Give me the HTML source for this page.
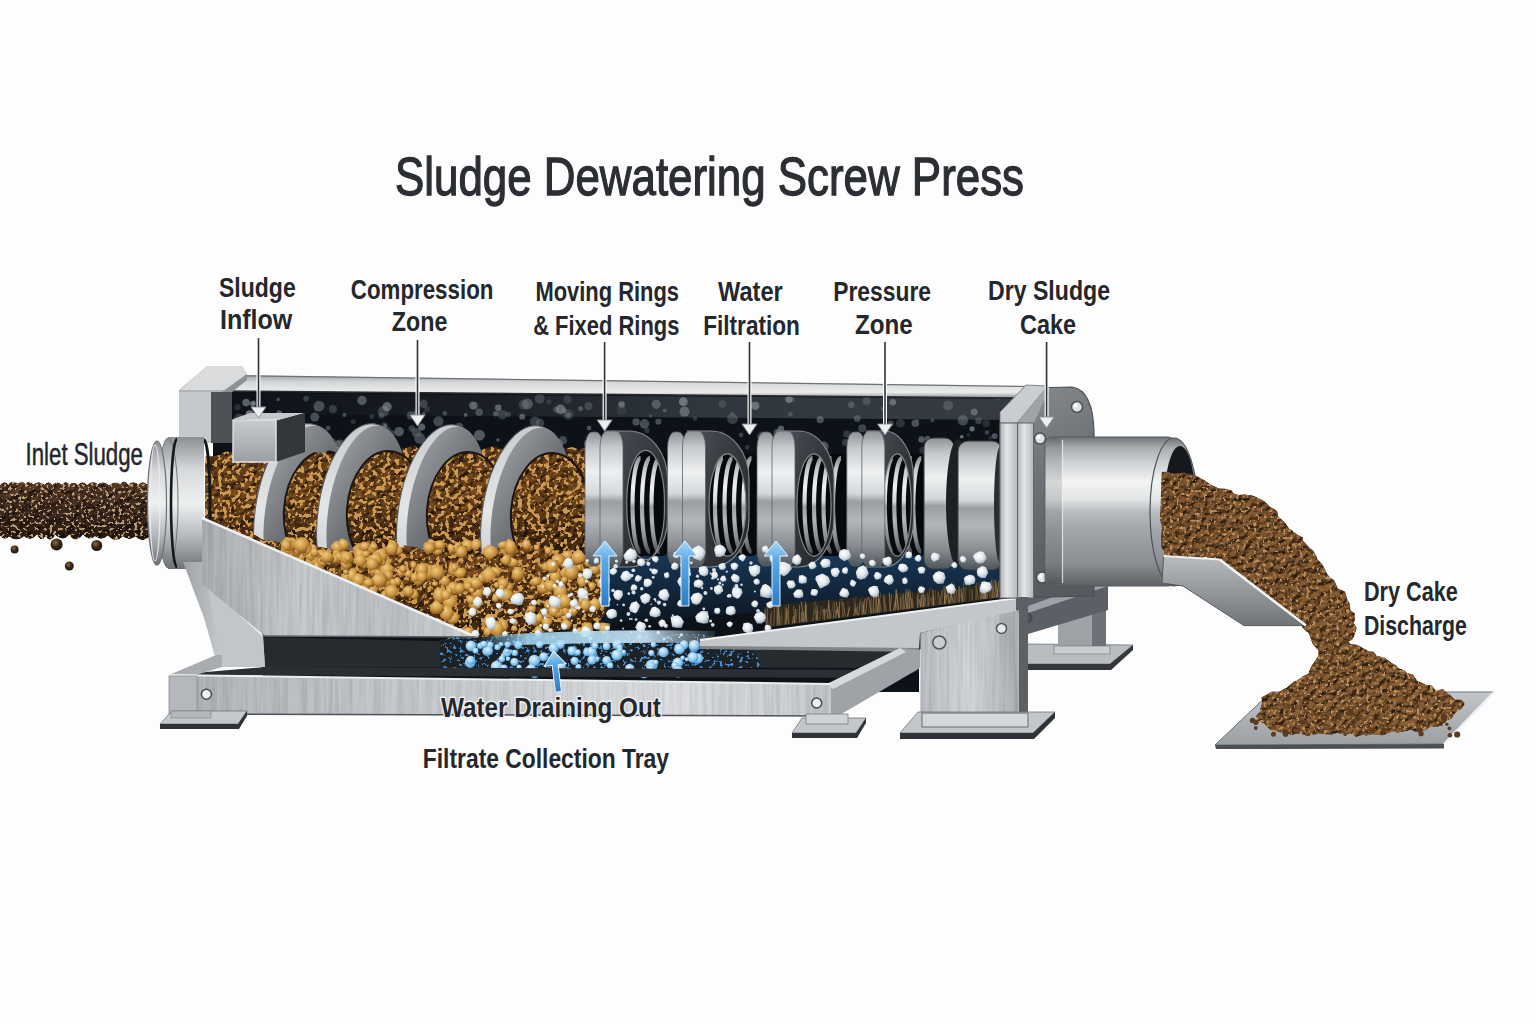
<!DOCTYPE html>
<html><head><meta charset="utf-8"><title>Sludge Dewatering Screw Press</title>
<style>
html,body{margin:0;padding:0;background:#fdfdfd;}
body{width:1536px;height:1024px;overflow:hidden;}
svg{display:block;}
text{font-family:"Liberation Sans",sans-serif;}
.lb{font-weight:bold;fill:#24272c;font-size:28px;}
</style></head>
<body>
<svg width="1536" height="1024" viewBox="0 0 1536 1024">
<defs>
<linearGradient id="gBar" x1="0" y1="0" x2="0" y2="1">
 <stop offset="0" stop-color="#9a9ea3"/><stop offset="0.3" stop-color="#d3d5d7"/><stop offset="0.75" stop-color="#eceded"/><stop offset="1" stop-color="#8d9196"/>
</linearGradient>
<linearGradient id="gSteelH" x1="0" y1="0" x2="1" y2="0">
 <stop offset="0" stop-color="#8d9196"/><stop offset="0.4" stop-color="#d9dbdd"/><stop offset="1" stop-color="#a3a7ab"/>
</linearGradient>
<linearGradient id="gCyl" x1="0" y1="0" x2="0" y2="1">
 <stop offset="0" stop-color="#6f7378"/><stop offset="0.07" stop-color="#a9adb1"/><stop offset="0.18" stop-color="#d0d3d5"/><stop offset="0.3" stop-color="#f3f4f4"/><stop offset="0.42" stop-color="#e2e4e5"/><stop offset="0.5" stop-color="#b9bcbf"/><stop offset="0.62" stop-color="#a3a7ab"/><stop offset="0.85" stop-color="#8a8e93"/><stop offset="1" stop-color="#5d6166"/>
</linearGradient>
<linearGradient id="gFlange" x1="0" y1="0" x2="0" y2="1">
 <stop offset="0" stop-color="#8c9095"/><stop offset="0.25" stop-color="#d7d9db"/><stop offset="0.5" stop-color="#eef0f0"/><stop offset="0.75" stop-color="#b7babd"/><stop offset="1" stop-color="#6e7277"/>
</linearGradient>
<linearGradient id="gRing" x1="0" y1="0" x2="1" y2="0">
 <stop offset="0" stop-color="#6c7176"/><stop offset="0.12" stop-color="#c9ccd0"/><stop offset="0.3" stop-color="#f1f2f3"/><stop offset="0.45" stop-color="#a9adb2"/><stop offset="0.6" stop-color="#d7dadc"/><stop offset="0.8" stop-color="#8d9297"/><stop offset="1" stop-color="#4f5459"/>
</linearGradient>
<linearGradient id="gRingV" x1="0" y1="0" x2="0" y2="1">
 <stop offset="0" stop-color="#000" stop-opacity="0.35"/><stop offset="0.3" stop-color="#fff" stop-opacity="0.15"/><stop offset="0.55" stop-color="#000" stop-opacity="0"/><stop offset="1" stop-color="#000" stop-opacity="0.35"/>
</linearGradient>
<linearGradient id="gFace" x1="0" y1="0" x2="1" y2="0">
 <stop offset="0" stop-color="#2b2f34"/><stop offset="0.6" stop-color="#4a4f55"/><stop offset="1" stop-color="#2a2e33"/>
</linearGradient>
<linearGradient id="gFlight" x1="0" y1="0" x2="1" y2="0">
 <stop offset="0" stop-color="#9ea2a6"/><stop offset="0.35" stop-color="#5b6065"/><stop offset="1" stop-color="#2e3237"/>
</linearGradient>
<linearGradient id="gBrown" x1="0" y1="0" x2="0" y2="1">
 <stop offset="0" stop-color="#4e3014"/><stop offset="0.45" stop-color="#5e3b18"/><stop offset="1" stop-color="#2e1c0a"/>
</linearGradient>
<linearGradient id="gGold" x1="0" y1="0" x2="0" y2="1">
 <stop offset="0" stop-color="#8a5a26"/><stop offset="1" stop-color="#6a4520"/>
</linearGradient>
<linearGradient id="gRope" x1="0" y1="0" x2="0" y2="1">
 <stop offset="0" stop-color="#4a3320"/><stop offset="0.4" stop-color="#5a3e26"/><stop offset="1" stop-color="#2b1d10"/>
</linearGradient>
<linearGradient id="gCake" x1="0" y1="0" x2="1" y2="1">
 <stop offset="0" stop-color="#674526"/><stop offset="1" stop-color="#6e4b2a"/>
</linearGradient>
<linearGradient id="gGusset" x1="0" y1="0" x2="1" y2="0">
 <stop offset="0" stop-color="#bfc2c5"/><stop offset="0.5" stop-color="#e3e4e5"/><stop offset="1" stop-color="#c7cacd"/>
</linearGradient>
<linearGradient id="gRail" x1="0" y1="0" x2="0" y2="1">
 <stop offset="0" stop-color="#b9bcbf"/><stop offset="0.3" stop-color="#e4e5e6"/><stop offset="0.7" stop-color="#d4d6d8"/><stop offset="1" stop-color="#8e9296"/>
</linearGradient>
<linearGradient id="gPlate" x1="0" y1="0" x2="1" y2="0">
 <stop offset="0" stop-color="#868b90"/><stop offset="0.5" stop-color="#a3a7ab"/><stop offset="1" stop-color="#7d8287"/>
</linearGradient>
<linearGradient id="gChute" x1="0" y1="0" x2="0" y2="1">
 <stop offset="0" stop-color="#b9bcc0"/><stop offset="1" stop-color="#6f7479"/>
</linearGradient>
<linearGradient id="gWater" x1="0" y1="0" x2="1" y2="0">
 <stop offset="0" stop-color="#7ec6f0" stop-opacity="0"/><stop offset="0.2" stop-color="#a9dbf6" stop-opacity="0.85"/><stop offset="0.7" stop-color="#c9e7f8" stop-opacity="0.9"/><stop offset="1" stop-color="#d8eefa" stop-opacity="0.1"/>
</linearGradient>
<filter id="grainGold" x="0" y="0" width="100%" height="100%" color-interpolation-filters="sRGB">
 <feTurbulence type="fractalNoise" baseFrequency="0.22" numOctaves="2" seed="4" result="n"/>
 <feColorMatrix in="n" type="matrix" values="0 0 0 0 0.78  0 0 0 0 0.58  0 0 0 0 0.3  16 0 0 0 -8.4" result="s"/>
 <feComposite in="s" in2="SourceGraphic" operator="in" result="s2"/>
 <feMerge><feMergeNode in="SourceGraphic"/><feMergeNode in="s2"/></feMerge>
</filter>
<filter id="grainRope" x="0" y="0" width="100%" height="100%" color-interpolation-filters="sRGB">
 <feTurbulence type="fractalNoise" baseFrequency="0.28" numOctaves="2" seed="11" result="n"/>
 <feColorMatrix in="n" type="matrix" values="0 0 0 0 0.72  0 0 0 0 0.6  0 0 0 0 0.47  14 0 0 0 -8.0" result="s"/>
 <feComposite in="s" in2="SourceGraphic" operator="in" result="s2"/>
 <feMerge><feMergeNode in="SourceGraphic"/><feMergeNode in="s2"/></feMerge>
</filter>
<filter id="grainCake" x="0" y="0" width="100%" height="100%" color-interpolation-filters="sRGB">
 <feTurbulence type="fractalNoise" baseFrequency="0.16" numOctaves="3" seed="7" result="n"/>
 <feColorMatrix in="n" type="matrix" values="0 0 0 0 0.6  0 0 0 0 0.45  0 0 0 0 0.26  10 0 0 0 -5.3" result="s"/>
 <feComposite in="s" in2="SourceGraphic" operator="in" result="s2"/>
 <feTurbulence type="fractalNoise" baseFrequency="0.13" numOctaves="2" seed="21" result="m"/>
 <feColorMatrix in="m" type="matrix" values="0 0 0 0 0.18  0 0 0 0 0.11  0 0 0 0 0.05  10 0 0 0 -5.6" result="d"/>
 <feComposite in="d" in2="SourceGraphic" operator="in" result="d2"/>
 <feMerge><feMergeNode in="SourceGraphic"/><feMergeNode in="s2"/><feMergeNode in="d2"/></feMerge>
</filter>
<filter id="spk" x="0" y="0" width="100%" height="100%" color-interpolation-filters="sRGB">
 <feTurbulence type="fractalNoise" baseFrequency="0.14" numOctaves="2" seed="3" result="n"/>
 <feColorMatrix in="n" type="matrix" values="0 0 0 0 0.42  0 0 0 0 0.47  0 0 0 0 0.52  10 0 0 0 -6.6" result="s"/>
 <feComposite in="s" in2="SourceGraphic" operator="in" result="s2"/>
 <feMerge><feMergeNode in="SourceGraphic"/><feMergeNode in="s2"/></feMerge>
</filter>
<filter id="spkBlue" x="0" y="0" width="100%" height="100%" color-interpolation-filters="sRGB">
 <feTurbulence type="fractalNoise" baseFrequency="0.3" numOctaves="2" seed="5" result="n"/>
 <feColorMatrix in="n" type="matrix" values="0 0 0 0 0.25  0 0 0 0 0.55  0 0 0 0 0.82  12 0 0 0 -7.0" result="s"/>
 <feComposite in="s" in2="SourceGraphic" operator="in" result="s2"/>
 <feMerge><feMergeNode in="SourceGraphic"/><feMergeNode in="s2"/></feMerge>
</filter>
<filter id="brush" x="0" y="0" width="100%" height="100%" color-interpolation-filters="sRGB">
 <feTurbulence type="fractalNoise" baseFrequency="0.3 0.012" numOctaves="2" seed="2" result="n"/>
 <feColorMatrix in="n" type="matrix" values="1.6 0 0 0 -0.05  1.6 0 0 0 -0.04  1.6 0 0 0 -0.02  0 0 0 0 0.1" result="s"/>
 <feComposite in="s" in2="SourceGraphic" operator="in" result="s2"/>
 <feMerge><feMergeNode in="SourceGraphic"/><feMergeNode in="s2"/></feMerge>
</filter>
<marker id="ah" viewBox="0 0 12 10" refX="6" refY="9" markerWidth="12" markerHeight="10" markerUnits="userSpaceOnUse" orient="auto-start-reverse">
</marker>
<filter id="lumpyCake" x="0" y="0" width="100%" height="100%" color-interpolation-filters="sRGB">
 <feTurbulence type="fractalNoise" baseFrequency="0.17" numOctaves="3" seed="7" result="n"/>
 <feColorMatrix in="n" type="matrix" values="0 0 0 0 0  0 0 0 0 0  0 0 0 0 0  1.6 0 0 0 -0.3" result="h"/>
 <feDiffuseLighting in="h" surfaceScale="3" diffuseConstant="1" lighting-color="#ffffff" result="light"><feDistantLight azimuth="240" elevation="50"/></feDiffuseLighting>
 <feComposite in="light" in2="SourceGraphic" operator="arithmetic" k1="0.95" k2="0" k3="0.38" k4="0" result="lit"/>
 <feTurbulence type="fractalNoise" baseFrequency="0.3" numOctaves="2" seed="13" result="m"/>
 <feColorMatrix in="m" type="matrix" values="0 0 0 0 0.72  0 0 0 0 0.56  0 0 0 0 0.36  14 0 0 0 -8.4" result="sp"/>
 <feMerge result="all"><feMergeNode in="lit"/><feMergeNode in="sp"/></feMerge>
 <feComposite in="all" in2="SourceGraphic" operator="in"/>
</filter>
<filter id="lumpyRope" x="0" y="0" width="100%" height="100%" color-interpolation-filters="sRGB">
 <feTurbulence type="fractalNoise" baseFrequency="0.14" numOctaves="3" seed="19" result="n"/>
 <feColorMatrix in="n" type="matrix" values="0 0 0 0 0  0 0 0 0 0  0 0 0 0 0  1.6 0 0 0 -0.3" result="h"/>
 <feDiffuseLighting in="h" surfaceScale="3" diffuseConstant="1" lighting-color="#ffffff" result="light"><feDistantLight azimuth="240" elevation="50"/></feDiffuseLighting>
 <feComposite in="light" in2="SourceGraphic" operator="arithmetic" k1="0.95" k2="0" k3="0.4" k4="0" result="lit"/>
 <feTurbulence type="fractalNoise" baseFrequency="0.32" numOctaves="2" seed="11" result="m"/>
 <feColorMatrix in="m" type="matrix" values="0 0 0 0 0.74  0 0 0 0 0.62  0 0 0 0 0.48  14 0 0 0 -8.2" result="sp"/>
 <feMerge result="all"><feMergeNode in="lit"/><feMergeNode in="sp"/></feMerge>
 <feComposite in="all" in2="SourceGraphic" operator="in"/>
</filter>
<filter id="lumpyGold" x="0" y="0" width="100%" height="100%" color-interpolation-filters="sRGB">
 <feTurbulence type="fractalNoise" baseFrequency="0.15" numOctaves="3" seed="4" result="n"/>
 <feColorMatrix in="n" type="matrix" values="0 0 0 0 0  0 0 0 0 0  0 0 0 0 0  1.6 0 0 0 -0.3" result="h"/>
 <feDiffuseLighting in="h" surfaceScale="3" diffuseConstant="1" lighting-color="#ffffff" result="light"><feDistantLight azimuth="240" elevation="50"/></feDiffuseLighting>
 <feComposite in="light" in2="SourceGraphic" operator="arithmetic" k1="0.95" k2="0" k3="0.4" k4="0" result="lit"/>
 <feTurbulence type="fractalNoise" baseFrequency="0.22" numOctaves="2" seed="4" result="m"/>
 <feColorMatrix in="m" type="matrix" values="0 0 0 0 0.8  0 0 0 0 0.6  0 0 0 0 0.32  16 0 0 0 -8.6" result="sp"/>
 <feMerge result="all"><feMergeNode in="lit"/><feMergeNode in="sp"/></feMerge>
 <feComposite in="all" in2="SourceGraphic" operator="in"/>
</filter>
</defs>
<rect x="0" y="0" width="1536" height="1024" fill="#fdfdfd"/>
<!-- TITLE -->
<text x="395.0" y="195" font-size="54" fill="#2b2e33" stroke="#2b2e33" stroke-width="1.3" textLength="629.0" lengthAdjust="spacingAndGlyphs">Sludge Dewatering Screw Press</text>
<g class="lb">
<text class="lb" x="219.0" y="297.3" textLength="76.7" lengthAdjust="spacingAndGlyphs">Sludge</text>
<text class="lb" x="220.0" y="328.6" textLength="72.3" lengthAdjust="spacingAndGlyphs">Inflow</text>
<text class="lb" x="350.8" y="298.9" textLength="142.6" lengthAdjust="spacingAndGlyphs">Compression</text>
<text class="lb" x="391.8" y="330.5" textLength="55.6" lengthAdjust="spacingAndGlyphs">Zone</text>
<text class="lb" x="535.4" y="300.9" textLength="143.6" lengthAdjust="spacingAndGlyphs">Moving Rings</text>
<text class="lb" x="533.2" y="334.5" textLength="146.2" lengthAdjust="spacingAndGlyphs">&amp; Fixed Rings</text>
<text class="lb" x="718.0" y="300.9" textLength="64.7" lengthAdjust="spacingAndGlyphs">Water</text>
<text class="lb" x="703.2" y="334.5" textLength="96.7" lengthAdjust="spacingAndGlyphs">Filtration</text>
<text class="lb" x="833.2" y="300.9" textLength="97.8" lengthAdjust="spacingAndGlyphs">Pressure</text>
<text class="lb" x="855.0" y="334" textLength="57.8" lengthAdjust="spacingAndGlyphs">Zone</text>
<text class="lb" x="988.0" y="300.3" textLength="122.0" lengthAdjust="spacingAndGlyphs">Dry Sludge</text>
<text class="lb" x="1020.0" y="333.5" textLength="56.0" lengthAdjust="spacingAndGlyphs">Cake</text>
</g>
<text x="25.6" y="464.5" font-size="30.5" fill="#24272c" stroke="#24272c" stroke-width="0.5" textLength="117.3" lengthAdjust="spacingAndGlyphs">Inlet Sludge</text>
<text class="lb" x="1364.0" y="600.5" textLength="93.8" lengthAdjust="spacingAndGlyphs">Dry Cake</text>
<text class="lb" x="1364.0" y="634.7" textLength="102.9" lengthAdjust="spacingAndGlyphs">Discharge</text>
<!-- inlet rope -->
<defs><linearGradient id="gRope2" x1="0" y1="0" x2="0" y2="1"><stop offset="0" stop-color="#46301e"/><stop offset="0.45" stop-color="#34231a"/><stop offset="1" stop-color="#22150b"/></linearGradient>
<radialGradient id="gDrip" cx="0.4" cy="0.35" r="0.7"><stop offset="0" stop-color="#8a6a50"/><stop offset="0.5" stop-color="#3b2814"/><stop offset="1" stop-color="#1e130a"/></radialGradient></defs>
<path d="M0,485 Q4.1,479.7 8.2,484.3 Q13.2,479.6 18.2,483.8 Q21.7,479.2 25.3,484.1 Q29.4,479.0 33.4,484.5 Q39.0,479.8 44.6,484.7 Q48.5,479.5 52.4,485.1 Q57.2,479.4 62.0,484.8 Q65.7,479.4 69.3,484.6 Q73.6,480.5 77.8,485.1 Q82.5,479.4 87.2,485.1 Q92.5,479.1 97.8,484.3 Q103.3,479.8 108.8,485.2 Q114.5,480.4 120.2,483.9 Q124.2,479.1 128.2,484.4 Q133.3,480.0 138.4,484.5 Q142.8,480.0 147.3,484.6 Q148.7,479.1 150.0,484.8 L150,536 Q142.7,544.0 135.5,536.5 Q129.1,541.6 122.8,536.2 Q115.4,544.2 108.0,535.6 Q101.5,541.7 95.0,536.2 Q89.0,542.0 83.0,534.6 Q76.0,544.5 69.1,534.7 Q62.3,542.4 55.5,534.8 Q50.4,543.7 45.4,536.2 Q41.2,543.2 37.1,534.6 Q30.6,542.2 24.1,536.3 Q16.6,542.8 9.2,536.5 Q4.6,541.3 0.0,535.7 Z" fill="url(#gRope2)" filter="url(#lumpyRope)"/>
<circle cx="14.6" cy="549.4" r="4" fill="url(#gDrip)"/>
<circle cx="56.6" cy="544.5" r="6" fill="url(#gDrip)"/>
<circle cx="96.7" cy="545.5" r="5.5" fill="url(#gDrip)"/>
<circle cx="69.3" cy="566" r="4.5" fill="url(#gDrip)"/>
<!-- far right support behind -->
<polygon points="1026,644 1133,645 1110,664 1026,664" fill="#b9bcc0" stroke="#6f7479" stroke-width="0.8"/>
<polygon points="1026,664 1110,664 1133,645 1133,650 1111,670 1026,670" fill="#34383d"/>
<polygon points="1058,598 1106,586 1106,652 1058,652" fill="#9ea2a7"/>
<polygon points="1092,589 1106,586 1106,652 1092,652" fill="#6d7278"/>
<rect x="1054" y="646" width="56" height="8" fill="#c9ccd0" stroke="#6f7479" stroke-width="0.6"/>
<!-- dark interior of housing -->
<polygon points="213,389 1022,396 1022,420 1010,430 1010,600 919,650 919,692 262,692 262,600 213,560" fill="#0c1218"/>
<!-- tray back wall -->
<polygon points="262,637 920,652 920,668 262,667" fill="#262b30"/>
<!-- blue tint under rings -->
<defs><linearGradient id="gBlueTint" x1="0" y1="0" x2="0" y2="1"><stop offset="0" stop-color="#1b426a"/><stop offset="1" stop-color="#0c1620"/></linearGradient></defs>
<path d="M585,530 L1000,530 L1000,590 L760,612 L585,625 Z" fill="url(#gBlueTint)"/>
<!-- mesh band -->
<defs><linearGradient id="gMesh" x1="0" y1="0" x2="1" y2="0"><stop offset="0" stop-color="#0c1218"/><stop offset="0.35" stop-color="#1a2026"/><stop offset="0.6" stop-color="#30373e"/><stop offset="1" stop-color="#343b42"/></linearGradient></defs>
<polygon points="225,393 1020,399 1020,420 225,414" fill="url(#gMesh)"/>
<!-- blue tint lower -->
<path d="M440,640 Q470,630 520,636 L700,634 Q760,640 760,668 L440,668 Z" fill="#1c2126" filter="url(#spkBlue)"/>
<circle cx="237.5" cy="407.2" r="3.1" fill="#5c646c" opacity="0.35"/>
<circle cx="314.8" cy="417.0" r="4.5" fill="#697179" opacity="0.64"/>
<circle cx="253.6" cy="403.0" r="2.4" fill="#9098a0" opacity="0.48"/>
<circle cx="386.2" cy="446.6" r="2.0" fill="#8a929a" opacity="0.42"/>
<circle cx="387.0" cy="430.1" r="3.9" fill="#767e86" opacity="0.37"/>
<circle cx="395.5" cy="446.0" r="3.7" fill="#5d656d" opacity="0.59"/>
<circle cx="502.4" cy="414.7" r="4.8" fill="#878f97" opacity="0.31"/>
<circle cx="795.5" cy="469.2" r="2.4" fill="#8e969e" opacity="0.56"/>
<circle cx="377.6" cy="450.6" r="2.4" fill="#5c646c" opacity="0.39"/>
<circle cx="454.5" cy="444.9" r="3.4" fill="#7f878f" opacity="0.64"/>
<circle cx="981.8" cy="479.5" r="2.7" fill="#6d757d" opacity="0.50"/>
<circle cx="362.0" cy="400.4" r="4.7" fill="#868e96" opacity="0.54"/>
<circle cx="301.8" cy="430.7" r="5.1" fill="#707880" opacity="0.34"/>
<circle cx="384.4" cy="425.4" r="3.1" fill="#5d656d" opacity="0.50"/>
<circle cx="319.1" cy="406.1" r="5.4" fill="#666e76" opacity="0.64"/>
<circle cx="383.3" cy="411.3" r="5.5" fill="#6a727a" opacity="0.47"/>
<circle cx="515.5" cy="448.2" r="4.0" fill="#5b636b" opacity="0.60"/>
<circle cx="602.7" cy="463.4" r="3.5" fill="#5a626a" opacity="0.39"/>
<circle cx="236.6" cy="428.8" r="2.6" fill="#6d757d" opacity="0.65"/>
<circle cx="330.0" cy="444.5" r="4.0" fill="#717981" opacity="0.58"/>
<circle cx="958.8" cy="469.1" r="3.7" fill="#9ea6ae" opacity="0.54"/>
<circle cx="781.5" cy="436.3" r="2.0" fill="#666e76" opacity="0.48"/>
<circle cx="495.8" cy="413.7" r="2.7" fill="#878f97" opacity="0.50"/>
<circle cx="556.0" cy="409.5" r="3.0" fill="#7e868e" opacity="0.37"/>
<circle cx="915.3" cy="423.2" r="3.8" fill="#798189" opacity="0.56"/>
<circle cx="866.6" cy="400.7" r="4.0" fill="#7a828a" opacity="0.39"/>
<circle cx="381.2" cy="415.6" r="2.9" fill="#868e96" opacity="0.34"/>
<circle cx="394.8" cy="477.5" r="4.3" fill="#969ea6" opacity="0.46"/>
<circle cx="731.4" cy="452.0" r="3.2" fill="#5f676f" opacity="0.47"/>
<circle cx="457.4" cy="436.8" r="1.5" fill="#575f67" opacity="0.40"/>
<circle cx="438.4" cy="421.3" r="5.1" fill="#767e86" opacity="0.50"/>
<circle cx="474.8" cy="405.9" r="3.8" fill="#6f777f" opacity="0.31"/>
<circle cx="927.6" cy="438.4" r="2.7" fill="#939ba3" opacity="0.48"/>
<circle cx="890.6" cy="423.3" r="3.1" fill="#727a82" opacity="0.49"/>
<circle cx="399.1" cy="431.7" r="4.8" fill="#767e86" opacity="0.64"/>
<circle cx="932.4" cy="420.4" r="1.9" fill="#9da5ad" opacity="0.32"/>
<circle cx="419.7" cy="438.3" r="5.5" fill="#697179" opacity="0.57"/>
<circle cx="466.6" cy="463.5" r="2.4" fill="#8f979f" opacity="0.49"/>
<circle cx="287.2" cy="438.5" r="3.4" fill="#798189" opacity="0.47"/>
<circle cx="597.1" cy="454.2" r="5.1" fill="#828a92" opacity="0.38"/>
<circle cx="994.7" cy="436.1" r="2.9" fill="#9fa7af" opacity="0.44"/>
<circle cx="899.4" cy="448.8" r="2.3" fill="#737b83" opacity="0.63"/>
<circle cx="791.9" cy="435.0" r="3.1" fill="#99a1a9" opacity="0.62"/>
<circle cx="558.5" cy="443.6" r="4.6" fill="#9199a1" opacity="0.32"/>
<circle cx="900.5" cy="423.2" r="4.3" fill="#707880" opacity="0.34"/>
<circle cx="522.2" cy="416.7" r="2.9" fill="#8c949c" opacity="0.57"/>
<circle cx="871.9" cy="447.0" r="4.8" fill="#8c949c" opacity="0.42"/>
<circle cx="371.8" cy="416.5" r="2.5" fill="#6c747c" opacity="0.34"/>
<circle cx="741.1" cy="434.9" r="2.3" fill="#98a0a8" opacity="0.33"/>
<circle cx="845.5" cy="442.4" r="3.4" fill="#848c94" opacity="0.35"/>
<circle cx="564.7" cy="410.8" r="2.5" fill="#808890" opacity="0.41"/>
<circle cx="881.6" cy="443.0" r="4.6" fill="#666e76" opacity="0.54"/>
<circle cx="879.5" cy="465.0" r="2.4" fill="#98a0a8" opacity="0.51"/>
<circle cx="820.2" cy="419.6" r="3.7" fill="#889098" opacity="0.51"/>
<circle cx="646.8" cy="468.2" r="2.5" fill="#606870" opacity="0.53"/>
<circle cx="357.9" cy="454.4" r="2.1" fill="#9ba3ab" opacity="0.55"/>
<circle cx="974.2" cy="412.1" r="3.5" fill="#a1a9b1" opacity="0.42"/>
<circle cx="528.5" cy="471.6" r="2.8" fill="#969ea6" opacity="0.43"/>
<circle cx="465.7" cy="415.0" r="1.9" fill="#929aa2" opacity="0.51"/>
<circle cx="495.0" cy="468.3" r="1.8" fill="#7c848c" opacity="0.58"/>
<circle cx="278.2" cy="399.5" r="1.7" fill="#838b93" opacity="0.50"/>
<circle cx="411.7" cy="428.4" r="3.2" fill="#99a1a9" opacity="0.32"/>
<circle cx="539.9" cy="440.2" r="2.1" fill="#5b636b" opacity="0.42"/>
<circle cx="646.9" cy="430.4" r="2.7" fill="#636b73" opacity="0.41"/>
<circle cx="420.6" cy="469.3" r="5.2" fill="#848c94" opacity="0.48"/>
<circle cx="558.0" cy="479.4" r="5.4" fill="#586068" opacity="0.52"/>
<circle cx="414.0" cy="415.6" r="1.6" fill="#646c74" opacity="0.61"/>
<circle cx="444.8" cy="413.4" r="2.4" fill="#9199a1" opacity="0.36"/>
<circle cx="589.1" cy="428.0" r="2.4" fill="#848c94" opacity="0.53"/>
<circle cx="780.9" cy="428.8" r="3.2" fill="#9fa7af" opacity="0.49"/>
<circle cx="789.0" cy="399.3" r="3.6" fill="#9aa2aa" opacity="0.58"/>
<circle cx="961.8" cy="436.7" r="1.8" fill="#a2aab2" opacity="0.63"/>
<circle cx="633.3" cy="443.3" r="1.5" fill="#979fa7" opacity="0.54"/>
<circle cx="978.5" cy="420.9" r="3.3" fill="#6b737b" opacity="0.46"/>
<circle cx="416.6" cy="413.3" r="3.5" fill="#747c84" opacity="0.34"/>
<circle cx="735.5" cy="447.3" r="2.6" fill="#5b636b" opacity="0.39"/>
<circle cx="439.5" cy="478.9" r="1.6" fill="#899199" opacity="0.44"/>
<circle cx="587.1" cy="443.6" r="3.3" fill="#979fa7" opacity="0.46"/>
<circle cx="751.1" cy="461.4" r="2.2" fill="#828a92" opacity="0.43"/>
<circle cx="353.2" cy="421.6" r="2.6" fill="#676f77" opacity="0.34"/>
<circle cx="423.5" cy="403.7" r="4.2" fill="#959da5" opacity="0.32"/>
<circle cx="650.6" cy="415.8" r="1.9" fill="#5d656d" opacity="0.57"/>
<circle cx="664.7" cy="410.6" r="2.0" fill="#9ea6ae" opacity="0.33"/>
<circle cx="862.2" cy="428.3" r="4.0" fill="#5d656d" opacity="0.60"/>
<circle cx="905.3" cy="467.2" r="5.5" fill="#969ea6" opacity="0.38"/>
<circle cx="591.4" cy="454.3" r="2.4" fill="#99a1a9" opacity="0.53"/>
<circle cx="246.1" cy="402.6" r="3.8" fill="#838b93" opacity="0.65"/>
<circle cx="695.1" cy="418.4" r="2.4" fill="#5e666e" opacity="0.46"/>
<circle cx="340.2" cy="444.5" r="5.0" fill="#656d75" opacity="0.54"/>
<circle cx="530.9" cy="446.0" r="1.8" fill="#777f87" opacity="0.47"/>
<circle cx="636.1" cy="421.9" r="3.7" fill="#899199" opacity="0.48"/>
<circle cx="302.9" cy="444.0" r="2.1" fill="#575f67" opacity="0.62"/>
<circle cx="857.3" cy="418.4" r="3.5" fill="#707880" opacity="0.54"/>
<circle cx="877.2" cy="463.8" r="2.9" fill="#788088" opacity="0.53"/>
<circle cx="534.8" cy="421.6" r="5.0" fill="#868e96" opacity="0.37"/>
<circle cx="473.0" cy="405.6" r="4.0" fill="#8d959d" opacity="0.50"/>
<circle cx="893.8" cy="450.7" r="3.7" fill="#757d85" opacity="0.50"/>
<circle cx="459.1" cy="427.2" r="4.4" fill="#828a92" opacity="0.51"/>
<circle cx="421.7" cy="427.0" r="3.5" fill="#a1a9b1" opacity="0.51"/>
<circle cx="391.3" cy="434.1" r="3.8" fill="#606870" opacity="0.48"/>
<circle cx="539.7" cy="398.8" r="4.9" fill="#5b636b" opacity="0.55"/>
<circle cx="228.2" cy="405.0" r="3.8" fill="#7e868e" opacity="0.38"/>
<circle cx="562.8" cy="440.3" r="4.3" fill="#7a828a" opacity="0.49"/>
<circle cx="755.2" cy="405.8" r="4.1" fill="#8d959d" opacity="0.62"/>
<circle cx="423.8" cy="413.3" r="1.6" fill="#808890" opacity="0.50"/>
<circle cx="303.4" cy="425.8" r="3.7" fill="#6a727a" opacity="0.52"/>
<circle cx="508.2" cy="414.3" r="2.6" fill="#596169" opacity="0.53"/>
<circle cx="684.5" cy="411.6" r="5.0" fill="#98a0a8" opacity="0.49"/>
<circle cx="747.4" cy="447.2" r="2.3" fill="#606870" opacity="0.46"/>
<circle cx="257.0" cy="435.9" r="2.9" fill="#7e868e" opacity="0.36"/>
<circle cx="793.6" cy="439.3" r="1.9" fill="#676f77" opacity="0.41"/>
<circle cx="858.8" cy="453.6" r="5.2" fill="#575f67" opacity="0.32"/>
<circle cx="609.2" cy="477.8" r="2.7" fill="#949ca4" opacity="0.35"/>
<circle cx="521.9" cy="466.7" r="2.5" fill="#798189" opacity="0.59"/>
<circle cx="962.9" cy="420.2" r="5.3" fill="#7d858d" opacity="0.47"/>
<circle cx="332.6" cy="441.7" r="3.5" fill="#6f777f" opacity="0.39"/>
<circle cx="782.4" cy="460.2" r="2.6" fill="#777f87" opacity="0.48"/>
<circle cx="732.5" cy="418.7" r="5.4" fill="#7a828a" opacity="0.40"/>
<circle cx="279.3" cy="413.2" r="2.9" fill="#a0a8b0" opacity="0.47"/>
<circle cx="968.4" cy="434.8" r="1.7" fill="#717981" opacity="0.30"/>
<circle cx="503.2" cy="474.0" r="1.7" fill="#889098" opacity="0.61"/>
<circle cx="519.0" cy="436.6" r="4.0" fill="#7c848c" opacity="0.51"/>
<circle cx="504.3" cy="461.5" r="4.3" fill="#7c848c" opacity="0.51"/>
<circle cx="332.9" cy="408.9" r="4.0" fill="#9199a1" opacity="0.30"/>
<circle cx="972.1" cy="428.8" r="2.6" fill="#9fa7af" opacity="0.62"/>
<circle cx="498.0" cy="439.9" r="1.7" fill="#929aa2" opacity="0.53"/>
<circle cx="285.4" cy="478.6" r="5.2" fill="#7d858d" opacity="0.56"/>
<circle cx="580.6" cy="408.6" r="2.5" fill="#838b93" opacity="0.44"/>
<circle cx="267.8" cy="452.6" r="4.7" fill="#5d656d" opacity="0.62"/>
<circle cx="971.8" cy="450.5" r="2.9" fill="#979fa7" opacity="0.37"/>
<circle cx="986.9" cy="432.5" r="2.2" fill="#767e86" opacity="0.46"/>
<circle cx="546.2" cy="441.6" r="2.4" fill="#636b73" opacity="0.52"/>
<circle cx="883.3" cy="409.0" r="2.2" fill="#7e868e" opacity="0.50"/>
<circle cx="792.3" cy="399.7" r="2.6" fill="#717981" opacity="0.32"/>
<circle cx="865.8" cy="442.4" r="5.1" fill="#99a1a9" opacity="0.46"/>
<circle cx="775.5" cy="459.5" r="3.0" fill="#959da5" opacity="0.64"/>
<circle cx="644.5" cy="423.9" r="4.8" fill="#6d757d" opacity="0.60"/>
<circle cx="527.5" cy="404.0" r="5.4" fill="#717981" opacity="0.58"/>
<circle cx="523.9" cy="404.6" r="5.1" fill="#757d85" opacity="0.37"/>
<circle cx="306.1" cy="398.7" r="2.9" fill="#606870" opacity="0.49"/>
<circle cx="498.2" cy="407.8" r="3.3" fill="#969ea6" opacity="0.54"/>
<circle cx="249.6" cy="414.2" r="4.0" fill="#a1a9b1" opacity="0.63"/>
<circle cx="684.1" cy="454.1" r="3.1" fill="#5b636b" opacity="0.64"/>
<circle cx="244.7" cy="443.2" r="5.5" fill="#777f87" opacity="0.60"/>
<circle cx="823.7" cy="446.5" r="4.9" fill="#798189" opacity="0.60"/>
<circle cx="563.1" cy="474.9" r="3.2" fill="#868e96" opacity="0.35"/>
<circle cx="917.7" cy="420.4" r="1.5" fill="#575f67" opacity="0.59"/>
<circle cx="598.2" cy="476.3" r="1.9" fill="#757d85" opacity="0.39"/>
<circle cx="857.4" cy="445.1" r="2.4" fill="#717981" opacity="0.53"/>
<circle cx="948.2" cy="405.4" r="5.0" fill="#9199a1" opacity="0.31"/>
<circle cx="479.4" cy="435.2" r="5.5" fill="#798189" opacity="0.64"/>
<circle cx="344.5" cy="414.9" r="2.1" fill="#777f87" opacity="0.53"/>
<circle cx="567.5" cy="399.4" r="4.1" fill="#596169" opacity="0.41"/>
<circle cx="986.2" cy="423.2" r="3.7" fill="#606870" opacity="0.34"/>
<circle cx="387.1" cy="406.7" r="4.6" fill="#969ea6" opacity="0.57"/>
<circle cx="790.4" cy="414.1" r="2.4" fill="#9098a0" opacity="0.30"/>
<circle cx="990.7" cy="437.7" r="2.0" fill="#5a626a" opacity="0.36"/>
<circle cx="997.7" cy="398.3" r="2.1" fill="#575f67" opacity="0.53"/>
<circle cx="328.1" cy="428.2" r="2.4" fill="#9199a1" opacity="0.42"/>
<circle cx="921.6" cy="439.4" r="3.2" fill="#8e969e" opacity="0.56"/>
<circle cx="621.6" cy="404.5" r="3.3" fill="#899199" opacity="0.62"/>
<circle cx="245.7" cy="428.1" r="4.3" fill="#969ea6" opacity="0.47"/>
<circle cx="427.0" cy="409.0" r="2.9" fill="#596169" opacity="0.38"/>
<circle cx="732.0" cy="413.6" r="2.1" fill="#586068" opacity="0.53"/>
<circle cx="721.3" cy="433.2" r="2.5" fill="#5f676f" opacity="0.30"/>
<circle cx="630.9" cy="453.6" r="4.3" fill="#687078" opacity="0.30"/>
<circle cx="588.5" cy="406.3" r="4.0" fill="#7e868e" opacity="0.34"/>
<circle cx="413.3" cy="463.4" r="3.8" fill="#818991" opacity="0.41"/>
<circle cx="249.5" cy="440.0" r="2.7" fill="#697179" opacity="0.37"/>
<circle cx="621.6" cy="410.3" r="4.9" fill="#586068" opacity="0.31"/>
<circle cx="560.6" cy="409.4" r="4.9" fill="#939ba3" opacity="0.57"/>
<circle cx="315.6" cy="408.7" r="2.3" fill="#5c646c" opacity="0.31"/>
<circle cx="596.5" cy="472.5" r="1.6" fill="#7e868e" opacity="0.50"/>
<circle cx="722.6" cy="403.9" r="3.8" fill="#575f67" opacity="0.56"/>
<circle cx="922.5" cy="450.3" r="3.2" fill="#5e666e" opacity="0.36"/>
<circle cx="803.3" cy="448.6" r="4.3" fill="#9ea6ae" opacity="0.47"/>
<circle cx="373.6" cy="425.4" r="2.8" fill="#969ea6" opacity="0.35"/>
<circle cx="762.3" cy="436.7" r="5.2" fill="#8d959d" opacity="0.36"/>
<circle cx="657.0" cy="452.2" r="3.1" fill="#858d95" opacity="0.59"/>
<circle cx="416.4" cy="432.5" r="4.6" fill="#616971" opacity="0.61"/>
<circle cx="683.3" cy="401.7" r="4.4" fill="#a1a9b1" opacity="0.57"/>
<circle cx="555.1" cy="470.6" r="2.7" fill="#6e767e" opacity="0.38"/>
<circle cx="639.5" cy="443.9" r="2.6" fill="#666e76" opacity="0.47"/>
<circle cx="479.2" cy="412.3" r="3.7" fill="#6f777f" opacity="0.57"/>
<circle cx="846.7" cy="434.1" r="3.5" fill="#586068" opacity="0.52"/>
<circle cx="892.8" cy="402.3" r="3.3" fill="#939ba3" opacity="0.54"/>
<circle cx="540.0" cy="422.9" r="4.4" fill="#616971" opacity="0.51"/>
<circle cx="712.1" cy="449.0" r="3.5" fill="#676f77" opacity="0.33"/>
<circle cx="615.5" cy="474.9" r="4.4" fill="#707880" opacity="0.53"/>
<circle cx="359.7" cy="437.3" r="5.5" fill="#666e76" opacity="0.31"/>
<circle cx="252.6" cy="404.0" r="2.8" fill="#9199a1" opacity="0.56"/>
<circle cx="851.3" cy="404.7" r="3.2" fill="#a2aab2" opacity="0.31"/>
<circle cx="568.3" cy="414.5" r="5.4" fill="#687078" opacity="0.32"/>
<circle cx="315.4" cy="451.6" r="5.4" fill="#8a929a" opacity="0.40"/>
<circle cx="410.9" cy="415.4" r="4.1" fill="#98a0a8" opacity="0.35"/>
<circle cx="339.5" cy="477.8" r="4.8" fill="#8d959d" opacity="0.38"/>
<circle cx="239.3" cy="419.0" r="5.2" fill="#878f97" opacity="0.35"/>
<circle cx="432.6" cy="451.6" r="3.5" fill="#9ba3ab" opacity="0.60"/>
<circle cx="707.6" cy="452.7" r="2.4" fill="#878f97" opacity="0.37"/>
<circle cx="547.7" cy="447.1" r="4.4" fill="#a2aab2" opacity="0.35"/>
<circle cx="777.8" cy="433.3" r="4.5" fill="#848c94" opacity="0.47"/>
<circle cx="284.0" cy="429.1" r="4.0" fill="#5a626a" opacity="0.50"/>
<circle cx="337.9" cy="444.8" r="4.2" fill="#727a82" opacity="0.53"/>
<circle cx="658.3" cy="421.8" r="3.0" fill="#a2aab2" opacity="0.40"/>
<circle cx="385.2" cy="425.8" r="1.8" fill="#878f97" opacity="0.56"/>
<circle cx="568.2" cy="415.1" r="2.9" fill="#868e96" opacity="0.42"/>
<circle cx="524.1" cy="471.2" r="3.3" fill="#9da5ad" opacity="0.48"/>
<circle cx="656.3" cy="404.2" r="4.5" fill="#899199" opacity="0.46"/>
<circle cx="549.0" cy="401.8" r="2.6" fill="#5c646c" opacity="0.35"/>
<!-- top bar -->
<polygon points="222,375 1028,386 1028,398 222,391" fill="url(#gBar)"/>
<line x1="222" y1="375.5" x2="1028" y2="386.5" stroke="#6e7276" stroke-width="1.2"/>
<line x1="222" y1="391" x2="1028" y2="398" stroke="#2a2e32" stroke-width="1.5"/>
<!-- screw core sludge -->
<defs>
<clipPath id="cCore"><path d="M205.2,456.2 L212.4,456.2 L219.4,455.1 L225.3,451.8 L233.7,451.7 L240.6,448.1 L246.0,448.9 L252.1,450.8 L257.3,449.2 L263.7,452.9 L270.4,449.3 L276.4,449.4 L282.2,449.5 L287.3,453.5 L293.6,450.4 L300.7,453.9 L305.9,453.8 L312.6,451.9 L318.3,452.7 L325.3,452.3 L331.8,448.5 L337.3,447.3 L343.2,446.3 L349.7,448.5 L355.6,448.8 L362.5,446.9 L369.6,447.6 L375.2,447.5 L382.1,445.3 L388.9,445.1 L394.9,449.1 L400.2,448.7 L407.1,447.6 L412.9,444.8 L419.5,449.3 L425.5,448.5 L432.6,449.6 L437.8,446.9 L444.0,449.2 L449.4,449.2 L456.4,450.0 L461.3,450.6 L467.4,447.8 L474.2,450.9 L479.8,451.1 L486.1,447.8 L491.7,446.8 L497.4,446.3 L504.3,450.3 L509.5,445.2 L516.7,447.4 L521.9,445.6 L528.1,448.2 L533.9,445.9 L539.3,448.1 L545.8,446.2 L553.5,444.7 L559.8,449.0 L566.2,448.4 L571.9,446.9 L578.5,449.2 L585.2,447.5 L592.0,448.0 L595.0,560.0 L205.0,550.0 Z"/></clipPath>
<linearGradient id="gFace2" x1="0" y1="0" x2="1" y2="1"><stop offset="0" stop-color="#a2a6aa"/><stop offset="0.45" stop-color="#6c7075"/><stop offset="1" stop-color="#3a3e42"/></linearGradient>
<linearGradient id="gRim" x1="0" y1="0" x2="0" y2="1"><stop offset="0" stop-color="#c9cbce"/><stop offset="0.5" stop-color="#e4e5e6"/><stop offset="1" stop-color="#b9bcbf"/></linearGradient>
<clipPath id="ci0"><ellipse cx="323" cy="511" rx="39" ry="60" transform="rotate(4 323 511)"/></clipPath>
<clipPath id="ci1"><ellipse cx="386" cy="511" rx="39" ry="60" transform="rotate(4 386 511)"/></clipPath>
<clipPath id="ci2"><ellipse cx="466" cy="512" rx="39" ry="60" transform="rotate(4 466 512)"/></clipPath>
<clipPath id="ci3"><ellipse cx="550" cy="513" rx="39" ry="60" transform="rotate(4 550 513)"/></clipPath>
</defs>
<path d="M205.2,456.2 L212.4,456.2 L219.4,455.1 L225.3,451.8 L233.7,451.7 L240.6,448.1 L246.0,448.9 L252.1,450.8 L257.3,449.2 L263.7,452.9 L270.4,449.3 L276.4,449.4 L282.2,449.5 L287.3,453.5 L293.6,450.4 L300.7,453.9 L305.9,453.8 L312.6,451.9 L318.3,452.7 L325.3,452.3 L331.8,448.5 L337.3,447.3 L343.2,446.3 L349.7,448.5 L355.6,448.8 L362.5,446.9 L369.6,447.6 L375.2,447.5 L382.1,445.3 L388.9,445.1 L394.9,449.1 L400.2,448.7 L407.1,447.6 L412.9,444.8 L419.5,449.3 L425.5,448.5 L432.6,449.6 L437.8,446.9 L444.0,449.2 L449.4,449.2 L456.4,450.0 L461.3,450.6 L467.4,447.8 L474.2,450.9 L479.8,451.1 L486.1,447.8 L491.7,446.8 L497.4,446.3 L504.3,450.3 L509.5,445.2 L516.7,447.4 L521.9,445.6 L528.1,448.2 L533.9,445.9 L539.3,448.1 L545.8,446.2 L553.5,444.7 L559.8,449.0 L566.2,448.4 L571.9,446.9 L578.5,449.2 L585.2,447.5 L592.0,448.0 L595.0,560.0 L205.0,550.0 Z" fill="url(#gBrown)" filter="url(#lumpyGold)"/>
<ellipse cx="299" cy="514" rx="44" ry="91" transform="rotate(8 299 514)" fill="url(#gRim)" stroke="#5c6065" stroke-width="1"/>
<ellipse cx="304" cy="514" rx="39" ry="89" transform="rotate(8 304 514)" fill="url(#gFace2)"/>
<g clip-path="url(#cCore)"><g clip-path="url(#ci0)"><path d="M205.2,456.2 L212.4,456.2 L219.4,455.1 L225.3,451.8 L233.7,451.7 L240.6,448.1 L246.0,448.9 L252.1,450.8 L257.3,449.2 L263.7,452.9 L270.4,449.3 L276.4,449.4 L282.2,449.5 L287.3,453.5 L293.6,450.4 L300.7,453.9 L305.9,453.8 L312.6,451.9 L318.3,452.7 L325.3,452.3 L331.8,448.5 L337.3,447.3 L343.2,446.3 L349.7,448.5 L355.6,448.8 L362.5,446.9 L369.6,447.6 L375.2,447.5 L382.1,445.3 L388.9,445.1 L394.9,449.1 L400.2,448.7 L407.1,447.6 L412.9,444.8 L419.5,449.3 L425.5,448.5 L432.6,449.6 L437.8,446.9 L444.0,449.2 L449.4,449.2 L456.4,450.0 L461.3,450.6 L467.4,447.8 L474.2,450.9 L479.8,451.1 L486.1,447.8 L491.7,446.8 L497.4,446.3 L504.3,450.3 L509.5,445.2 L516.7,447.4 L521.9,445.6 L528.1,448.2 L533.9,445.9 L539.3,448.1 L545.8,446.2 L553.5,444.7 L559.8,449.0 L566.2,448.4 L571.9,446.9 L578.5,449.2 L585.2,447.5 L592.0,448.0 L595.0,560.0 L205.0,550.0 Z" fill="url(#gBrown)" filter="url(#lumpyGold)"/></g><ellipse cx="323" cy="511" rx="39" ry="60" transform="rotate(4 323 511)" fill="none" stroke="#1b1410" stroke-width="2"/></g>
<ellipse cx="362" cy="514" rx="44" ry="91" transform="rotate(8 362 514)" fill="url(#gRim)" stroke="#5c6065" stroke-width="1"/>
<ellipse cx="367" cy="514" rx="39" ry="89" transform="rotate(8 367 514)" fill="url(#gFace2)"/>
<g clip-path="url(#cCore)"><g clip-path="url(#ci1)"><path d="M205.2,456.2 L212.4,456.2 L219.4,455.1 L225.3,451.8 L233.7,451.7 L240.6,448.1 L246.0,448.9 L252.1,450.8 L257.3,449.2 L263.7,452.9 L270.4,449.3 L276.4,449.4 L282.2,449.5 L287.3,453.5 L293.6,450.4 L300.7,453.9 L305.9,453.8 L312.6,451.9 L318.3,452.7 L325.3,452.3 L331.8,448.5 L337.3,447.3 L343.2,446.3 L349.7,448.5 L355.6,448.8 L362.5,446.9 L369.6,447.6 L375.2,447.5 L382.1,445.3 L388.9,445.1 L394.9,449.1 L400.2,448.7 L407.1,447.6 L412.9,444.8 L419.5,449.3 L425.5,448.5 L432.6,449.6 L437.8,446.9 L444.0,449.2 L449.4,449.2 L456.4,450.0 L461.3,450.6 L467.4,447.8 L474.2,450.9 L479.8,451.1 L486.1,447.8 L491.7,446.8 L497.4,446.3 L504.3,450.3 L509.5,445.2 L516.7,447.4 L521.9,445.6 L528.1,448.2 L533.9,445.9 L539.3,448.1 L545.8,446.2 L553.5,444.7 L559.8,449.0 L566.2,448.4 L571.9,446.9 L578.5,449.2 L585.2,447.5 L592.0,448.0 L595.0,560.0 L205.0,550.0 Z" fill="url(#gBrown)" filter="url(#lumpyGold)"/></g><ellipse cx="386" cy="511" rx="39" ry="60" transform="rotate(4 386 511)" fill="none" stroke="#1b1410" stroke-width="2"/></g>
<ellipse cx="442" cy="515" rx="44" ry="91" transform="rotate(8 442 515)" fill="url(#gRim)" stroke="#5c6065" stroke-width="1"/>
<ellipse cx="447" cy="515" rx="39" ry="89" transform="rotate(8 447 515)" fill="url(#gFace2)"/>
<g clip-path="url(#cCore)"><g clip-path="url(#ci2)"><path d="M205.2,456.2 L212.4,456.2 L219.4,455.1 L225.3,451.8 L233.7,451.7 L240.6,448.1 L246.0,448.9 L252.1,450.8 L257.3,449.2 L263.7,452.9 L270.4,449.3 L276.4,449.4 L282.2,449.5 L287.3,453.5 L293.6,450.4 L300.7,453.9 L305.9,453.8 L312.6,451.9 L318.3,452.7 L325.3,452.3 L331.8,448.5 L337.3,447.3 L343.2,446.3 L349.7,448.5 L355.6,448.8 L362.5,446.9 L369.6,447.6 L375.2,447.5 L382.1,445.3 L388.9,445.1 L394.9,449.1 L400.2,448.7 L407.1,447.6 L412.9,444.8 L419.5,449.3 L425.5,448.5 L432.6,449.6 L437.8,446.9 L444.0,449.2 L449.4,449.2 L456.4,450.0 L461.3,450.6 L467.4,447.8 L474.2,450.9 L479.8,451.1 L486.1,447.8 L491.7,446.8 L497.4,446.3 L504.3,450.3 L509.5,445.2 L516.7,447.4 L521.9,445.6 L528.1,448.2 L533.9,445.9 L539.3,448.1 L545.8,446.2 L553.5,444.7 L559.8,449.0 L566.2,448.4 L571.9,446.9 L578.5,449.2 L585.2,447.5 L592.0,448.0 L595.0,560.0 L205.0,550.0 Z" fill="url(#gBrown)" filter="url(#lumpyGold)"/></g><ellipse cx="466" cy="512" rx="39" ry="60" transform="rotate(4 466 512)" fill="none" stroke="#1b1410" stroke-width="2"/></g>
<ellipse cx="526" cy="516" rx="44" ry="91" transform="rotate(8 526 516)" fill="url(#gRim)" stroke="#5c6065" stroke-width="1"/>
<ellipse cx="531" cy="516" rx="39" ry="89" transform="rotate(8 531 516)" fill="url(#gFace2)"/>
<g clip-path="url(#cCore)"><g clip-path="url(#ci3)"><path d="M205.2,456.2 L212.4,456.2 L219.4,455.1 L225.3,451.8 L233.7,451.7 L240.6,448.1 L246.0,448.9 L252.1,450.8 L257.3,449.2 L263.7,452.9 L270.4,449.3 L276.4,449.4 L282.2,449.5 L287.3,453.5 L293.6,450.4 L300.7,453.9 L305.9,453.8 L312.6,451.9 L318.3,452.7 L325.3,452.3 L331.8,448.5 L337.3,447.3 L343.2,446.3 L349.7,448.5 L355.6,448.8 L362.5,446.9 L369.6,447.6 L375.2,447.5 L382.1,445.3 L388.9,445.1 L394.9,449.1 L400.2,448.7 L407.1,447.6 L412.9,444.8 L419.5,449.3 L425.5,448.5 L432.6,449.6 L437.8,446.9 L444.0,449.2 L449.4,449.2 L456.4,450.0 L461.3,450.6 L467.4,447.8 L474.2,450.9 L479.8,451.1 L486.1,447.8 L491.7,446.8 L497.4,446.3 L504.3,450.3 L509.5,445.2 L516.7,447.4 L521.9,445.6 L528.1,448.2 L533.9,445.9 L539.3,448.1 L545.8,446.2 L553.5,444.7 L559.8,449.0 L566.2,448.4 L571.9,446.9 L578.5,449.2 L585.2,447.5 L592.0,448.0 L595.0,560.0 L205.0,550.0 Z" fill="url(#gBrown)" filter="url(#lumpyGold)"/></g><ellipse cx="550" cy="513" rx="39" ry="60" transform="rotate(4 550 513)" fill="none" stroke="#1b1410" stroke-width="2"/></g>
<path d="M205.9,522.1 L212.3,521.9 L217.8,525.7 L224.2,525.2 L230.5,526.5 L236.9,533.6 L244.4,533.6 L250.0,534.0 L255.5,534.9 L263.0,539.7 L268.5,540.5 L275.5,541.2 L281.5,542.8 L287.3,543.7 L293.4,543.7 L300.5,546.1 L306.3,548.2 L313.6,546.5 L319.1,546.8 L326.2,548.0 L333.3,549.4 L340.3,549.8 L346.4,549.5 L353.8,551.3 L359.7,552.1 L367.3,551.8 L374.2,554.1 L380.0,552.2 L385.4,552.8 L392.8,549.5 L398.3,549.7 L404.4,545.2 L410.5,546.5 L416.3,546.7 L422.2,550.0 L428.2,550.9 L433.1,548.8 L439.9,552.9 L445.5,553.9 L452.2,550.9 L457.9,552.8 L463.2,553.0 L469.7,554.1 L475.4,551.6 L481.9,552.1 L488.2,551.7 L493.5,552.0 L499.1,547.4 L505.6,546.9 L511.3,548.8 L517.8,543.4 L524.2,543.2 L530.1,544.0 L536.1,549.1 L542.6,547.3 L548.6,550.1 L553.8,548.5 L560.2,552.4 L567.1,555.8 L572.7,553.1 L579.5,552.0 L584.3,556.4 L590.2,558.5 L595.2,567.7 L599.8,569.6 L601.5,574.7 L604.9,581.3 L606.8,590.5 L608.2,592.6 L610.9,600.0 L607.3,605.2 L605.9,612.5 L602.1,618.6 L599.3,625.7 L593.2,624.9 L587.2,629.3 L579.1,628.7 L572.9,632.3 L567.2,629.3 L559.6,629.9 L554.2,631.4 L546.9,633.2 L540.3,634.6 L533.8,632.4 L527.1,634.1 L520.0,636.0 L476.0,637.0 L202.0,518.0 Z" fill="url(#gBrown)" filter="url(#lumpyGold)"/>
<defs><radialGradient id="gClump" cx="0.4" cy="0.35" r="0.7"><stop offset="0" stop-color="#f0cc84"/><stop offset="0.55" stop-color="#c99440"/><stop offset="1" stop-color="#7a4c1a"/></radialGradient></defs>
<path d="M435.9,572.0 L435.8,574.7 L433.3,575.1 L430.5,572.5 L429.6,570.0 L432.2,567.6 L434.6,568.6 Z" fill="url(#gClump)"/>
<path d="M329.1,556.9 L326.2,562.6 L320.6,563.4 L312.6,559.2 L314.7,553.9 L318.1,550.1 L325.0,549.0 Z" fill="url(#gClump)"/>
<path d="M355.6,574.7 L352.6,581.2 L347.3,585.2 L342.8,581.5 L341.3,574.9 L348.9,570.1 L351.1,570.9 Z" fill="url(#gClump)"/>
<path d="M461.6,545.5 L459.8,547.8 L456.9,548.1 L455.1,546.6 L454.3,543.5 L456.1,542.5 L459.6,543.4 Z" fill="url(#gClump)"/>
<path d="M379.4,588.1 L373.7,596.7 L369.0,596.3 L363.4,594.5 L363.0,585.8 L367.4,583.4 L377.4,584.9 Z" fill="url(#gClump)"/>
<path d="M435.8,573.1 L432.9,579.4 L428.1,579.8 L422.9,576.3 L421.1,571.2 L425.4,564.8 L432.8,564.6 Z" fill="url(#gClump)"/>
<path d="M550.5,587.2 L547.2,592.6 L540.4,593.8 L536.9,592.0 L536.9,585.7 L540.3,581.4 L546.1,583.7 Z" fill="url(#gClump)"/>
<path d="M604.9,570.0 L602.3,571.3 L596.7,575.1 L588.4,571.1 L590.9,565.3 L595.9,561.2 L600.4,560.4 Z" fill="url(#gClump)"/>
<path d="M513.5,550.5 L511.8,554.3 L507.6,555.5 L501.9,551.5 L503.8,548.0 L505.2,545.2 L510.2,545.0 Z" fill="url(#gClump)"/>
<path d="M315.3,559.2 L314.6,563.3 L311.4,563.6 L307.7,562.3 L307.7,558.0 L309.6,556.0 L315.2,557.7 Z" fill="url(#gClump)"/>
<path d="M460.3,585.9 L456.7,593.5 L449.6,595.7 L446.1,593.2 L445.6,584.8 L451.6,581.8 L457.3,582.6 Z" fill="url(#gClump)"/>
<path d="M573.7,573.3 L568.7,577.4 L564.1,579.5 L559.7,574.6 L560.1,571.1 L565.2,566.1 L568.9,566.1 Z" fill="url(#gClump)"/>
<path d="M438.2,584.3 L436.6,585.9 L434.0,586.6 L431.9,584.4 L433.5,582.3 L434.7,581.3 L437.4,582.1 Z" fill="url(#gClump)"/>
<path d="M359.8,549.5 L358.4,551.2 L355.1,551.8 L352.6,550.2 L352.8,547.5 L355.1,545.4 L358.2,545.1 Z" fill="url(#gClump)"/>
<path d="M298.2,543.6 L295.4,551.8 L291.8,551.0 L286.7,548.8 L285.3,540.3 L291.7,537.0 L298.7,540.4 Z" fill="url(#gClump)"/>
<path d="M582.4,630.1 L581.3,633.2 L578.9,634.2 L576.8,631.9 L576.3,629.4 L578.9,627.0 L581.1,628.1 Z" fill="url(#gClump)"/>
<path d="M416.9,565.2 L415.8,568.5 L413.7,569.0 L410.6,567.0 L410.1,563.1 L413.7,561.0 L415.5,561.8 Z" fill="url(#gClump)"/>
<path d="M398.9,544.9 L396.9,549.7 L391.2,549.7 L387.4,546.7 L388.1,542.9 L389.0,539.2 L394.2,540.6 Z" fill="url(#gClump)"/>
<path d="M344.5,549.3 L342.8,553.2 L335.9,552.9 L330.9,549.3 L331.0,545.0 L335.5,541.1 L342.8,540.9 Z" fill="url(#gClump)"/>
<path d="M473.8,543.0 L470.7,551.0 L464.4,551.2 L463.1,547.9 L461.3,542.0 L465.4,539.3 L472.1,540.7 Z" fill="url(#gClump)"/>
<path d="M483.7,590.7 L481.3,599.8 L477.4,599.1 L470.9,597.1 L472.1,588.2 L474.0,584.9 L482.5,585.4 Z" fill="url(#gClump)"/>
<path d="M610.0,627.9 L607.6,633.5 L603.3,634.8 L598.0,629.1 L598.6,622.9 L601.9,622.5 L610.4,623.4 Z" fill="url(#gClump)"/>
<path d="M600.6,570.2 L598.8,574.4 L595.0,573.3 L589.5,570.1 L588.9,567.0 L593.5,564.3 L597.5,564.9 Z" fill="url(#gClump)"/>
<path d="M418.9,596.2 L418.3,597.9 L413.6,599.4 L409.9,596.8 L409.6,592.2 L414.6,588.9 L417.1,590.6 Z" fill="url(#gClump)"/>
<path d="M596.1,585.3 L594.4,589.5 L592.4,590.5 L588.8,587.0 L587.8,582.8 L591.3,582.1 L594.0,582.2 Z" fill="url(#gClump)"/>
<path d="M459.9,568.7 L458.1,574.4 L453.4,576.1 L448.0,574.3 L448.9,565.2 L453.2,563.0 L460.1,565.2 Z" fill="url(#gClump)"/>
<path d="M297.4,552.9 L296.3,557.6 L293.8,557.7 L291.3,554.8 L290.8,551.4 L294.5,550.5 L297.0,550.7 Z" fill="url(#gClump)"/>
<path d="M561.5,577.8 L560.3,582.2 L556.2,584.0 L550.5,579.7 L549.0,574.2 L554.3,569.6 L558.9,569.8 Z" fill="url(#gClump)"/>
<path d="M551.6,604.0 L551.5,607.4 L546.9,609.3 L544.2,607.1 L544.2,602.0 L546.8,601.5 L549.9,601.5 Z" fill="url(#gClump)"/>
<path d="M593.9,632.8 L593.2,635.0 L587.9,637.5 L581.1,633.6 L580.9,627.2 L584.1,622.1 L591.6,622.8 Z" fill="url(#gClump)"/>
<path d="M457.7,599.2 L456.3,600.9 L452.5,601.9 L449.9,599.7 L449.9,597.3 L453.4,595.0 L456.1,595.7 Z" fill="url(#gClump)"/>
<path d="M443.0,551.6 L441.6,553.6 L436.2,555.5 L433.4,553.9 L433.3,548.0 L437.8,545.6 L439.3,546.5 Z" fill="url(#gClump)"/>
<path d="M518.4,552.1 L514.4,555.1 L506.2,558.2 L502.6,554.8 L503.5,546.8 L509.2,544.3 L516.7,546.2 Z" fill="url(#gClump)"/>
<path d="M395.0,568.6 L390.6,577.5 L386.3,577.8 L379.1,572.6 L379.9,568.1 L384.8,561.3 L390.6,564.6 Z" fill="url(#gClump)"/>
<path d="M358.1,576.0 L356.1,583.2 L351.2,583.1 L346.9,579.0 L346.6,572.1 L348.0,567.9 L355.4,568.2 Z" fill="url(#gClump)"/>
<path d="M551.0,565.5 L547.8,571.2 L544.8,571.1 L541.2,568.8 L541.7,565.0 L545.4,562.0 L550.1,563.3 Z" fill="url(#gClump)"/>
<path d="M349.7,543.4 L347.7,550.3 L342.9,550.8 L339.0,546.0 L337.5,542.4 L341.7,538.0 L345.9,540.2 Z" fill="url(#gClump)"/>
<path d="M405.8,570.8 L403.6,576.7 L400.0,575.7 L397.5,573.2 L396.0,570.6 L399.8,567.8 L404.3,569.0 Z" fill="url(#gClump)"/>
<path d="M367.2,551.1 L367.7,555.6 L360.7,558.6 L353.3,552.9 L354.1,547.3 L357.9,542.9 L364.0,543.7 Z" fill="url(#gClump)"/>
<path d="M376.2,560.9 L371.5,565.6 L364.9,568.6 L361.0,562.9 L361.2,555.2 L366.0,554.6 L371.5,555.6 Z" fill="url(#gClump)"/>
<path d="M362.5,547.3 L362.3,550.0 L359.4,549.7 L357.8,548.2 L357.8,545.6 L359.7,544.7 L362.3,546.0 Z" fill="url(#gClump)"/>
<path d="M575.2,569.7 L573.9,572.8 L571.7,573.1 L569.3,572.1 L569.9,568.8 L572.3,567.3 L573.9,566.8 Z" fill="url(#gClump)"/>
<path d="M565.2,614.1 L561.1,616.6 L556.1,618.2 L552.0,614.0 L552.2,611.0 L554.7,605.6 L562.4,607.4 Z" fill="url(#gClump)"/>
<path d="M391.2,582.8 L388.6,587.5 L385.8,587.2 L382.2,585.2 L381.4,580.5 L385.0,577.6 L389.8,579.7 Z" fill="url(#gClump)"/>
<path d="M551.8,550.9 L551.3,553.0 L546.0,554.7 L544.7,552.8 L545.0,547.7 L547.2,546.9 L549.7,547.1 Z" fill="url(#gClump)"/>
<path d="M307.1,553.6 L302.5,560.7 L299.4,562.2 L294.2,557.6 L294.0,553.7 L299.1,550.7 L302.4,550.5 Z" fill="url(#gClump)"/>
<path d="M366.7,554.8 L364.9,559.0 L358.8,562.4 L354.1,560.1 L354.3,553.1 L358.5,548.8 L363.9,547.7 Z" fill="url(#gClump)"/>
<path d="M428.2,569.3 L424.6,574.3 L421.3,575.3 L418.5,571.9 L416.8,567.3 L420.5,563.3 L425.8,564.6 Z" fill="url(#gClump)"/>
<path d="M446.5,597.5 L445.8,602.4 L435.8,603.7 L434.1,600.0 L433.0,592.8 L437.3,586.7 L443.9,589.2 Z" fill="url(#gClump)"/>
<path d="M393.1,574.9 L391.8,581.4 L387.9,580.7 L383.9,579.6 L382.6,572.6 L387.9,570.0 L393.0,570.8 Z" fill="url(#gClump)"/>
<path d="M582.2,566.6 L581.4,571.0 L578.7,571.0 L576.0,568.5 L575.7,565.7 L578.6,564.5 L581.1,563.7 Z" fill="url(#gClump)"/>
<path d="M541.2,618.8 L540.5,625.5 L535.1,626.3 L527.7,622.5 L528.9,619.0 L532.1,614.2 L538.2,615.5 Z" fill="url(#gClump)"/>
<path d="M557.0,584.8 L555.5,589.9 L549.4,591.7 L543.7,588.1 L543.7,582.3 L546.8,579.9 L553.9,580.3 Z" fill="url(#gClump)"/>
<path d="M321.8,560.2 L320.3,563.5 L318.3,563.4 L316.5,562.0 L316.0,559.2 L318.8,557.6 L321.1,559.1 Z" fill="url(#gClump)"/>
<path d="M306.5,548.6 L306.4,551.4 L301.9,552.2 L298.9,550.2 L296.5,547.0 L300.5,542.6 L305.3,543.0 Z" fill="url(#gClump)"/>
<path d="M574.0,557.0 L572.7,559.5 L565.7,560.2 L561.6,557.6 L561.0,553.6 L567.5,550.5 L571.4,550.5 Z" fill="url(#gClump)"/>
<path d="M295.3,548.5 L291.2,557.5 L284.5,554.9 L280.5,550.3 L281.3,546.9 L287.3,541.2 L292.2,543.1 Z" fill="url(#gClump)"/>
<path d="M452.4,591.2 L452.7,593.3 L449.2,594.9 L445.8,591.8 L446.3,589.2 L447.5,586.9 L452.1,588.1 Z" fill="url(#gClump)"/>
<path d="M437.7,548.3 L434.9,551.4 L427.9,553.1 L425.9,551.4 L425.8,543.0 L430.1,538.5 L436.4,541.7 Z" fill="url(#gClump)"/>
<path d="M602.5,604.7 L598.2,610.5 L593.6,610.3 L587.7,607.1 L589.6,602.3 L594.1,597.1 L598.9,600.2 Z" fill="url(#gClump)"/>
<path d="M574.7,610.2 L571.9,616.0 L565.5,616.8 L562.2,616.4 L561.5,609.5 L567.7,605.4 L571.5,604.5 Z" fill="url(#gClump)"/>
<path d="M568.4,617.5 L568.3,620.1 L563.4,621.6 L561.3,618.6 L561.6,616.7 L565.0,615.2 L566.7,614.1 Z" fill="url(#gClump)"/>
<path d="M318.7,563.0 L316.4,568.4 L314.2,569.2 L309.5,566.6 L309.2,561.3 L313.3,559.3 L319.0,560.4 Z" fill="url(#gClump)"/>
<path d="M465.5,589.0 L462.4,593.8 L457.0,593.8 L453.1,589.8 L455.5,587.0 L459.0,582.4 L463.1,583.7 Z" fill="url(#gClump)"/>
<path d="M377.7,548.4 L374.9,552.9 L370.5,553.8 L368.0,550.6 L367.2,546.8 L372.6,542.1 L377.4,544.2 Z" fill="url(#gClump)"/>
<path d="M478.3,585.4 L475.5,592.2 L468.5,591.7 L464.0,587.8 L463.7,580.2 L469.3,576.5 L477.1,580.9 Z" fill="url(#gClump)"/>
<path d="M564.0,604.1 L562.5,608.4 L557.8,610.8 L553.7,606.5 L554.7,602.5 L556.7,601.3 L561.3,600.6 Z" fill="url(#gClump)"/>
<path d="M386.2,574.2 L384.1,579.5 L380.8,579.8 L377.9,577.6 L378.6,572.2 L382.1,571.0 L384.2,572.2 Z" fill="url(#gClump)"/>
<path d="M459.9,549.1 L459.0,551.9 L453.9,553.1 L451.1,551.0 L451.5,546.6 L455.4,544.4 L459.4,545.4 Z" fill="url(#gClump)"/>
<path d="M466.7,571.3 L462.9,577.7 L459.8,578.4 L454.1,575.4 L454.7,570.6 L458.1,567.9 L464.7,567.4 Z" fill="url(#gClump)"/>
<path d="M572.4,623.2 L569.0,629.6 L564.4,629.6 L561.3,626.9 L560.6,621.9 L566.2,619.1 L569.5,621.0 Z" fill="url(#gClump)"/>
<path d="M317.4,547.9 L314.8,551.3 L311.6,551.5 L309.7,550.3 L309.2,546.2 L311.1,544.1 L314.7,544.6 Z" fill="url(#gClump)"/>
<path d="M380.3,567.2 L379.0,573.1 L372.5,575.8 L367.3,570.3 L370.7,564.7 L374.1,563.2 L379.8,563.2 Z" fill="url(#gClump)"/>
<path d="M493.1,631.1 L489.4,635.1 L486.6,636.7 L483.3,635.0 L483.5,628.2 L485.3,627.0 L490.0,626.4 Z" fill="url(#gClump)"/>
<path d="M370.9,545.3 L368.3,549.1 L364.2,551.2 L359.3,548.8 L359.4,544.0 L362.8,541.6 L369.7,542.6 Z" fill="url(#gClump)"/>
<path d="M499.0,551.1 L495.7,555.9 L488.8,560.7 L483.0,554.1 L482.4,549.3 L488.5,544.8 L493.2,545.9 Z" fill="url(#gClump)"/>
<path d="M321.5,562.1 L317.8,566.0 L311.6,567.9 L304.1,562.9 L306.6,557.8 L312.4,551.4 L320.9,555.1 Z" fill="url(#gClump)"/>
<path d="M543.8,618.4 L540.9,622.2 L537.0,623.3 L534.3,618.9 L535.4,616.0 L539.2,612.3 L541.4,613.4 Z" fill="url(#gClump)"/>
<path d="M413.2,573.2 L410.9,577.6 L407.9,578.0 L403.9,574.7 L405.7,571.9 L408.4,569.5 L411.9,570.7 Z" fill="url(#gClump)"/>
<path d="M317.9,553.8 L314.9,558.8 L311.4,561.5 L306.4,558.4 L304.1,552.6 L309.6,548.4 L315.8,551.5 Z" fill="url(#gClump)"/>
<path d="M576.4,608.9 L575.4,612.5 L569.0,615.3 L566.0,610.9 L564.9,603.2 L569.2,602.5 L575.2,602.2 Z" fill="url(#gClump)"/>
<path d="M565.5,596.1 L562.0,598.8 L557.6,600.3 L554.2,597.4 L555.5,592.2 L559.5,590.2 L564.4,590.8 Z" fill="url(#gClump)"/>
<path d="M302.4,551.0 L298.8,557.5 L293.0,557.5 L289.2,553.0 L290.1,550.5 L295.5,546.1 L299.6,545.8 Z" fill="url(#gClump)"/>
<path d="M323.9,565.9 L323.2,569.9 L316.7,572.2 L312.4,567.8 L314.1,564.5 L316.0,561.0 L321.9,563.0 Z" fill="url(#gClump)"/>
<path d="M518.7,623.2 L516.8,625.3 L515.0,625.4 L512.9,624.7 L513.2,621.1 L514.9,619.4 L517.3,621.1 Z" fill="url(#gClump)"/>
<path d="M394.0,595.5 L393.5,597.5 L390.9,598.2 L388.2,596.3 L389.4,594.1 L391.1,592.6 L393.4,592.8 Z" fill="url(#gClump)"/>
<path d="M460.2,615.4 L457.4,622.5 L450.7,624.7 L447.1,622.1 L447.0,614.2 L452.0,610.5 L456.1,612.7 Z" fill="url(#gClump)"/>
<path d="M343.0,556.8 L341.1,558.3 L335.4,559.1 L331.5,556.4 L333.7,552.4 L337.3,550.0 L340.3,551.4 Z" fill="url(#gClump)"/>
<path d="M398.3,584.0 L395.6,586.8 L392.3,586.3 L390.8,584.9 L389.3,580.1 L392.3,578.5 L396.0,578.7 Z" fill="url(#gClump)"/>
<path d="M577.9,611.9 L575.2,616.2 L570.8,616.0 L568.3,613.1 L567.4,608.6 L572.8,605.9 L575.8,606.7 Z" fill="url(#gClump)"/>
<path d="M389.0,554.1 L386.9,559.5 L378.4,562.7 L374.8,557.5 L372.6,552.7 L380.4,548.4 L385.7,548.1 Z" fill="url(#gClump)"/>
<path d="M403.1,550.9 L400.4,553.8 L397.4,555.2 L393.0,551.8 L394.7,547.7 L397.9,545.6 L401.9,547.9 Z" fill="url(#gClump)"/>
<path d="M513.1,586.9 L512.6,591.1 L506.9,591.3 L503.4,588.7 L504.8,584.7 L507.7,582.4 L513.3,583.5 Z" fill="url(#gClump)"/>
<path d="M294.6,554.8 L294.1,559.1 L285.4,559.5 L282.7,556.4 L282.4,551.9 L286.3,547.6 L293.6,547.5 Z" fill="url(#gClump)"/>
<path d="M458.1,567.7 L457.0,570.3 L453.1,571.9 L452.0,570.0 L451.3,566.5 L454.7,563.7 L456.1,564.2 Z" fill="url(#gClump)"/>
<path d="M499.0,626.2 L498.8,628.6 L493.9,629.4 L491.4,628.1 L489.9,623.6 L495.4,620.2 L497.7,622.3 Z" fill="url(#gClump)"/>
<path d="M319.6,553.8 L317.3,557.1 L311.8,556.8 L310.9,555.8 L309.9,550.2 L313.3,547.3 L316.1,548.6 Z" fill="url(#gClump)"/>
<path d="M450.6,580.6 L448.3,585.3 L443.7,586.8 L439.1,582.7 L439.2,577.9 L443.0,574.7 L447.8,577.6 Z" fill="url(#gClump)"/>
<path d="M437.8,566.9 L437.2,569.9 L434.5,570.6 L431.2,569.5 L431.7,566.1 L433.6,564.5 L435.6,565.0 Z" fill="url(#gClump)"/>
<path d="M445.8,544.9 L444.7,548.8 L438.2,549.8 L435.1,549.1 L434.0,541.4 L440.1,539.9 L443.6,540.8 Z" fill="url(#gClump)"/>
<path d="M542.0,579.7 L540.1,584.8 L533.4,586.1 L530.3,584.8 L529.8,580.3 L535.8,576.3 L539.6,577.5 Z" fill="url(#gClump)"/>
<path d="M426.7,575.4 L423.3,582.1 L417.6,586.4 L411.7,580.7 L413.8,572.9 L417.0,568.0 L424.7,573.0 Z" fill="url(#gClump)"/>
<path d="M387.9,580.7 L385.9,586.8 L381.0,587.3 L379.3,584.6 L378.7,579.9 L381.7,577.3 L386.0,577.6 Z" fill="url(#gClump)"/>
<path d="M500.1,585.3 L497.8,588.3 L495.2,587.5 L493.5,585.8 L493.5,584.1 L496.5,581.6 L498.4,583.0 Z" fill="url(#gClump)"/>
<path d="M519.3,564.0 L516.3,567.1 L512.4,567.1 L508.1,564.8 L508.4,562.0 L511.1,557.1 L516.7,559.7 Z" fill="url(#gClump)"/>
<path d="M385.5,561.5 L385.2,564.4 L382.6,565.9 L379.4,562.9 L379.0,560.7 L382.5,559.1 L384.7,559.9 Z" fill="url(#gClump)"/>
<path d="M536.2,608.0 L534.6,613.1 L531.7,613.1 L528.6,610.7 L527.0,606.2 L530.1,605.4 L535.6,605.3 Z" fill="url(#gClump)"/>
<path d="M567.8,593.5 L565.2,596.6 L558.8,600.1 L553.4,595.2 L553.7,586.0 L558.6,586.0 L564.8,583.5 Z" fill="url(#gClump)"/>
<path d="M370.9,584.6 L369.4,590.1 L364.3,591.7 L361.4,589.8 L360.7,582.5 L364.0,581.4 L369.3,581.0 Z" fill="url(#gClump)"/>
<path d="M579.4,574.6 L577.7,578.0 L571.8,580.3 L563.6,577.0 L564.2,569.8 L572.2,564.0 L577.5,567.1 Z" fill="url(#gClump)"/>
<path d="M508.8,626.2 L505.8,631.5 L502.5,632.6 L496.7,628.5 L498.4,622.3 L501.5,618.7 L506.6,620.5 Z" fill="url(#gClump)"/>
<path d="M509.1,584.0 L506.7,588.2 L501.0,588.5 L497.6,584.9 L497.6,579.0 L502.0,578.3 L505.9,578.4 Z" fill="url(#gClump)"/>
<path d="M560.0,611.4 L556.8,614.1 L552.3,617.2 L548.4,614.0 L548.1,608.3 L551.4,604.8 L557.7,606.2 Z" fill="url(#gClump)"/>
<path d="M587.5,559.3 L582.9,561.8 L575.3,565.0 L571.0,563.1 L571.9,555.3 L577.9,548.8 L581.7,551.0 Z" fill="url(#gClump)"/>
<path d="M483.5,601.8 L479.5,607.9 L472.6,610.5 L468.4,606.6 L468.8,599.5 L473.2,597.0 L477.8,598.1 Z" fill="url(#gClump)"/>
<path d="M398.3,547.1 L396.2,555.4 L389.0,555.6 L385.1,553.4 L385.1,547.7 L391.2,540.9 L397.9,544.1 Z" fill="url(#gClump)"/>
<path d="M467.3,553.2 L467.0,557.6 L461.7,558.0 L455.6,556.2 L456.5,551.0 L459.9,545.8 L466.9,545.9 Z" fill="url(#gClump)"/>
<path d="M303.0,547.2 L300.7,554.6 L296.4,554.9 L292.9,552.0 L292.7,544.7 L295.9,543.2 L303.1,544.8 Z" fill="url(#gClump)"/>
<path d="M483.2,584.7 L480.1,589.4 L474.3,589.4 L468.7,586.7 L469.6,581.4 L474.4,577.7 L479.5,577.0 Z" fill="url(#gClump)"/>
<path d="M348.6,571.6 L348.8,573.9 L344.6,575.1 L343.4,572.8 L343.1,570.6 L345.6,568.1 L347.8,569.1 Z" fill="url(#gClump)"/>
<path d="M294.6,550.2 L293.7,552.4 L291.5,552.2 L289.6,551.0 L289.1,548.5 L291.2,547.2 L293.9,547.8 Z" fill="url(#gClump)"/>
<path d="M589.3,600.7 L588.6,601.9 L584.7,602.6 L583.1,601.0 L582.7,599.2 L585.1,596.8 L589.1,597.4 Z" fill="url(#gClump)"/>
<path d="M457.6,601.7 L454.8,606.1 L449.0,609.7 L443.2,607.9 L442.6,598.5 L447.3,594.3 L455.3,596.6 Z" fill="url(#gClump)"/>
<path d="M428.4,569.3 L426.9,575.6 L422.6,576.8 L416.0,574.9 L416.1,566.0 L422.3,562.6 L427.7,566.6 Z" fill="url(#gClump)"/>
<path d="M340.5,553.5 L340.5,558.6 L336.6,558.8 L332.8,556.7 L332.4,550.9 L336.1,549.7 L339.6,549.9 Z" fill="url(#gClump)"/>
<path d="M345.0,557.4 L342.0,561.6 L337.7,560.9 L335.5,559.3 L334.3,552.8 L338.6,552.2 L341.7,553.1 Z" fill="url(#gClump)"/>
<path d="M352.0,566.2 L349.1,571.1 L344.5,569.6 L342.0,567.0 L340.1,562.8 L344.2,558.5 L350.7,561.0 Z" fill="url(#gClump)"/>
<path d="M383.2,561.4 L380.9,565.6 L375.0,566.2 L368.2,564.7 L370.3,555.7 L375.1,552.3 L379.8,552.6 Z" fill="url(#gClump)"/>
<path d="M482.0,544.0 L477.9,549.7 L473.8,551.0 L470.8,547.1 L471.3,541.4 L474.6,539.1 L478.8,539.0 Z" fill="url(#gClump)"/>
<path d="M587.3,580.6 L585.6,584.6 L581.0,588.0 L577.5,583.1 L576.8,578.9 L580.0,575.4 L586.2,578.5 Z" fill="url(#gClump)"/>
<path d="M504.6,631.3 L500.8,637.3 L497.0,637.4 L490.6,633.4 L492.7,625.9 L497.0,620.7 L501.4,622.1 Z" fill="url(#gClump)"/>
<path d="M475.9,600.6 L474.8,602.8 L471.4,604.5 L467.8,602.9 L465.9,597.3 L468.9,594.9 L473.9,596.9 Z" fill="url(#gClump)"/>
<path d="M351.3,564.9 L350.9,569.2 L344.8,569.6 L341.3,567.1 L341.3,560.6 L343.7,558.2 L350.1,559.7 Z" fill="url(#gClump)"/>
<path d="M572.5,601.9 L570.0,608.9 L564.4,608.1 L558.5,605.1 L557.5,595.1 L563.0,593.6 L567.6,595.4 Z" fill="url(#gClump)"/>
<path d="M378.8,563.1 L378.4,568.3 L370.2,571.0 L366.9,567.7 L365.5,560.8 L368.7,557.3 L376.2,559.0 Z" fill="url(#gClump)"/>
<path d="M393.7,597.5 L391.8,599.1 L389.6,600.9 L387.3,597.4 L386.6,594.8 L388.3,593.3 L392.0,594.8 Z" fill="url(#gClump)"/>
<path d="M381.8,572.8 L380.8,575.9 L375.9,577.0 L375.4,575.4 L374.6,572.1 L376.1,570.3 L379.6,569.7 Z" fill="url(#gClump)"/>
<path d="M502.4,570.4 L499.2,576.3 L494.2,577.0 L489.5,575.7 L490.4,568.0 L492.4,566.2 L499.2,568.7 Z" fill="url(#gClump)"/>
<path d="M394.2,595.7 L393.2,601.5 L387.9,604.2 L380.1,599.5 L381.3,591.8 L384.9,589.9 L393.0,589.8 Z" fill="url(#gClump)"/>
<path d="M294.2,550.1 L289.5,554.0 L284.7,554.6 L282.2,553.0 L282.9,546.2 L285.0,544.6 L289.2,544.5 Z" fill="url(#gClump)"/>
<path d="M398.8,590.0 L394.6,596.7 L391.8,599.0 L384.9,595.9 L384.5,588.1 L390.4,584.4 L394.7,585.0 Z" fill="url(#gClump)"/>
<path d="M406.6,569.5 L405.7,572.6 L401.4,573.0 L399.1,570.3 L399.2,567.1 L402.0,564.9 L404.4,564.7 Z" fill="url(#gClump)"/>
<path d="M495.4,619.5 L494.4,627.4 L488.0,628.2 L482.8,624.8 L483.0,619.8 L488.1,613.2 L493.0,616.0 Z" fill="url(#gClump)"/>
<path d="M474.6,632.0 L471.5,637.1 L466.6,637.0 L462.4,632.9 L464.2,629.4 L466.2,626.8 L473.6,628.0 Z" fill="url(#gClump)"/>
<path d="M499.3,596.9 L498.1,601.3 L495.9,602.5 L491.3,600.2 L492.8,595.6 L493.5,593.8 L497.7,593.8 Z" fill="url(#gClump)"/>
<path d="M567.6,579.6 L566.1,583.1 L563.1,582.7 L561.1,581.5 L560.8,578.4 L563.3,576.7 L568.1,576.7 Z" fill="url(#gClump)"/>
<path d="M604.7,584.4 L602.9,588.7 L600.4,587.5 L596.9,586.2 L596.9,581.3 L599.0,578.7 L601.9,580.4 Z" fill="url(#gClump)"/>
<path d="M297.0,545.1 L294.7,549.7 L288.1,551.5 L280.9,545.4 L280.8,542.7 L286.1,536.8 L291.3,538.0 Z" fill="url(#gClump)"/>
<path d="M515.8,552.1 L515.1,553.3 L512.3,553.7 L509.5,552.7 L509.6,549.6 L513.1,548.2 L514.3,549.1 Z" fill="url(#gClump)"/>
<path d="M454.2,613.8 L451.2,618.8 L446.3,621.7 L439.8,616.4 L440.2,610.0 L447.0,604.0 L451.1,606.6 Z" fill="url(#gClump)"/>
<path d="M508.3,544.8 L506.0,548.8 L501.0,549.1 L499.2,546.9 L497.3,544.2 L501.0,541.9 L505.4,540.6 Z" fill="url(#gClump)"/>
<path d="M324.8,564.2 L323.3,569.0 L320.3,568.7 L317.6,568.0 L318.0,562.7 L319.3,560.9 L323.4,562.4 Z" fill="url(#gClump)"/>
<path d="M327.0,563.7 L326.0,566.1 L320.7,566.8 L317.8,564.1 L317.4,560.5 L321.9,556.1 L325.7,558.5 Z" fill="url(#gClump)"/>
<path d="M353.9,560.2 L348.9,563.8 L346.2,565.1 L340.1,560.6 L339.7,553.6 L342.5,550.7 L351.1,551.9 Z" fill="url(#gClump)"/>
<path d="M365.5,579.2 L363.5,584.5 L356.0,587.5 L352.6,582.4 L351.6,578.3 L357.6,572.8 L364.1,575.3 Z" fill="url(#gClump)"/>
<path d="M584.4,600.1 L583.2,603.9 L581.5,604.3 L578.2,601.8 L578.6,598.5 L581.0,597.1 L583.6,597.8 Z" fill="url(#gClump)"/>
<path d="M383.0,582.6 L381.6,585.2 L376.2,586.7 L374.6,583.7 L374.5,580.3 L377.7,575.2 L381.3,576.7 Z" fill="url(#gClump)"/>
<path d="M388.8,580.3 L384.3,583.5 L380.1,583.8 L377.3,581.2 L377.0,575.5 L380.0,571.2 L385.9,573.6 Z" fill="url(#gClump)"/>
<path d="M377.8,547.4 L377.6,549.2 L374.3,550.0 L370.8,548.8 L371.7,545.4 L373.2,543.8 L376.1,543.5 Z" fill="url(#gClump)"/>
<path d="M366.8,564.8 L365.9,568.3 L363.0,568.2 L360.9,566.2 L360.9,564.7 L362.8,562.8 L366.4,562.9 Z" fill="url(#gClump)"/>
<path d="M291.4,545.6 L290.2,547.2 L286.3,548.2 L284.6,546.5 L284.2,544.4 L287.1,541.8 L289.9,543.3 Z" fill="url(#gClump)"/>
<path d="M565.0,557.8 L563.7,563.8 L554.3,566.7 L551.2,564.6 L552.0,556.4 L555.2,554.1 L562.1,554.3 Z" fill="url(#gClump)"/>
<path d="M369.8,554.6 L367.7,557.8 L365.4,557.8 L362.5,554.9 L362.1,552.8 L365.3,550.4 L368.9,551.4 Z" fill="url(#gClump)"/>
<path d="M511.5,560.9 L508.9,564.5 L505.7,565.8 L500.3,561.5 L500.8,558.8 L506.2,553.8 L510.0,554.7 Z" fill="url(#gClump)"/>
<path d="M339.1,560.4 L337.1,563.4 L334.5,563.3 L330.4,561.5 L330.1,558.0 L332.8,554.9 L337.4,556.5 Z" fill="url(#gClump)"/>
<path d="M486.6,576.1 L485.2,582.4 L482.6,582.6 L479.1,579.7 L477.4,575.4 L481.2,573.2 L486.4,573.2 Z" fill="url(#gClump)"/>
<path d="M591.6,606.1 L588.0,610.5 L585.6,611.4 L578.8,605.9 L580.6,603.9 L584.5,598.2 L589.0,601.6 Z" fill="url(#gClump)"/>
<path d="M435.4,548.0 L432.9,552.8 L429.3,553.5 L423.1,549.6 L423.5,542.7 L427.0,542.1 L434.5,542.8 Z" fill="url(#gClump)"/>
<path d="M312.0,547.5 L309.0,554.1 L303.2,556.3 L299.8,550.2 L299.3,544.6 L305.6,542.2 L310.4,544.2 Z" fill="url(#gClump)"/>
<path d="M594.1,562.5 L592.1,566.2 L586.9,567.2 L584.3,564.5 L585.9,560.2 L588.8,557.6 L591.9,560.0 Z" fill="url(#gClump)"/>
<path d="M516.8,547.8 L515.2,555.3 L506.6,554.4 L504.6,551.4 L505.3,543.3 L508.0,538.3 L515.0,542.5 Z" fill="url(#gClump)"/>
<path d="M514.1,593.3 L508.8,599.7 L502.0,601.9 L501.3,598.3 L498.2,593.3 L503.3,588.5 L510.3,590.1 Z" fill="url(#gClump)"/>
<path d="M445.1,574.8 L440.8,580.0 L436.9,579.6 L430.9,575.9 L429.0,570.7 L434.7,566.3 L442.4,565.2 Z" fill="url(#gClump)"/>
<path d="M455.4,548.6 L453.5,553.6 L451.6,553.0 L447.7,549.8 L447.4,545.6 L449.6,543.3 L453.1,544.9 Z" fill="url(#gClump)"/>
<path d="M304.9,549.7 L305.1,553.1 L301.9,553.5 L298.2,553.0 L298.9,549.4 L300.2,547.4 L303.3,546.9 Z" fill="url(#gClump)"/>
<path d="M291.5,546.5 L289.9,548.7 L285.8,551.3 L280.9,547.1 L281.6,543.1 L285.8,539.3 L291.3,541.1 Z" fill="url(#gClump)"/>
<path d="M531.5,545.4 L530.1,550.2 L525.6,549.8 L522.2,546.9 L521.6,542.7 L524.4,539.3 L529.6,539.9 Z" fill="url(#gClump)"/>
<path d="M524.2,575.1 L521.8,579.1 L514.5,581.0 L511.2,577.1 L512.6,570.1 L515.4,567.3 L522.0,566.5 Z" fill="url(#gClump)"/>
<path d="M351.7,557.8 L349.4,561.4 L347.1,561.8 L343.6,558.6 L344.6,556.3 L347.1,554.5 L349.2,554.4 Z" fill="url(#gClump)"/>
<path d="M334.5,558.5 L332.3,563.0 L324.5,562.8 L319.6,561.2 L321.6,555.4 L324.9,550.2 L330.0,551.0 Z" fill="url(#gClump)"/>
<path d="M387.5,577.6 L385.1,585.8 L377.3,587.3 L370.0,580.8 L372.7,576.9 L376.4,572.8 L383.7,573.1 Z" fill="url(#gClump)"/>
<path d="M367.2,560.8 L363.6,566.2 L360.8,567.5 L353.6,563.0 L353.4,558.9 L360.5,553.2 L364.7,557.4 Z" fill="url(#gClump)"/>
<path d="M543.6,632.0 L540.9,634.7 L536.9,634.4 L534.4,631.5 L533.9,630.0 L536.9,625.8 L541.1,628.0 Z" fill="url(#gClump)"/>
<path d="M451.7,593.9 L450.0,598.5 L442.3,601.2 L441.0,597.9 L440.3,593.8 L444.5,589.2 L448.1,591.0 Z" fill="url(#gClump)"/>
<path d="M470.3,583.4 L469.7,585.8 L465.7,587.1 L463.2,584.5 L464.3,581.6 L467.0,580.4 L468.4,580.7 Z" fill="url(#gClump)"/>
<path d="M373.9,582.4 L374.0,586.5 L368.6,587.4 L363.2,585.0 L363.6,580.9 L368.6,578.0 L372.5,578.9 Z" fill="url(#gClump)"/>
<path d="M419.2,578.9 L418.7,580.3 L413.8,582.3 L410.4,580.3 L410.9,575.4 L412.5,572.9 L418.8,574.4 Z" fill="url(#gClump)"/>
<path d="M401.2,581.2 L399.8,584.9 L397.9,585.7 L395.2,582.9 L393.8,579.6 L395.8,577.0 L400.2,577.8 Z" fill="url(#gClump)"/>
<path d="M427.5,575.7 L426.0,579.6 L421.7,582.6 L416.5,579.4 L417.6,572.7 L422.5,571.1 L425.5,571.5 Z" fill="url(#gClump)"/>
<path d="M310.2,543.5 L305.6,552.9 L299.2,552.8 L295.3,549.5 L292.8,542.9 L300.7,537.3 L305.7,537.3 Z" fill="url(#gClump)"/>
<path d="M472.3,586.8 L472.2,590.1 L468.0,590.8 L464.3,587.5 L463.6,584.3 L465.5,581.8 L472.1,583.4 Z" fill="url(#gClump)"/>
<path d="M474.9,590.8 L473.3,593.3 L470.9,593.3 L469.3,592.1 L469.0,588.8 L471.7,587.6 L472.9,587.9 Z" fill="url(#gClump)"/>
<path d="M540.0,547.5 L539.0,551.0 L535.6,551.0 L534.1,548.1 L533.6,545.2 L536.0,544.6 L539.1,544.5 Z" fill="url(#gClump)"/>
<path d="M505.3,586.9 L503.4,590.4 L500.3,591.0 L498.7,589.0 L498.5,586.3 L500.5,584.4 L503.9,585.5 Z" fill="url(#gClump)"/>
<path d="M558.9,564.8 L556.6,572.5 L549.6,573.3 L546.8,568.2 L544.6,563.6 L549.2,559.1 L558.1,560.4 Z" fill="url(#gClump)"/>
<path d="M518.2,630.0 L516.1,631.3 L513.5,631.5 L511.6,631.3 L511.0,627.7 L512.4,625.5 L515.7,625.2 Z" fill="url(#gClump)"/>
<path d="M497.6,574.5 L492.3,579.7 L486.4,583.5 L482.6,578.5 L480.6,573.0 L488.2,566.5 L492.6,569.3 Z" fill="url(#gClump)"/>
<path d="M444.4,609.6 L440.7,614.0 L432.9,613.9 L429.8,611.2 L429.6,605.6 L435.8,599.9 L441.7,604.2 Z" fill="url(#gClump)"/>
<path d="M552.8,621.6 L549.2,626.7 L545.8,627.0 L541.6,624.9 L541.4,619.9 L544.9,617.5 L550.7,617.3 Z" fill="url(#gClump)"/>
<path d="M414.6,591.8 L412.6,595.4 L404.9,596.7 L403.1,591.8 L402.5,588.4 L407.3,585.5 L411.0,586.5 Z" fill="url(#gClump)"/>
<!-- ===== rings ===== -->
<defs>
<linearGradient id="gBand" x1="0" y1="0" x2="0" y2="1">
 <stop offset="0" stop-color="#8e9398"/><stop offset="0.12" stop-color="#c6c9cc"/><stop offset="0.3" stop-color="#eef0f1"/><stop offset="0.46" stop-color="#d5d8da"/><stop offset="0.52" stop-color="#9a9fa4"/><stop offset="0.66" stop-color="#b2b6ba"/><stop offset="0.85" stop-color="#878c91"/><stop offset="1" stop-color="#4e545a"/>
</linearGradient>
<linearGradient id="gDisc" x1="0" y1="0" x2="1" y2="1">
 <stop offset="0" stop-color="#4d5258"/><stop offset="0.5" stop-color="#33373c"/><stop offset="1" stop-color="#222529"/>
</linearGradient>
<linearGradient id="gArrow" x1="0" y1="0" x2="0" y2="1">
 <stop offset="0" stop-color="#a9d8f7"/><stop offset="0.3" stop-color="#5aa9e6"/><stop offset="1" stop-color="#2a7cc9"/>
</linearGradient>
</defs>
<rect x="623.0" y="454" width="46.5" height="102" rx="8" fill="#07090c"/>
<path d="M631.0,458 A8,47 0 0 0 631.0,552" fill="none" stroke="url(#gBand)" stroke-width="4.2"/>
<path d="M640.5,458 A8,47 0 0 0 640.5,552" fill="none" stroke="url(#gBand)" stroke-width="4.2"/>
<path d="M650.0,458 A8,47 0 0 0 650.0,552" fill="none" stroke="url(#gBand)" stroke-width="4.2"/>
<path d="M659.5,458 A8,47 0 0 0 659.5,552" fill="none" stroke="url(#gBand)" stroke-width="4.2"/>
<path d="M605.0,431 H628.8 A38.8,48 0 0 1 667.5,479 V519 A38.8,48 0 0 1 628.8,567 H605.0 Z M626.9,505 A18.8,51 0 1 0 664.4,505 A18.8,51 0 1 0 626.9,505 Z" fill="url(#gDisc)" fill-rule="evenodd" stroke="#80858a" stroke-width="1.2"/>
<rect x="585.0" y="432" width="18" height="134" rx="7" ry="16" fill="url(#gBand)" stroke="#5e6368" stroke-width="0.8"/>
<rect x="600.0" y="431" width="23" height="136" rx="7" ry="16" fill="url(#gBand)" stroke="#5e6368" stroke-width="0.8"/>
<rect x="705.5" y="454" width="53.5" height="102" rx="8" fill="#07090c"/>
<path d="M713.5,458 A8,47 0 0 0 713.5,552" fill="none" stroke="url(#gBand)" stroke-width="4.2"/>
<path d="M723.0,458 A8,47 0 0 0 723.0,552" fill="none" stroke="url(#gBand)" stroke-width="4.2"/>
<path d="M732.5,458 A8,47 0 0 0 732.5,552" fill="none" stroke="url(#gBand)" stroke-width="4.2"/>
<path d="M742.0,458 A8,47 0 0 0 742.0,552" fill="none" stroke="url(#gBand)" stroke-width="4.2"/>
<path d="M751.5,458 A8,47 0 0 0 751.5,552" fill="none" stroke="url(#gBand)" stroke-width="4.2"/>
<path d="M687.5,431 H710.9 A38.1,48 0 0 1 749.0,479 V519 A38.1,48 0 0 1 710.9,567 H687.5 Z M709.0,505 A18.4,51 0 1 0 745.9,505 A18.4,51 0 1 0 709.0,505 Z" fill="url(#gDisc)" fill-rule="evenodd" stroke="#80858a" stroke-width="1.2"/>
<rect x="667.5" y="432" width="18" height="134" rx="7" ry="16" fill="url(#gBand)" stroke="#5e6368" stroke-width="0.8"/>
<rect x="682.5" y="431" width="23" height="136" rx="7" ry="16" fill="url(#gBand)" stroke="#5e6368" stroke-width="0.8"/>
<rect x="795.0" y="454" width="53.8" height="102" rx="8" fill="#07090c"/>
<path d="M803.0,458 A8,47 0 0 0 803.0,552" fill="none" stroke="url(#gBand)" stroke-width="4.2"/>
<path d="M812.5,458 A8,47 0 0 0 812.5,552" fill="none" stroke="url(#gBand)" stroke-width="4.2"/>
<path d="M822.0,458 A8,47 0 0 0 822.0,552" fill="none" stroke="url(#gBand)" stroke-width="4.2"/>
<path d="M831.5,458 A8,47 0 0 0 831.5,552" fill="none" stroke="url(#gBand)" stroke-width="4.2"/>
<path d="M841.0,458 A8,47 0 0 0 841.0,552" fill="none" stroke="url(#gBand)" stroke-width="4.2"/>
<path d="M777.0,431 H798.7 A35.3,48 0 0 1 834.0,479 V519 A35.3,48 0 0 1 798.7,567 H777.0 Z M796.9,505 A17.1,51 0 1 0 831.1,505 A17.1,51 0 1 0 796.9,505 Z" fill="url(#gDisc)" fill-rule="evenodd" stroke="#80858a" stroke-width="1.2"/>
<rect x="757.0" y="432" width="18" height="134" rx="7" ry="16" fill="url(#gBand)" stroke="#5e6368" stroke-width="0.8"/>
<rect x="772.0" y="431" width="23" height="136" rx="7" ry="16" fill="url(#gBand)" stroke="#5e6368" stroke-width="0.8"/>
<rect x="884.8" y="454" width="42.2" height="102" rx="8" fill="#07090c"/>
<path d="M892.8,458 A8,47 0 0 0 892.8,552" fill="none" stroke="url(#gBand)" stroke-width="4.2"/>
<path d="M902.3,458 A8,47 0 0 0 902.3,552" fill="none" stroke="url(#gBand)" stroke-width="4.2"/>
<path d="M911.8,458 A8,47 0 0 0 911.8,552" fill="none" stroke="url(#gBand)" stroke-width="4.2"/>
<path d="M921.3,458 A8,47 0 0 0 921.3,552" fill="none" stroke="url(#gBand)" stroke-width="4.2"/>
<path d="M866.8,431 H884.6 A29.0,48 0 0 1 913.6,479 V519 A29.0,48 0 0 1 884.6,567 H866.8 Z M883.2,505 A14.0,51 0 1 0 911.3,505 A14.0,51 0 1 0 883.2,505 Z" fill="url(#gDisc)" fill-rule="evenodd" stroke="#80858a" stroke-width="1.2"/>
<rect x="846.8" y="432" width="18" height="134" rx="7" ry="16" fill="url(#gBand)" stroke="#5e6368" stroke-width="0.8"/>
<rect x="861.8" y="431" width="23" height="136" rx="7" ry="16" fill="url(#gBand)" stroke="#5e6368" stroke-width="0.8"/>
<!-- pressure end cylinders -->
<rect x="924" y="438" width="30" height="131" rx="9" fill="url(#gBand)" stroke="#3a3e43" stroke-width="1"/>
<ellipse cx="958" cy="503" rx="12" ry="64" fill="#1d2024"/>
<rect x="958" y="441" width="44" height="129" rx="10" fill="url(#gBand)" stroke="#3a3e43" stroke-width="1"/>
<ellipse cx="1000" cy="505" rx="6" ry="58" fill="#2a2e33"/>
<!-- ===== water ===== -->
<defs><radialGradient id="gDrop" cx="0.4" cy="0.35" r="0.7"><stop offset="0" stop-color="#ffffff"/><stop offset="0.55" stop-color="#dfe6ea"/><stop offset="1" stop-color="#93a5b2"/></radialGradient>
<radialGradient id="gDropB" cx="0.4" cy="0.35" r="0.7"><stop offset="0" stop-color="#e6f5ff"/><stop offset="0.6" stop-color="#8cc8ee"/><stop offset="1" stop-color="#3d8cc8"/></radialGradient>
</defs>
<path d="M765,606 L1000,584 L1008,597 L765,628 Z" fill="#2c261d"/>
<line x1="890.3" y1="611.0" x2="889.2" y2="592.7" stroke="#a08258" stroke-width="0.9" opacity="0.85"/>
<line x1="948.9" y1="603.5" x2="946.9" y2="586.7" stroke="#a08258" stroke-width="0.9" opacity="0.85"/>
<line x1="771.5" y1="626.2" x2="770.2" y2="613.8" stroke="#5a4a30" stroke-width="0.9" opacity="0.85"/>
<line x1="885.4" y1="611.6" x2="883.6" y2="600.2" stroke="#5a4a30" stroke-width="0.9" opacity="0.85"/>
<line x1="897.3" y1="610.1" x2="895.5" y2="601.2" stroke="#6e5838" stroke-width="0.9" opacity="0.85"/>
<line x1="934.3" y1="605.4" x2="933.5" y2="590.6" stroke="#6e5838" stroke-width="0.9" opacity="0.85"/>
<line x1="794.6" y1="623.2" x2="793.7" y2="606.2" stroke="#8a7048" stroke-width="0.9" opacity="0.85"/>
<line x1="784.6" y1="624.5" x2="785.3" y2="604.3" stroke="#5a4a30" stroke-width="0.9" opacity="0.85"/>
<line x1="909.0" y1="608.6" x2="910.6" y2="592.1" stroke="#5a4a30" stroke-width="0.9" opacity="0.85"/>
<line x1="985.8" y1="598.8" x2="986.2" y2="591.6" stroke="#a08258" stroke-width="0.9" opacity="0.85"/>
<line x1="980.3" y1="599.5" x2="982.5" y2="582.2" stroke="#8a7048" stroke-width="0.9" opacity="0.85"/>
<line x1="855.0" y1="615.5" x2="853.7" y2="597.7" stroke="#5a4a30" stroke-width="0.9" opacity="0.85"/>
<line x1="898.6" y1="610.0" x2="896.4" y2="589.5" stroke="#a08258" stroke-width="0.9" opacity="0.85"/>
<line x1="780.4" y1="625.0" x2="779.2" y2="614.2" stroke="#6e5838" stroke-width="0.9" opacity="0.85"/>
<line x1="838.8" y1="617.6" x2="838.0" y2="605.7" stroke="#6e5838" stroke-width="0.9" opacity="0.85"/>
<line x1="983.2" y1="599.2" x2="982.3" y2="584.1" stroke="#a08258" stroke-width="0.9" opacity="0.85"/>
<line x1="777.2" y1="625.4" x2="777.0" y2="604.6" stroke="#8a7048" stroke-width="0.9" opacity="0.85"/>
<line x1="830.4" y1="618.7" x2="829.4" y2="602.8" stroke="#6e5838" stroke-width="0.9" opacity="0.85"/>
<line x1="783.0" y1="624.7" x2="780.6" y2="603.9" stroke="#5a4a30" stroke-width="0.9" opacity="0.85"/>
<line x1="900.4" y1="609.7" x2="900.3" y2="593.1" stroke="#5a4a30" stroke-width="0.9" opacity="0.85"/>
<line x1="993.3" y1="597.9" x2="991.8" y2="577.2" stroke="#5a4a30" stroke-width="0.9" opacity="0.85"/>
<line x1="1003.9" y1="596.5" x2="1005.9" y2="576.1" stroke="#8a7048" stroke-width="0.9" opacity="0.85"/>
<line x1="777.1" y1="625.5" x2="778.6" y2="604.8" stroke="#a08258" stroke-width="0.9" opacity="0.85"/>
<line x1="985.8" y1="598.8" x2="984.2" y2="580.5" stroke="#8a7048" stroke-width="0.9" opacity="0.85"/>
<line x1="865.6" y1="614.2" x2="867.3" y2="597.5" stroke="#a08258" stroke-width="0.9" opacity="0.85"/>
<line x1="922.8" y1="606.9" x2="923.0" y2="594.2" stroke="#8a7048" stroke-width="0.9" opacity="0.85"/>
<line x1="895.3" y1="610.4" x2="895.5" y2="589.7" stroke="#6e5838" stroke-width="0.9" opacity="0.85"/>
<line x1="828.7" y1="618.9" x2="826.4" y2="609.6" stroke="#a08258" stroke-width="0.9" opacity="0.85"/>
<line x1="978.0" y1="599.8" x2="976.7" y2="584.6" stroke="#5a4a30" stroke-width="0.9" opacity="0.85"/>
<line x1="862.9" y1="614.5" x2="865.2" y2="598.7" stroke="#8a7048" stroke-width="0.9" opacity="0.85"/>
<line x1="945.4" y1="604.0" x2="947.0" y2="593.8" stroke="#a08258" stroke-width="0.9" opacity="0.85"/>
<line x1="997.7" y1="597.3" x2="995.5" y2="581.9" stroke="#5a4a30" stroke-width="0.9" opacity="0.85"/>
<line x1="964.7" y1="601.5" x2="966.9" y2="581.0" stroke="#6e5838" stroke-width="0.9" opacity="0.85"/>
<line x1="898.4" y1="610.0" x2="896.8" y2="594.4" stroke="#a08258" stroke-width="0.9" opacity="0.85"/>
<line x1="998.4" y1="597.2" x2="997.7" y2="587.3" stroke="#5a4a30" stroke-width="0.9" opacity="0.85"/>
<line x1="907.0" y1="608.9" x2="905.4" y2="594.6" stroke="#8a7048" stroke-width="0.9" opacity="0.85"/>
<line x1="903.2" y1="609.4" x2="902.9" y2="592.5" stroke="#6e5838" stroke-width="0.9" opacity="0.85"/>
<line x1="871.9" y1="613.4" x2="871.7" y2="599.3" stroke="#5a4a30" stroke-width="0.9" opacity="0.85"/>
<line x1="835.6" y1="618.0" x2="837.2" y2="608.4" stroke="#8a7048" stroke-width="0.9" opacity="0.85"/>
<line x1="877.2" y1="612.7" x2="874.9" y2="595.2" stroke="#6e5838" stroke-width="0.9" opacity="0.85"/>
<line x1="788.7" y1="624.0" x2="786.3" y2="607.6" stroke="#8a7048" stroke-width="0.9" opacity="0.85"/>
<line x1="878.2" y1="612.6" x2="880.7" y2="592.9" stroke="#6e5838" stroke-width="0.9" opacity="0.85"/>
<line x1="788.7" y1="624.0" x2="788.5" y2="604.3" stroke="#8a7048" stroke-width="0.9" opacity="0.85"/>
<line x1="962.1" y1="601.9" x2="963.9" y2="581.9" stroke="#8a7048" stroke-width="0.9" opacity="0.85"/>
<line x1="955.5" y1="602.7" x2="956.7" y2="589.7" stroke="#8a7048" stroke-width="0.9" opacity="0.85"/>
<line x1="779.4" y1="625.2" x2="778.2" y2="604.5" stroke="#a08258" stroke-width="0.9" opacity="0.85"/>
<line x1="848.4" y1="616.4" x2="847.9" y2="601.8" stroke="#5a4a30" stroke-width="0.9" opacity="0.85"/>
<line x1="766.8" y1="626.8" x2="764.7" y2="609.3" stroke="#a08258" stroke-width="0.9" opacity="0.85"/>
<line x1="944.9" y1="604.1" x2="944.0" y2="585.9" stroke="#a08258" stroke-width="0.9" opacity="0.85"/>
<line x1="793.2" y1="623.4" x2="795.3" y2="614.6" stroke="#6e5838" stroke-width="0.9" opacity="0.85"/>
<line x1="962.2" y1="601.8" x2="961.0" y2="588.6" stroke="#a08258" stroke-width="0.9" opacity="0.85"/>
<line x1="928.4" y1="606.2" x2="928.3" y2="594.8" stroke="#6e5838" stroke-width="0.9" opacity="0.85"/>
<line x1="795.8" y1="623.1" x2="797.2" y2="609.0" stroke="#6e5838" stroke-width="0.9" opacity="0.85"/>
<line x1="785.0" y1="624.5" x2="786.4" y2="611.3" stroke="#5a4a30" stroke-width="0.9" opacity="0.85"/>
<line x1="910.1" y1="608.5" x2="908.4" y2="588.9" stroke="#6e5838" stroke-width="0.9" opacity="0.85"/>
<line x1="893.3" y1="610.6" x2="895.6" y2="599.2" stroke="#a08258" stroke-width="0.9" opacity="0.85"/>
<line x1="862.7" y1="614.5" x2="864.7" y2="598.9" stroke="#6e5838" stroke-width="0.9" opacity="0.85"/>
<line x1="801.2" y1="622.4" x2="801.4" y2="612.1" stroke="#a08258" stroke-width="0.9" opacity="0.85"/>
<line x1="871.4" y1="613.4" x2="870.3" y2="599.4" stroke="#6e5838" stroke-width="0.9" opacity="0.85"/>
<line x1="823.2" y1="619.6" x2="822.6" y2="609.1" stroke="#6e5838" stroke-width="0.9" opacity="0.85"/>
<line x1="917.5" y1="607.5" x2="917.2" y2="595.9" stroke="#8a7048" stroke-width="0.9" opacity="0.85"/>
<line x1="978.5" y1="599.8" x2="976.4" y2="587.5" stroke="#6e5838" stroke-width="0.9" opacity="0.85"/>
<line x1="836.2" y1="617.9" x2="835.3" y2="606.9" stroke="#5a4a30" stroke-width="0.9" opacity="0.85"/>
<line x1="996.3" y1="597.5" x2="995.8" y2="580.1" stroke="#a08258" stroke-width="0.9" opacity="0.85"/>
<line x1="843.1" y1="617.0" x2="842.8" y2="602.0" stroke="#6e5838" stroke-width="0.9" opacity="0.85"/>
<line x1="992.7" y1="598.0" x2="991.4" y2="580.4" stroke="#a08258" stroke-width="0.9" opacity="0.85"/>
<line x1="816.2" y1="620.5" x2="815.6" y2="601.3" stroke="#5a4a30" stroke-width="0.9" opacity="0.85"/>
<line x1="991.8" y1="598.1" x2="993.7" y2="586.8" stroke="#6e5838" stroke-width="0.9" opacity="0.85"/>
<line x1="767.9" y1="626.6" x2="767.1" y2="607.5" stroke="#8a7048" stroke-width="0.9" opacity="0.85"/>
<line x1="921.0" y1="607.1" x2="921.9" y2="594.4" stroke="#a08258" stroke-width="0.9" opacity="0.85"/>
<line x1="872.8" y1="613.2" x2="874.1" y2="595.4" stroke="#6e5838" stroke-width="0.9" opacity="0.85"/>
<line x1="816.1" y1="620.5" x2="817.3" y2="610.6" stroke="#a08258" stroke-width="0.9" opacity="0.85"/>
<line x1="934.7" y1="605.3" x2="932.6" y2="595.6" stroke="#5a4a30" stroke-width="0.9" opacity="0.85"/>
<line x1="923.1" y1="606.8" x2="925.3" y2="594.9" stroke="#6e5838" stroke-width="0.9" opacity="0.85"/>
<line x1="881.2" y1="612.2" x2="879.4" y2="599.0" stroke="#8a7048" stroke-width="0.9" opacity="0.85"/>
<line x1="975.8" y1="600.1" x2="976.8" y2="582.4" stroke="#6e5838" stroke-width="0.9" opacity="0.85"/>
<line x1="855.8" y1="615.4" x2="855.0" y2="603.7" stroke="#6e5838" stroke-width="0.9" opacity="0.85"/>
<line x1="857.6" y1="615.2" x2="857.6" y2="605.2" stroke="#6e5838" stroke-width="0.9" opacity="0.85"/>
<line x1="878.6" y1="612.5" x2="876.6" y2="599.8" stroke="#5a4a30" stroke-width="0.9" opacity="0.85"/>
<line x1="1003.3" y1="596.6" x2="1003.2" y2="582.6" stroke="#a08258" stroke-width="0.9" opacity="0.85"/>
<line x1="812.7" y1="620.9" x2="814.5" y2="610.3" stroke="#8a7048" stroke-width="0.9" opacity="0.85"/>
<line x1="834.9" y1="618.1" x2="836.6" y2="610.3" stroke="#a08258" stroke-width="0.9" opacity="0.85"/>
<line x1="920.1" y1="607.2" x2="920.2" y2="592.8" stroke="#5a4a30" stroke-width="0.9" opacity="0.85"/>
<line x1="959.2" y1="602.2" x2="960.3" y2="594.7" stroke="#8a7048" stroke-width="0.9" opacity="0.85"/>
<line x1="833.4" y1="618.3" x2="834.4" y2="602.7" stroke="#8a7048" stroke-width="0.9" opacity="0.85"/>
<line x1="830.9" y1="618.6" x2="833.2" y2="603.0" stroke="#5a4a30" stroke-width="0.9" opacity="0.85"/>
<line x1="949.2" y1="603.5" x2="948.6" y2="595.0" stroke="#a08258" stroke-width="0.9" opacity="0.85"/>
<line x1="872.1" y1="613.3" x2="871.5" y2="595.1" stroke="#5a4a30" stroke-width="0.9" opacity="0.85"/>
<line x1="817.7" y1="620.3" x2="817.0" y2="604.9" stroke="#8a7048" stroke-width="0.9" opacity="0.85"/>
<line x1="954.1" y1="602.9" x2="954.6" y2="584.0" stroke="#8a7048" stroke-width="0.9" opacity="0.85"/>
<line x1="995.1" y1="597.6" x2="997.3" y2="590.1" stroke="#5a4a30" stroke-width="0.9" opacity="0.85"/>
<line x1="927.4" y1="606.3" x2="927.6" y2="592.8" stroke="#6e5838" stroke-width="0.9" opacity="0.85"/>
<line x1="871.2" y1="613.5" x2="868.8" y2="597.0" stroke="#a08258" stroke-width="0.9" opacity="0.85"/>
<line x1="907.3" y1="608.8" x2="907.2" y2="591.0" stroke="#6e5838" stroke-width="0.9" opacity="0.85"/>
<line x1="839.1" y1="617.5" x2="839.7" y2="601.5" stroke="#a08258" stroke-width="0.9" opacity="0.85"/>
<line x1="897.6" y1="610.1" x2="895.1" y2="597.0" stroke="#5a4a30" stroke-width="0.9" opacity="0.85"/>
<line x1="875.7" y1="612.9" x2="876.9" y2="593.6" stroke="#a08258" stroke-width="0.9" opacity="0.85"/>
<line x1="987.3" y1="598.6" x2="985.3" y2="590.8" stroke="#5a4a30" stroke-width="0.9" opacity="0.85"/>
<line x1="920.2" y1="607.2" x2="921.3" y2="596.1" stroke="#8a7048" stroke-width="0.9" opacity="0.85"/>
<line x1="906.6" y1="608.9" x2="907.5" y2="592.6" stroke="#8a7048" stroke-width="0.9" opacity="0.85"/>
<line x1="928.2" y1="606.2" x2="930.1" y2="587.2" stroke="#6e5838" stroke-width="0.9" opacity="0.85"/>
<line x1="944.6" y1="604.1" x2="946.2" y2="586.0" stroke="#8a7048" stroke-width="0.9" opacity="0.85"/>
<line x1="856.5" y1="615.3" x2="856.0" y2="607.5" stroke="#5a4a30" stroke-width="0.9" opacity="0.85"/>
<line x1="948.1" y1="603.6" x2="948.4" y2="593.0" stroke="#6e5838" stroke-width="0.9" opacity="0.85"/>
<line x1="941.3" y1="604.5" x2="943.1" y2="589.1" stroke="#6e5838" stroke-width="0.9" opacity="0.85"/>
<line x1="964.5" y1="601.6" x2="963.5" y2="585.3" stroke="#5a4a30" stroke-width="0.9" opacity="0.85"/>
<line x1="990.0" y1="598.3" x2="991.2" y2="582.6" stroke="#6e5838" stroke-width="0.9" opacity="0.85"/>
<line x1="877.3" y1="612.7" x2="878.8" y2="599.5" stroke="#a08258" stroke-width="0.9" opacity="0.85"/>
<line x1="913.2" y1="608.1" x2="912.0" y2="598.3" stroke="#8a7048" stroke-width="0.9" opacity="0.85"/>
<line x1="827.2" y1="619.1" x2="828.9" y2="599.6" stroke="#a08258" stroke-width="0.9" opacity="0.85"/>
<line x1="857.7" y1="615.2" x2="855.3" y2="607.5" stroke="#8a7048" stroke-width="0.9" opacity="0.85"/>
<line x1="894.9" y1="610.4" x2="896.5" y2="592.8" stroke="#a08258" stroke-width="0.9" opacity="0.85"/>
<line x1="924.9" y1="606.6" x2="925.3" y2="597.2" stroke="#a08258" stroke-width="0.9" opacity="0.85"/>
<line x1="923.4" y1="606.8" x2="923.8" y2="591.4" stroke="#a08258" stroke-width="0.9" opacity="0.85"/>
<line x1="986.6" y1="598.7" x2="988.5" y2="590.2" stroke="#8a7048" stroke-width="0.9" opacity="0.85"/>
<line x1="874.0" y1="613.1" x2="876.1" y2="604.0" stroke="#5a4a30" stroke-width="0.9" opacity="0.85"/>
<line x1="766.7" y1="626.8" x2="766.1" y2="619.7" stroke="#5a4a30" stroke-width="0.9" opacity="0.85"/>
<line x1="932.8" y1="605.6" x2="931.4" y2="597.2" stroke="#6e5838" stroke-width="0.9" opacity="0.85"/>
<line x1="936.1" y1="605.2" x2="935.2" y2="589.7" stroke="#5a4a30" stroke-width="0.9" opacity="0.85"/>
<line x1="879.3" y1="612.4" x2="878.1" y2="592.0" stroke="#a08258" stroke-width="0.9" opacity="0.85"/>
<line x1="939.9" y1="604.7" x2="938.3" y2="591.4" stroke="#8a7048" stroke-width="0.9" opacity="0.85"/>
<line x1="824.5" y1="619.4" x2="823.3" y2="608.9" stroke="#8a7048" stroke-width="0.9" opacity="0.85"/>
<line x1="938.6" y1="604.9" x2="937.4" y2="594.2" stroke="#5a4a30" stroke-width="0.9" opacity="0.85"/>
<line x1="858.8" y1="615.0" x2="860.0" y2="601.7" stroke="#a08258" stroke-width="0.9" opacity="0.85"/>
<line x1="994.0" y1="597.8" x2="991.7" y2="587.8" stroke="#8a7048" stroke-width="0.9" opacity="0.85"/>
<line x1="792.3" y1="623.5" x2="793.6" y2="616.0" stroke="#a08258" stroke-width="0.9" opacity="0.85"/>
<line x1="819.6" y1="620.0" x2="821.3" y2="606.0" stroke="#6e5838" stroke-width="0.9" opacity="0.85"/>
<line x1="903.2" y1="609.4" x2="903.1" y2="593.9" stroke="#8a7048" stroke-width="0.9" opacity="0.85"/>
<line x1="969.5" y1="600.9" x2="969.1" y2="583.9" stroke="#5a4a30" stroke-width="0.9" opacity="0.85"/>
<line x1="845.4" y1="616.7" x2="843.1" y2="602.2" stroke="#8a7048" stroke-width="0.9" opacity="0.85"/>
<line x1="780.2" y1="625.1" x2="781.0" y2="615.7" stroke="#5a4a30" stroke-width="0.9" opacity="0.85"/>
<line x1="802.3" y1="622.2" x2="804.0" y2="611.2" stroke="#a08258" stroke-width="0.9" opacity="0.85"/>
<line x1="804.3" y1="622.0" x2="806.4" y2="604.8" stroke="#a08258" stroke-width="0.9" opacity="0.85"/>
<line x1="841.7" y1="617.2" x2="844.0" y2="606.9" stroke="#5a4a30" stroke-width="0.9" opacity="0.85"/>
<line x1="835.3" y1="618.0" x2="833.9" y2="600.7" stroke="#5a4a30" stroke-width="0.9" opacity="0.85"/>
<line x1="901.0" y1="609.6" x2="900.9" y2="596.7" stroke="#a08258" stroke-width="0.9" opacity="0.85"/>
<line x1="839.5" y1="617.5" x2="837.6" y2="609.6" stroke="#a08258" stroke-width="0.9" opacity="0.85"/>
<line x1="996.7" y1="597.4" x2="998.1" y2="589.9" stroke="#a08258" stroke-width="0.9" opacity="0.85"/>
<line x1="785.4" y1="624.4" x2="787.5" y2="609.2" stroke="#6e5838" stroke-width="0.9" opacity="0.85"/>
<line x1="785.9" y1="624.3" x2="785.9" y2="606.8" stroke="#6e5838" stroke-width="0.9" opacity="0.85"/>
<line x1="908.6" y1="608.7" x2="910.2" y2="597.2" stroke="#6e5838" stroke-width="0.9" opacity="0.85"/>
<line x1="963.7" y1="601.7" x2="964.2" y2="588.0" stroke="#6e5838" stroke-width="0.9" opacity="0.85"/>
<line x1="957.4" y1="602.5" x2="958.9" y2="589.6" stroke="#6e5838" stroke-width="0.9" opacity="0.85"/>
<line x1="981.6" y1="599.4" x2="981.2" y2="589.7" stroke="#8a7048" stroke-width="0.9" opacity="0.85"/>
<line x1="824.6" y1="619.4" x2="824.7" y2="608.6" stroke="#a08258" stroke-width="0.9" opacity="0.85"/>
<line x1="847.3" y1="616.5" x2="849.6" y2="607.5" stroke="#a08258" stroke-width="0.9" opacity="0.85"/>
<line x1="828.6" y1="618.9" x2="827.4" y2="611.0" stroke="#5a4a30" stroke-width="0.9" opacity="0.85"/>
<line x1="873.6" y1="613.1" x2="873.7" y2="595.0" stroke="#8a7048" stroke-width="0.9" opacity="0.85"/>
<line x1="803.8" y1="622.1" x2="801.3" y2="601.2" stroke="#a08258" stroke-width="0.9" opacity="0.85"/>
<line x1="920.8" y1="607.1" x2="918.9" y2="599.3" stroke="#a08258" stroke-width="0.9" opacity="0.85"/>
<line x1="959.2" y1="602.2" x2="959.2" y2="586.3" stroke="#a08258" stroke-width="0.9" opacity="0.85"/>
<line x1="933.7" y1="605.5" x2="932.4" y2="588.8" stroke="#8a7048" stroke-width="0.9" opacity="0.85"/>
<line x1="884.2" y1="611.8" x2="883.7" y2="594.3" stroke="#8a7048" stroke-width="0.9" opacity="0.85"/>
<line x1="991.7" y1="598.1" x2="993.0" y2="586.2" stroke="#6e5838" stroke-width="0.9" opacity="0.85"/>
<line x1="983.4" y1="599.1" x2="982.3" y2="583.7" stroke="#a08258" stroke-width="0.9" opacity="0.85"/>
<line x1="886.5" y1="611.5" x2="884.0" y2="596.5" stroke="#8a7048" stroke-width="0.9" opacity="0.85"/>
<line x1="993.2" y1="597.9" x2="994.2" y2="579.5" stroke="#8a7048" stroke-width="0.9" opacity="0.85"/>
<line x1="941.0" y1="604.5" x2="941.9" y2="589.8" stroke="#6e5838" stroke-width="0.9" opacity="0.85"/>
<line x1="773.8" y1="625.9" x2="774.4" y2="607.1" stroke="#8a7048" stroke-width="0.9" opacity="0.85"/>
<line x1="907.7" y1="608.8" x2="907.7" y2="601.3" stroke="#a08258" stroke-width="0.9" opacity="0.85"/>
<line x1="984.5" y1="599.0" x2="984.6" y2="584.1" stroke="#6e5838" stroke-width="0.9" opacity="0.85"/>
<line x1="853.9" y1="615.7" x2="856.3" y2="607.3" stroke="#a08258" stroke-width="0.9" opacity="0.85"/>
<line x1="989.5" y1="598.4" x2="989.7" y2="584.3" stroke="#5a4a30" stroke-width="0.9" opacity="0.85"/>
<line x1="817.2" y1="620.3" x2="817.5" y2="611.2" stroke="#8a7048" stroke-width="0.9" opacity="0.85"/>
<line x1="985.4" y1="598.9" x2="983.4" y2="585.5" stroke="#a08258" stroke-width="0.9" opacity="0.85"/>
<line x1="804.6" y1="622.0" x2="806.0" y2="614.2" stroke="#6e5838" stroke-width="0.9" opacity="0.85"/>
<line x1="853.9" y1="615.7" x2="856.2" y2="596.0" stroke="#5a4a30" stroke-width="0.9" opacity="0.85"/>
<line x1="781.2" y1="624.9" x2="781.6" y2="611.9" stroke="#5a4a30" stroke-width="0.9" opacity="0.85"/>
<line x1="933.4" y1="605.5" x2="933.3" y2="596.2" stroke="#a08258" stroke-width="0.9" opacity="0.85"/>
<line x1="931.6" y1="605.7" x2="931.4" y2="598.7" stroke="#5a4a30" stroke-width="0.9" opacity="0.85"/>
<line x1="912.1" y1="608.2" x2="909.7" y2="590.0" stroke="#8a7048" stroke-width="0.9" opacity="0.85"/>
<line x1="843.0" y1="617.0" x2="841.4" y2="598.6" stroke="#6e5838" stroke-width="0.9" opacity="0.85"/>
<line x1="976.3" y1="600.0" x2="975.8" y2="585.0" stroke="#6e5838" stroke-width="0.9" opacity="0.85"/>
<line x1="943.8" y1="604.2" x2="945.5" y2="595.5" stroke="#a08258" stroke-width="0.9" opacity="0.85"/>
<line x1="924.5" y1="606.7" x2="923.8" y2="596.8" stroke="#6e5838" stroke-width="0.9" opacity="0.85"/>
<line x1="996.9" y1="597.4" x2="998.9" y2="581.1" stroke="#a08258" stroke-width="0.9" opacity="0.85"/>
<line x1="785.9" y1="624.3" x2="786.6" y2="610.6" stroke="#a08258" stroke-width="0.9" opacity="0.85"/>
<line x1="862.6" y1="614.5" x2="863.0" y2="601.7" stroke="#a08258" stroke-width="0.9" opacity="0.85"/>
<line x1="980.3" y1="599.5" x2="979.0" y2="582.7" stroke="#6e5838" stroke-width="0.9" opacity="0.85"/>
<line x1="830.4" y1="618.7" x2="828.7" y2="606.2" stroke="#a08258" stroke-width="0.9" opacity="0.85"/>
<line x1="909.8" y1="608.5" x2="908.5" y2="592.6" stroke="#a08258" stroke-width="0.9" opacity="0.85"/>
<line x1="950.9" y1="603.3" x2="951.7" y2="593.6" stroke="#a08258" stroke-width="0.9" opacity="0.85"/>
<line x1="972.3" y1="600.6" x2="971.8" y2="589.4" stroke="#a08258" stroke-width="0.9" opacity="0.85"/>
<line x1="862.1" y1="614.6" x2="860.7" y2="598.8" stroke="#6e5838" stroke-width="0.9" opacity="0.85"/>
<line x1="913.3" y1="608.1" x2="912.5" y2="593.1" stroke="#5a4a30" stroke-width="0.9" opacity="0.85"/>
<line x1="804.1" y1="622.0" x2="806.3" y2="607.3" stroke="#5a4a30" stroke-width="0.9" opacity="0.85"/>
<line x1="824.2" y1="619.5" x2="826.0" y2="609.7" stroke="#6e5838" stroke-width="0.9" opacity="0.85"/>
<line x1="794.5" y1="623.2" x2="795.6" y2="609.0" stroke="#a08258" stroke-width="0.9" opacity="0.85"/>
<line x1="928.7" y1="606.1" x2="930.9" y2="598.3" stroke="#6e5838" stroke-width="0.9" opacity="0.85"/>
<line x1="799.6" y1="622.6" x2="798.8" y2="612.1" stroke="#6e5838" stroke-width="0.9" opacity="0.85"/>
<line x1="994.1" y1="597.8" x2="996.2" y2="582.7" stroke="#8a7048" stroke-width="0.9" opacity="0.85"/>
<line x1="941.0" y1="604.5" x2="942.7" y2="593.0" stroke="#5a4a30" stroke-width="0.9" opacity="0.85"/>
<line x1="854.1" y1="615.6" x2="855.2" y2="605.6" stroke="#6e5838" stroke-width="0.9" opacity="0.85"/>
<line x1="868.5" y1="613.8" x2="869.4" y2="606.0" stroke="#5a4a30" stroke-width="0.9" opacity="0.85"/>
<line x1="985.1" y1="598.9" x2="985.2" y2="583.9" stroke="#a08258" stroke-width="0.9" opacity="0.85"/>
<line x1="864.2" y1="614.3" x2="863.5" y2="605.0" stroke="#a08258" stroke-width="0.9" opacity="0.85"/>
<line x1="993.5" y1="597.9" x2="993.5" y2="590.5" stroke="#5a4a30" stroke-width="0.9" opacity="0.85"/>
<line x1="806.8" y1="621.7" x2="805.4" y2="601.6" stroke="#a08258" stroke-width="0.9" opacity="0.85"/>
<line x1="912.0" y1="608.2" x2="911.6" y2="598.8" stroke="#8a7048" stroke-width="0.9" opacity="0.85"/>
<line x1="953.3" y1="603.0" x2="951.2" y2="592.5" stroke="#a08258" stroke-width="0.9" opacity="0.85"/>
<line x1="771.0" y1="626.2" x2="771.4" y2="610.5" stroke="#6e5838" stroke-width="0.9" opacity="0.85"/>
<line x1="847.5" y1="616.5" x2="849.8" y2="606.6" stroke="#8a7048" stroke-width="0.9" opacity="0.85"/>
<line x1="992.9" y1="597.9" x2="991.3" y2="582.5" stroke="#6e5838" stroke-width="0.9" opacity="0.85"/>
<line x1="799.5" y1="622.6" x2="799.5" y2="604.8" stroke="#8a7048" stroke-width="0.9" opacity="0.85"/>
<line x1="939.8" y1="604.7" x2="941.4" y2="593.0" stroke="#6e5838" stroke-width="0.9" opacity="0.85"/>
<line x1="813.0" y1="620.9" x2="814.3" y2="601.6" stroke="#5a4a30" stroke-width="0.9" opacity="0.85"/>
<line x1="959.1" y1="602.2" x2="959.4" y2="586.0" stroke="#6e5838" stroke-width="0.9" opacity="0.85"/>
<line x1="816.1" y1="620.5" x2="815.7" y2="607.2" stroke="#6e5838" stroke-width="0.9" opacity="0.85"/>
<line x1="1003.6" y1="596.6" x2="1004.3" y2="583.9" stroke="#8a7048" stroke-width="0.9" opacity="0.85"/>
<line x1="806.1" y1="621.8" x2="805.0" y2="605.6" stroke="#a08258" stroke-width="0.9" opacity="0.85"/>
<line x1="927.4" y1="606.3" x2="929.5" y2="596.5" stroke="#6e5838" stroke-width="0.9" opacity="0.85"/>
<line x1="769.4" y1="626.4" x2="771.2" y2="613.7" stroke="#6e5838" stroke-width="0.9" opacity="0.85"/>
<line x1="949.4" y1="603.5" x2="950.8" y2="594.3" stroke="#a08258" stroke-width="0.9" opacity="0.85"/>
<line x1="838.6" y1="617.6" x2="836.3" y2="601.8" stroke="#a08258" stroke-width="0.9" opacity="0.85"/>
<line x1="917.8" y1="607.5" x2="918.1" y2="592.5" stroke="#a08258" stroke-width="0.9" opacity="0.85"/>
<line x1="890.0" y1="611.0" x2="891.6" y2="594.1" stroke="#8a7048" stroke-width="0.9" opacity="0.85"/>
<line x1="904.4" y1="609.2" x2="906.3" y2="588.8" stroke="#a08258" stroke-width="0.9" opacity="0.85"/>
<line x1="991.1" y1="598.2" x2="990.7" y2="582.0" stroke="#5a4a30" stroke-width="0.9" opacity="0.85"/>
<line x1="778.9" y1="625.2" x2="778.8" y2="607.0" stroke="#8a7048" stroke-width="0.9" opacity="0.85"/>
<line x1="777.6" y1="625.4" x2="775.9" y2="614.4" stroke="#5a4a30" stroke-width="0.9" opacity="0.85"/>
<path d="M524.4,598.2 L521.9,604.9 L517.0,604.7 L511.1,603.4 L510.1,599.3 L512.4,595.2 L519.1,592.6 L522.2,593.9 Z" fill="url(#gDrop)"/>
<path d="M549.0,627.6 L548.0,629.3 L546.3,630.3 L543.1,628.7 L542.6,627.4 L543.5,624.0 L545.8,623.2 L548.6,624.2 Z" fill="url(#gDrop)"/>
<path d="M760.1,571.2 L759.3,574.0 L753.4,576.7 L750.9,575.0 L748.6,569.6 L749.8,566.9 L755.9,564.6 L760.3,566.5 Z" fill="url(#gDrop)"/>
<path d="M678.5,567.2 L676.8,569.5 L674.3,570.0 L672.4,569.5 L670.9,567.0 L672.0,564.2 L674.2,562.2 L678.1,564.1 Z" fill="url(#gDrop)"/>
<path d="M588.2,593.1 L586.6,599.3 L583.6,599.7 L578.6,598.0 L577.7,593.0 L578.8,588.8 L582.2,587.7 L587.1,590.5 Z" fill="url(#gDrop)"/>
<path d="M957.6,565.6 L956.5,567.4 L954.2,568.6 L952.0,566.6 L950.9,565.3 L952.7,562.9 L953.9,561.8 L956.2,562.8 Z" fill="url(#gDrop)"/>
<path d="M708.6,571.1 L707.9,574.4 L704.5,576.5 L700.0,574.8 L698.5,571.0 L699.2,567.2 L703.6,566.1 L706.8,566.7 Z" fill="url(#gDrop)"/>
<path d="M816.7,566.5 L814.5,568.5 L811.3,569.4 L810.1,568.9 L808.3,565.4 L809.1,563.6 L811.7,561.6 L814.8,562.1 Z" fill="url(#gDrop)"/>
<path d="M881.8,575.8 L880.9,578.4 L877.2,579.8 L875.2,579.2 L873.8,575.7 L875.5,572.3 L877.7,571.9 L881.3,573.9 Z" fill="url(#gDrop)"/>
<path d="M610.9,598.7 L608.1,604.7 L604.1,605.5 L599.9,603.1 L598.5,599.3 L599.8,596.3 L605.3,594.5 L609.1,596.2 Z" fill="url(#gDrop)"/>
<path d="M689.3,580.5 L687.5,586.9 L684.5,587.4 L679.7,586.6 L677.2,581.4 L678.9,578.0 L684.5,575.1 L687.8,578.4 Z" fill="url(#gDrop)"/>
<path d="M501.6,605.7 L501.0,607.6 L499.7,609.4 L496.9,607.4 L495.8,605.4 L497.2,603.3 L498.6,602.9 L500.6,603.5 Z" fill="url(#gDrop)"/>
<path d="M669.5,575.7 L668.7,577.5 L665.9,578.4 L664.6,577.2 L663.9,575.0 L664.1,573.4 L667.4,571.9 L668.4,572.5 Z" fill="url(#gDrop)"/>
<path d="M720.5,610.7 L719.6,613.4 L717.0,613.9 L714.5,612.9 L714.3,611.0 L714.5,608.6 L717.2,607.8 L719.4,607.9 Z" fill="url(#gDrop)"/>
<path d="M482.3,601.9 L480.5,605.3 L477.4,606.9 L473.8,604.6 L472.8,601.4 L474.5,598.8 L477.2,596.3 L481.4,598.3 Z" fill="url(#gDrop)"/>
<path d="M975.5,578.8 L974.7,583.5 L969.4,585.0 L965.1,584.7 L963.9,578.6 L965.4,576.4 L969.7,574.6 L973.8,575.7 Z" fill="url(#gDrop)"/>
<path d="M892.0,561.6 L891.1,564.5 L888.4,566.4 L884.0,564.8 L882.7,562.1 L882.6,558.5 L888.5,556.6 L890.9,557.4 Z" fill="url(#gDrop)"/>
<path d="M986.9,558.4 L983.2,562.9 L979.2,563.8 L975.8,562.1 L972.8,556.2 L975.0,553.5 L979.8,551.2 L983.6,552.1 Z" fill="url(#gDrop)"/>
<path d="M479.6,634.2 L478.3,637.4 L476.2,637.4 L471.5,636.3 L471.2,634.3 L472.2,631.4 L475.5,629.4 L478.2,630.7 Z" fill="url(#gDrop)"/>
<path d="M658.1,571.5 L656.3,574.3 L654.2,574.5 L652.0,574.0 L651.1,571.1 L652.7,568.8 L654.1,568.4 L657.4,569.7 Z" fill="url(#gDrop)"/>
<path d="M650.8,597.0 L649.3,601.8 L644.6,604.2 L641.7,602.3 L639.9,597.1 L641.6,595.3 L645.6,592.9 L649.0,594.2 Z" fill="url(#gDrop)"/>
<path d="M617.4,571.2 L615.5,573.7 L613.2,575.3 L610.9,573.9 L609.6,572.4 L610.4,569.2 L613.7,567.8 L616.1,569.0 Z" fill="url(#gDrop)"/>
<path d="M571.5,614.5 L570.7,617.7 L568.4,618.0 L566.4,617.6 L565.9,614.9 L566.9,613.3 L569.0,612.4 L571.1,612.9 Z" fill="url(#gDrop)"/>
<path d="M758.4,603.3 L757.0,606.9 L754.6,607.4 L751.9,606.1 L751.2,603.6 L752.2,602.0 L754.3,600.2 L756.9,600.9 Z" fill="url(#gDrop)"/>
<path d="M708.9,618.7 L707.9,623.0 L703.8,623.8 L696.8,622.0 L695.2,617.1 L697.2,613.9 L701.5,611.0 L707.9,611.2 Z" fill="url(#gDrop)"/>
<path d="M561.1,600.6 L559.6,606.5 L555.3,607.6 L550.9,605.9 L548.1,601.1 L550.5,595.7 L552.7,595.4 L558.7,598.1 Z" fill="url(#gDrop)"/>
<path d="M830.6,561.9 L830.0,566.8 L824.5,568.0 L822.3,567.6 L820.0,563.0 L822.1,559.7 L824.5,558.6 L829.5,559.6 Z" fill="url(#gDrop)"/>
<path d="M726.3,549.5 L724.5,555.3 L720.2,556.9 L715.9,556.7 L714.1,550.0 L715.1,546.2 L719.8,544.4 L723.4,545.9 Z" fill="url(#gDrop)"/>
<path d="M894.0,580.8 L892.0,583.9 L888.9,584.9 L885.0,582.5 L883.6,580.9 L885.0,577.1 L888.8,574.4 L892.0,575.3 Z" fill="url(#gDrop)"/>
<path d="M684.0,621.7 L681.5,627.8 L677.0,627.8 L672.3,627.0 L671.0,620.6 L670.6,616.7 L677.6,615.2 L680.8,617.0 Z" fill="url(#gDrop)"/>
<path d="M818.1,592.0 L816.6,595.6 L814.7,596.0 L810.8,595.1 L810.7,592.2 L811.7,589.2 L815.0,588.9 L817.6,589.8 Z" fill="url(#gDrop)"/>
<path d="M610.0,628.9 L608.9,630.5 L607.5,631.0 L605.0,629.8 L604.5,627.6 L605.0,626.8 L607.5,625.6 L609.6,626.1 Z" fill="url(#gDrop)"/>
<path d="M573.4,563.8 L572.9,566.9 L568.6,569.1 L564.1,566.0 L562.4,564.7 L564.8,559.5 L568.3,557.4 L571.9,559.2 Z" fill="url(#gDrop)"/>
<path d="M496.6,624.0 L494.6,628.0 L489.8,630.1 L487.7,628.6 L485.6,622.2 L486.1,618.9 L492.4,616.4 L494.7,618.5 Z" fill="url(#gDrop)"/>
<path d="M631.4,576.3 L631.0,578.9 L625.6,581.7 L621.8,579.9 L620.3,576.7 L623.0,571.8 L627.1,570.4 L630.4,573.4 Z" fill="url(#gDrop)"/>
<path d="M578.4,631.0 L577.1,632.6 L575.6,633.7 L573.3,633.1 L572.3,631.0 L572.9,629.5 L575.1,627.8 L577.1,629.6 Z" fill="url(#gDrop)"/>
<path d="M679.5,555.7 L678.4,557.2 L677.1,558.4 L673.7,557.3 L673.3,554.6 L674.3,551.9 L676.3,551.8 L678.8,552.7 Z" fill="url(#gDrop)"/>
<path d="M945.6,577.3 L943.5,583.4 L937.8,584.1 L933.8,580.7 L932.6,575.9 L935.4,572.5 L939.0,570.9 L944.0,572.7 Z" fill="url(#gDrop)"/>
<path d="M791.8,568.9 L787.5,574.0 L783.9,576.6 L778.3,572.8 L776.1,569.8 L779.5,561.8 L784.5,562.1 L790.3,564.4 Z" fill="url(#gDrop)"/>
<path d="M776.9,559.1 L775.8,560.8 L772.5,562.4 L770.0,561.0 L769.5,558.1 L771.1,554.9 L772.8,554.6 L776.7,555.8 Z" fill="url(#gDrop)"/>
<path d="M875.6,562.3 L875.8,564.9 L872.9,566.6 L869.7,565.3 L868.9,563.0 L869.4,560.9 L872.1,559.5 L874.9,560.9 Z" fill="url(#gDrop)"/>
<path d="M609.7,581.9 L608.3,584.4 L605.5,586.3 L600.1,584.5 L598.9,581.6 L601.5,575.9 L604.1,575.4 L609.3,577.0 Z" fill="url(#gDrop)"/>
<path d="M830.3,581.4 L828.4,584.6 L820.2,588.8 L818.5,585.8 L815.4,579.2 L815.9,576.2 L822.4,573.6 L828.4,576.7 Z" fill="url(#gDrop)"/>
<path d="M771.4,628.4 L770.3,630.4 L768.3,631.5 L765.3,630.5 L764.5,628.4 L765.3,625.3 L767.5,624.7 L770.6,626.1 Z" fill="url(#gDrop)"/>
<path d="M536.2,616.8 L535.6,622.6 L528.5,625.4 L527.2,623.1 L524.6,619.0 L525.0,613.6 L530.4,611.5 L534.5,613.7 Z" fill="url(#gDrop)"/>
<path d="M639.7,607.1 L637.6,611.6 L635.7,613.4 L630.0,611.6 L629.1,607.9 L631.4,602.8 L636.1,601.3 L639.5,604.5 Z" fill="url(#gDrop)"/>
<path d="M722.9,589.6 L720.9,593.5 L717.9,594.7 L715.5,593.8 L713.9,590.2 L714.1,586.9 L718.5,584.6 L722.2,586.2 Z" fill="url(#gDrop)"/>
<path d="M660.7,612.2 L660.2,615.7 L655.6,617.4 L650.2,615.9 L649.3,612.9 L651.8,607.6 L655.1,606.6 L659.5,609.3 Z" fill="url(#gDrop)"/>
<path d="M848.2,570.0 L847.4,573.2 L846.2,574.2 L842.6,573.1 L841.8,570.8 L842.7,568.3 L845.9,567.1 L847.3,567.8 Z" fill="url(#gDrop)"/>
<path d="M645.2,561.8 L644.7,565.0 L641.3,566.5 L637.7,564.8 L637.0,562.1 L637.8,559.4 L640.2,558.5 L643.9,559.0 Z" fill="url(#gDrop)"/>
<path d="M568.0,627.1 L566.7,628.6 L564.6,629.9 L561.8,629.2 L560.9,625.7 L561.3,624.2 L563.7,622.9 L566.0,623.9 Z" fill="url(#gDrop)"/>
<path d="M607.4,569.9 L605.6,572.4 L603.4,572.6 L601.9,572.1 L600.1,569.0 L601.8,566.9 L604.1,565.7 L606.3,567.2 Z" fill="url(#gDrop)"/>
<path d="M703.1,597.1 L699.8,603.2 L696.5,605.1 L692.1,603.3 L690.4,597.7 L693.3,593.7 L698.2,592.5 L701.2,594.1 Z" fill="url(#gDrop)"/>
<path d="M592.5,573.1 L591.0,577.8 L586.5,579.4 L583.0,577.0 L582.2,574.9 L583.6,569.7 L587.2,568.5 L592.1,569.7 Z" fill="url(#gDrop)"/>
<path d="M547.6,612.5 L547.6,614.7 L543.4,615.6 L542.3,615.2 L540.9,612.0 L541.5,608.8 L545.1,608.1 L547.4,609.9 Z" fill="url(#gDrop)"/>
<path d="M766.0,617.4 L764.5,621.4 L761.6,623.4 L757.1,623.4 L753.7,617.2 L755.8,613.3 L761.2,611.5 L764.8,614.3 Z" fill="url(#gDrop)"/>
<path d="M742.6,592.5 L740.7,595.9 L737.6,599.0 L732.7,596.6 L731.8,591.7 L733.0,587.4 L737.2,587.1 L741.5,589.0 Z" fill="url(#gDrop)"/>
<path d="M806.8,579.4 L806.7,582.9 L801.9,583.8 L799.0,583.0 L798.6,580.4 L799.0,575.6 L802.6,574.9 L806.6,577.2 Z" fill="url(#gDrop)"/>
<path d="M879.3,591.9 L878.1,596.6 L873.9,597.5 L870.2,594.9 L867.9,589.8 L869.4,587.5 L873.7,585.8 L877.6,586.3 Z" fill="url(#gDrop)"/>
<path d="M658.7,559.6 L657.6,561.6 L656.0,562.9 L652.9,560.8 L651.6,558.2 L652.2,557.2 L655.1,556.1 L658.0,556.7 Z" fill="url(#gDrop)"/>
<path d="M795.8,585.0 L794.9,587.1 L792.2,588.7 L788.4,588.2 L786.7,583.3 L787.9,580.6 L791.5,580.5 L793.5,580.6 Z" fill="url(#gDrop)"/>
<path d="M652.3,582.6 L651.0,585.3 L647.4,587.3 L643.9,586.2 L643.6,583.5 L644.3,579.2 L648.1,578.5 L651.2,579.9 Z" fill="url(#gDrop)"/>
<path d="M578.2,603.4 L577.8,606.0 L573.1,607.2 L570.5,605.7 L569.5,603.8 L570.3,601.2 L574.5,599.1 L576.9,599.3 Z" fill="url(#gDrop)"/>
<path d="M637.0,556.2 L636.3,558.5 L630.4,561.7 L624.9,559.9 L623.4,555.5 L627.1,550.5 L630.4,548.1 L635.9,550.8 Z" fill="url(#gDrop)"/>
<path d="M868.8,573.5 L865.6,578.3 L860.3,579.7 L857.0,578.0 L855.8,571.9 L858.3,567.5 L863.2,565.3 L866.5,567.6 Z" fill="url(#gDrop)"/>
<path d="M537.1,603.2 L536.5,604.7 L534.2,605.6 L532.2,604.8 L530.6,602.8 L531.4,600.8 L533.9,599.8 L536.0,600.2 Z" fill="url(#gDrop)"/>
<path d="M772.6,590.7 L770.5,597.9 L766.7,597.9 L760.3,596.2 L760.2,590.3 L762.4,585.3 L765.5,583.8 L769.8,586.5 Z" fill="url(#gDrop)"/>
<path d="M939.8,556.6 L938.7,559.4 L933.8,562.1 L931.3,559.5 L930.9,556.6 L931.8,553.7 L934.3,552.4 L939.3,554.3 Z" fill="url(#gDrop)"/>
<path d="M840.0,571.4 L837.5,576.4 L834.6,577.2 L832.1,575.7 L830.7,572.1 L831.4,568.8 L835.6,567.7 L837.9,567.7 Z" fill="url(#gDrop)"/>
<path d="M907.9,581.7 L906.9,583.5 L905.1,584.2 L902.5,583.6 L902.3,580.9 L902.4,578.7 L905.0,577.3 L907.2,578.9 Z" fill="url(#gDrop)"/>
<path d="M851.2,555.8 L849.7,558.7 L844.2,561.2 L840.0,558.5 L838.6,555.7 L839.7,550.9 L843.5,549.0 L848.8,549.9 Z" fill="url(#gDrop)"/>
<path d="M669.5,595.3 L667.2,600.4 L663.9,600.7 L659.7,598.2 L658.3,595.2 L659.8,590.8 L664.7,588.8 L667.2,589.8 Z" fill="url(#gDrop)"/>
<path d="M508.2,634.1 L507.0,635.8 L504.9,636.6 L502.9,636.3 L502.1,634.4 L502.5,632.3 L505.4,630.8 L507.1,632.1 Z" fill="url(#gDrop)"/>
<path d="M666.4,624.2 L664.8,625.7 L661.6,627.5 L659.5,625.8 L658.4,622.8 L659.5,620.8 L662.1,619.3 L664.8,620.6 Z" fill="url(#gDrop)"/>
<path d="M912.3,554.9 L911.3,558.0 L908.6,558.5 L905.6,557.8 L905.3,555.1 L906.4,552.1 L908.5,551.3 L911.5,552.2 Z" fill="url(#gDrop)"/>
<path d="M733.0,623.9 L731.0,626.9 L729.3,627.2 L727.4,626.1 L726.4,623.8 L727.5,622.5 L729.6,621.2 L732.3,622.6 Z" fill="url(#gDrop)"/>
<path d="M600.7,625.8 L600.0,628.5 L596.8,629.7 L593.7,628.1 L593.3,625.4 L594.9,622.6 L597.3,622.4 L599.4,622.9 Z" fill="url(#gDrop)"/>
<path d="M646.2,626.3 L644.1,631.7 L641.2,632.5 L637.4,631.6 L635.4,627.3 L637.7,622.2 L639.6,621.3 L644.7,623.2 Z" fill="url(#gDrop)"/>
<path d="M966.5,559.8 L965.0,562.7 L962.1,562.6 L961.2,562.0 L959.6,559.3 L960.7,556.7 L962.3,555.8 L965.4,557.3 Z" fill="url(#gDrop)"/>
<path d="M865.4,555.9 L864.9,558.0 L862.4,559.2 L860.7,558.3 L859.8,556.3 L860.5,553.8 L862.9,553.4 L864.2,554.3 Z" fill="url(#gDrop)"/>
<path d="M637.4,587.6 L636.9,589.6 L633.4,590.9 L630.9,590.6 L630.6,588.0 L631.9,584.7 L634.3,584.2 L636.7,585.7 Z" fill="url(#gDrop)"/>
<path d="M491.8,591.0 L489.4,594.9 L487.4,596.7 L482.9,594.1 L482.9,591.5 L484.1,588.0 L488.1,586.7 L489.7,587.9 Z" fill="url(#gDrop)"/>
<path d="M599.0,561.5 L599.0,562.7 L596.0,563.8 L594.0,563.2 L593.6,561.5 L594.5,558.5 L596.9,557.6 L598.3,558.0 Z" fill="url(#gDrop)"/>
<path d="M596.2,608.2 L594.8,611.9 L593.6,612.6 L589.6,611.2 L589.3,608.8 L590.9,606.0 L592.4,605.8 L595.8,606.7 Z" fill="url(#gDrop)"/>
<path d="M735.6,610.3 L735.3,613.8 L730.8,615.6 L726.2,613.9 L725.7,611.0 L727.2,606.9 L731.0,606.1 L734.1,606.6 Z" fill="url(#gDrop)"/>
<path d="M955.9,589.5 L954.4,593.4 L950.6,594.2 L947.7,592.5 L945.8,587.8 L946.7,585.9 L951.9,583.3 L953.6,585.0 Z" fill="url(#gDrop)"/>
<path d="M563.9,584.9 L563.6,586.4 L561.2,587.3 L558.7,586.0 L558.3,583.9 L558.8,582.0 L560.3,581.2 L563.0,581.6 Z" fill="url(#gDrop)"/>
<path d="M623.1,594.8 L621.6,597.4 L619.0,600.4 L615.0,599.1 L613.1,595.0 L614.4,591.2 L617.4,589.7 L622.3,590.8 Z" fill="url(#gDrop)"/>
<path d="M856.5,582.6 L855.1,585.4 L853.5,586.9 L851.1,586.0 L849.8,583.9 L850.9,580.3 L852.3,579.6 L854.7,581.0 Z" fill="url(#gDrop)"/>
<path d="M769.4,550.4 L767.9,552.4 L764.6,552.8 L763.3,552.3 L762.0,550.0 L762.2,547.0 L766.2,545.5 L767.3,546.6 Z" fill="url(#gDrop)"/>
<path d="M514.0,611.0 L513.2,613.6 L511.0,614.4 L508.7,614.5 L507.4,611.3 L508.6,609.0 L510.1,608.7 L512.9,610.1 Z" fill="url(#gDrop)"/>
<path d="M753.2,628.7 L752.4,631.9 L748.8,634.0 L743.6,631.2 L742.3,628.4 L743.5,623.3 L748.1,622.4 L752.4,624.6 Z" fill="url(#gDrop)"/>
<path d="M908.5,567.9 L906.9,571.3 L902.9,572.6 L900.2,571.5 L897.8,568.4 L899.3,564.3 L902.3,563.4 L905.9,564.5 Z" fill="url(#gDrop)"/>
<path d="M925.4,588.8 L923.5,592.4 L921.2,593.4 L919.0,592.4 L917.9,589.5 L919.1,586.8 L921.7,586.3 L924.6,587.7 Z" fill="url(#gDrop)"/>
<path d="M739.7,577.8 L739.3,581.3 L736.7,583.1 L732.2,580.9 L730.8,577.2 L732.9,574.3 L734.6,573.8 L738.9,576.0 Z" fill="url(#gDrop)"/>
<path d="M801.8,558.7 L800.2,563.8 L796.3,565.3 L792.3,562.4 L792.1,559.9 L793.0,556.9 L797.6,553.9 L799.3,555.5 Z" fill="url(#gDrop)"/>
<path d="M617.0,613.5 L616.6,616.8 L611.0,619.0 L607.9,617.7 L605.8,613.3 L608.4,609.8 L612.7,608.8 L616.0,610.2 Z" fill="url(#gDrop)"/>
<path d="M476.6,612.8 L476.0,614.5 L472.6,616.7 L469.2,614.8 L468.0,612.9 L470.0,608.3 L472.7,607.4 L474.8,608.3 Z" fill="url(#gDrop)"/>
<path d="M591.2,632.2 L589.9,635.5 L585.2,637.7 L580.7,636.0 L580.8,632.3 L582.3,627.9 L584.7,626.0 L590.9,629.0 Z" fill="url(#gDrop)"/>
<path d="M515.9,621.4 L515.4,624.0 L512.6,623.9 L510.4,623.0 L509.3,621.4 L509.7,619.1 L512.5,618.0 L515.5,619.1 Z" fill="url(#gDrop)"/>
<path d="M992.0,587.5 L990.1,591.0 L983.7,593.8 L979.8,592.0 L979.8,588.0 L981.6,581.8 L984.5,581.4 L990.2,582.6 Z" fill="url(#gDrop)"/>
<path d="M726.5,579.5 L725.9,581.3 L722.9,581.9 L720.9,581.2 L719.9,579.0 L721.7,576.0 L724.0,575.5 L725.2,576.2 Z" fill="url(#gDrop)"/>
<path d="M541.5,633.2 L540.6,635.7 L537.5,636.8 L535.2,635.2 L534.6,632.3 L535.1,631.3 L537.6,629.8 L539.8,630.0 Z" fill="url(#gDrop)"/>
<path d="M849.4,593.7 L847.5,597.6 L844.2,597.6 L840.2,595.9 L839.1,593.7 L841.8,588.8 L843.1,587.8 L847.6,589.5 Z" fill="url(#gDrop)"/>
<path d="M690.7,570.4 L690.5,571.8 L688.0,572.9 L685.5,571.9 L685.1,569.5 L685.4,567.8 L688.5,567.1 L689.9,567.8 Z" fill="url(#gDrop)"/>
<path d="M925.4,569.4 L924.2,573.2 L921.8,573.8 L919.3,573.4 L917.7,569.3 L918.5,567.4 L921.8,566.4 L924.9,567.8 Z" fill="url(#gDrop)"/>
<path d="M703.6,583.7 L702.1,587.0 L699.3,587.9 L694.2,586.7 L693.6,583.6 L694.8,580.7 L698.8,579.3 L702.7,581.1 Z" fill="url(#gDrop)"/>
<path d="M803.4,594.1 L803.2,597.0 L799.1,598.2 L794.6,597.6 L793.1,593.8 L795.9,590.3 L798.0,589.2 L801.9,589.7 Z" fill="url(#gDrop)"/>
<path d="M683.4,604.0 L683.2,605.8 L680.0,606.9 L677.5,605.5 L677.1,603.2 L678.6,600.7 L679.7,599.9 L683.2,601.5 Z" fill="url(#gDrop)"/>
<path d="M738.3,565.2 L737.3,568.6 L734.4,570.5 L731.4,568.7 L730.6,566.0 L730.9,563.8 L734.7,562.6 L737.3,563.8 Z" fill="url(#gDrop)"/>
<path d="M746.2,556.7 L744.1,560.5 L742.7,561.7 L739.4,559.3 L738.4,556.9 L739.7,555.2 L742.7,553.9 L745.1,555.3 Z" fill="url(#gDrop)"/>
<path d="M705.6,551.9 L703.3,557.9 L700.6,560.9 L694.1,558.4 L690.9,553.9 L692.9,548.3 L698.7,545.2 L703.3,548.2 Z" fill="url(#gDrop)"/>
<path d="M921.5,558.4 L920.8,560.3 L918.8,562.1 L915.6,560.7 L914.7,558.2 L916.0,556.1 L918.3,554.6 L920.4,555.3 Z" fill="url(#gDrop)"/>
<path d="M726.0,567.4 L724.6,569.4 L721.6,570.1 L719.7,569.3 L718.3,566.1 L719.5,564.0 L722.4,562.9 L725.0,563.3 Z" fill="url(#gDrop)"/>
<path d="M774.1,604.4 L771.9,608.0 L769.7,608.4 L767.2,607.1 L766.1,603.8 L767.4,602.7 L770.7,601.0 L772.1,601.7 Z" fill="url(#gDrop)"/>
<path d="M718.3,575.7 L716.9,578.1 L715.0,579.1 L712.4,577.5 L711.2,575.2 L712.2,572.2 L715.1,571.3 L716.8,572.1 Z" fill="url(#gDrop)"/>
<path d="M759.8,582.3 L759.2,584.1 L756.4,585.0 L754.4,583.8 L753.3,581.5 L754.4,579.5 L756.9,578.5 L759.4,580.1 Z" fill="url(#gDrop)"/>
<path d="M641.7,579.4 L640.3,580.5 L638.0,581.9 L635.3,580.9 L634.6,579.5 L635.9,576.1 L637.6,574.9 L640.0,575.7 Z" fill="url(#gDrop)"/>
<path d="M988.3,572.5 L985.6,578.0 L981.1,578.1 L977.6,575.7 L976.8,571.7 L977.6,568.7 L982.1,566.1 L985.8,567.3 Z" fill="url(#gDrop)"/>
<path d="M504.6,594.5 L504.5,596.8 L500.4,598.1 L497.7,597.1 L495.1,593.2 L497.3,588.8 L501.1,588.7 L503.5,590.0 Z" fill="url(#gDrop)"/>
<circle cx="651.2" cy="604.2" r="0.8" fill="#e9f2f8" opacity="0.9"/>
<circle cx="571.7" cy="620.5" r="1.1" fill="#e9f2f8" opacity="0.9"/>
<circle cx="621.1" cy="620.6" r="1.3" fill="#e9f2f8" opacity="0.9"/>
<circle cx="631.7" cy="575.6" r="1.8" fill="#e9f2f8" opacity="0.9"/>
<circle cx="722.2" cy="590.7" r="1.0" fill="#e9f2f8" opacity="0.9"/>
<circle cx="586.7" cy="581.2" r="1.6" fill="#e9f2f8" opacity="0.9"/>
<circle cx="750.6" cy="567.6" r="1.9" fill="#e9f2f8" opacity="0.9"/>
<circle cx="626.7" cy="562.1" r="1.6" fill="#e9f2f8" opacity="0.9"/>
<circle cx="570.2" cy="611.1" r="1.2" fill="#e9f2f8" opacity="0.9"/>
<circle cx="741.5" cy="584.8" r="1.2" fill="#e9f2f8" opacity="0.9"/>
<circle cx="594.8" cy="627.5" r="1.1" fill="#e9f2f8" opacity="0.9"/>
<circle cx="707.8" cy="616.4" r="1.0" fill="#e9f2f8" opacity="0.9"/>
<circle cx="628.8" cy="593.7" r="1.4" fill="#e9f2f8" opacity="0.9"/>
<circle cx="646.3" cy="620.2" r="1.8" fill="#e9f2f8" opacity="0.9"/>
<circle cx="608.0" cy="604.7" r="1.7" fill="#e9f2f8" opacity="0.9"/>
<circle cx="653.2" cy="577.3" r="1.4" fill="#e9f2f8" opacity="0.9"/>
<circle cx="655.7" cy="601.0" r="0.9" fill="#e9f2f8" opacity="0.9"/>
<circle cx="601.4" cy="579.2" r="0.8" fill="#e9f2f8" opacity="0.9"/>
<circle cx="754.9" cy="591.4" r="1.0" fill="#e9f2f8" opacity="0.9"/>
<circle cx="617.4" cy="604.7" r="0.8" fill="#e9f2f8" opacity="0.9"/>
<circle cx="721.4" cy="566.1" r="1.9" fill="#e9f2f8" opacity="0.9"/>
<circle cx="758.0" cy="610.8" r="1.9" fill="#e9f2f8" opacity="0.9"/>
<circle cx="751.0" cy="563.0" r="1.7" fill="#e9f2f8" opacity="0.9"/>
<circle cx="545.1" cy="617.8" r="1.5" fill="#e9f2f8" opacity="0.9"/>
<circle cx="728.2" cy="609.3" r="1.9" fill="#e9f2f8" opacity="0.9"/>
<circle cx="547.9" cy="606.2" r="1.1" fill="#e9f2f8" opacity="0.9"/>
<circle cx="633.3" cy="570.3" r="1.9" fill="#e9f2f8" opacity="0.9"/>
<circle cx="600.9" cy="586.2" r="1.5" fill="#e9f2f8" opacity="0.9"/>
<circle cx="636.1" cy="619.5" r="1.3" fill="#e9f2f8" opacity="0.9"/>
<circle cx="689.3" cy="573.9" r="1.9" fill="#e9f2f8" opacity="0.9"/>
<circle cx="552.5" cy="637.1" r="1.0" fill="#e9f2f8" opacity="0.9"/>
<circle cx="702.1" cy="588.1" r="1.2" fill="#e9f2f8" opacity="0.9"/>
<circle cx="557.4" cy="581.5" r="1.7" fill="#e9f2f8" opacity="0.9"/>
<circle cx="553.8" cy="610.4" r="1.1" fill="#e9f2f8" opacity="0.9"/>
<circle cx="705.4" cy="593.0" r="2.0" fill="#e9f2f8" opacity="0.9"/>
<circle cx="658.2" cy="632.6" r="1.9" fill="#e9f2f8" opacity="0.9"/>
<circle cx="648.3" cy="563.8" r="2.1" fill="#e9f2f8" opacity="0.9"/>
<circle cx="584.6" cy="633.8" r="1.2" fill="#e9f2f8" opacity="0.9"/>
<circle cx="711.4" cy="588.5" r="1.4" fill="#e9f2f8" opacity="0.9"/>
<circle cx="629.9" cy="619.0" r="1.0" fill="#e9f2f8" opacity="0.9"/>
<circle cx="726.8" cy="571.7" r="1.1" fill="#e9f2f8" opacity="0.9"/>
<circle cx="728.2" cy="596.0" r="1.5" fill="#e9f2f8" opacity="0.9"/>
<circle cx="687.1" cy="566.8" r="0.9" fill="#e9f2f8" opacity="0.9"/>
<circle cx="710.7" cy="573.5" r="1.1" fill="#e9f2f8" opacity="0.9"/>
<circle cx="552.4" cy="600.0" r="0.9" fill="#e9f2f8" opacity="0.9"/>
<circle cx="682.5" cy="565.1" r="2.1" fill="#e9f2f8" opacity="0.9"/>
<circle cx="658.9" cy="602.6" r="2.1" fill="#e9f2f8" opacity="0.9"/>
<circle cx="554.6" cy="585.8" r="2.0" fill="#e9f2f8" opacity="0.9"/>
<circle cx="580.0" cy="632.4" r="0.8" fill="#e9f2f8" opacity="0.9"/>
<circle cx="714.0" cy="570.1" r="2.0" fill="#e9f2f8" opacity="0.9"/>
<circle cx="569.2" cy="595.4" r="1.8" fill="#e9f2f8" opacity="0.9"/>
<circle cx="636.1" cy="602.5" r="1.0" fill="#e9f2f8" opacity="0.9"/>
<circle cx="654.8" cy="599.2" r="1.3" fill="#e9f2f8" opacity="0.9"/>
<circle cx="613.0" cy="590.5" r="1.8" fill="#e9f2f8" opacity="0.9"/>
<circle cx="558.8" cy="596.0" r="1.1" fill="#e9f2f8" opacity="0.9"/>
<circle cx="580.1" cy="575.2" r="2.1" fill="#e9f2f8" opacity="0.9"/>
<circle cx="571.6" cy="594.3" r="1.8" fill="#e9f2f8" opacity="0.9"/>
<circle cx="719.9" cy="583.0" r="1.5" fill="#e9f2f8" opacity="0.9"/>
<circle cx="712.7" cy="624.8" r="1.9" fill="#e9f2f8" opacity="0.9"/>
<circle cx="586.2" cy="597.0" r="1.5" fill="#e9f2f8" opacity="0.9"/>
<circle cx="631.3" cy="632.0" r="1.3" fill="#e9f2f8" opacity="0.9"/>
<circle cx="710.6" cy="621.0" r="1.5" fill="#e9f2f8" opacity="0.9"/>
<circle cx="722.8" cy="584.7" r="1.1" fill="#e9f2f8" opacity="0.9"/>
<circle cx="755.2" cy="575.6" r="1.0" fill="#e9f2f8" opacity="0.9"/>
<circle cx="623.1" cy="628.5" r="0.9" fill="#e9f2f8" opacity="0.9"/>
<circle cx="633.6" cy="592.6" r="2.0" fill="#e9f2f8" opacity="0.9"/>
<circle cx="650.7" cy="569.7" r="1.4" fill="#e9f2f8" opacity="0.9"/>
<circle cx="634.7" cy="586.7" r="1.6" fill="#e9f2f8" opacity="0.9"/>
<circle cx="547.9" cy="575.8" r="1.4" fill="#e9f2f8" opacity="0.9"/>
<circle cx="616.5" cy="561.1" r="1.7" fill="#e9f2f8" opacity="0.9"/>
<circle cx="729.7" cy="595.7" r="1.9" fill="#e9f2f8" opacity="0.9"/>
<circle cx="641.7" cy="588.8" r="1.7" fill="#e9f2f8" opacity="0.9"/>
<circle cx="639.5" cy="636.8" r="2.0" fill="#e9f2f8" opacity="0.9"/>
<circle cx="655.7" cy="570.6" r="0.9" fill="#e9f2f8" opacity="0.9"/>
<circle cx="691.3" cy="562.8" r="1.4" fill="#e9f2f8" opacity="0.9"/>
<circle cx="579.2" cy="607.6" r="1.3" fill="#e9f2f8" opacity="0.9"/>
<circle cx="550.1" cy="630.1" r="2.1" fill="#e9f2f8" opacity="0.9"/>
<circle cx="738.0" cy="596.1" r="1.9" fill="#e9f2f8" opacity="0.9"/>
<circle cx="664.1" cy="638.8" r="1.5" fill="#e9f2f8" opacity="0.9"/>
<circle cx="574.5" cy="610.2" r="1.0" fill="#e9f2f8" opacity="0.9"/>
<circle cx="640.9" cy="577.3" r="1.1" fill="#e9f2f8" opacity="0.9"/>
<circle cx="623.6" cy="604.9" r="1.4" fill="#e9f2f8" opacity="0.9"/>
<circle cx="577.1" cy="607.3" r="2.0" fill="#e9f2f8" opacity="0.9"/>
<circle cx="649.7" cy="626.3" r="1.4" fill="#e9f2f8" opacity="0.9"/>
<circle cx="736.4" cy="586.1" r="2.0" fill="#e9f2f8" opacity="0.9"/>
<circle cx="681.4" cy="634.7" r="1.5" fill="#e9f2f8" opacity="0.9"/>
<circle cx="605.9" cy="579.9" r="2.1" fill="#e9f2f8" opacity="0.9"/>
<circle cx="664.6" cy="604.6" r="1.8" fill="#e9f2f8" opacity="0.9"/>
<circle cx="634.9" cy="610.5" r="2.0" fill="#e9f2f8" opacity="0.9"/>
<circle cx="697.5" cy="576.2" r="1.6" fill="#e9f2f8" opacity="0.9"/>
<circle cx="544.3" cy="578.3" r="1.8" fill="#e9f2f8" opacity="0.9"/>
<circle cx="540.8" cy="625.7" r="1.7" fill="#e9f2f8" opacity="0.9"/>
<circle cx="590.4" cy="638.2" r="1.9" fill="#e9f2f8" opacity="0.9"/>
<circle cx="615.6" cy="566.2" r="2.2" fill="#e9f2f8" opacity="0.9"/>
<circle cx="543.3" cy="586.6" r="1.1" fill="#e9f2f8" opacity="0.9"/>
<circle cx="735.8" cy="590.6" r="1.8" fill="#e9f2f8" opacity="0.9"/>
<circle cx="672.8" cy="615.4" r="1.1" fill="#e9f2f8" opacity="0.9"/>
<circle cx="712.6" cy="578.2" r="1.4" fill="#e9f2f8" opacity="0.9"/>
<circle cx="553.2" cy="563.9" r="2.0" fill="#e9f2f8" opacity="0.9"/>
<circle cx="587.2" cy="560.7" r="1.7" fill="#e9f2f8" opacity="0.9"/>
<circle cx="628.4" cy="614.1" r="2.0" fill="#e9f2f8" opacity="0.9"/>
<circle cx="583.5" cy="611.3" r="1.2" fill="#e9f2f8" opacity="0.9"/>
<circle cx="718.0" cy="579.3" r="1.1" fill="#e9f2f8" opacity="0.9"/>
<circle cx="631.7" cy="619.0" r="0.9" fill="#e9f2f8" opacity="0.9"/>
<circle cx="584.0" cy="630.3" r="1.1" fill="#e9f2f8" opacity="0.9"/>
<circle cx="633.9" cy="561.3" r="1.7" fill="#e9f2f8" opacity="0.9"/>
<circle cx="703.8" cy="609.0" r="1.4" fill="#e9f2f8" opacity="0.9"/>
<circle cx="665.8" cy="625.8" r="2.1" fill="#e9f2f8" opacity="0.9"/>
<circle cx="679.4" cy="636.9" r="1.0" fill="#e9f2f8" opacity="0.9"/>
<circle cx="687.5" cy="581.5" r="2.1" fill="#e9f2f8" opacity="0.9"/>
<circle cx="663.5" cy="652.1" r="5.2" fill="url(#gDropB)"/>
<circle cx="677.9" cy="662.7" r="5.3" fill="url(#gDropB)"/>
<circle cx="470.1" cy="666.2" r="2.1" fill="url(#gDropB)"/>
<circle cx="617.0" cy="644.6" r="4.7" fill="url(#gDropB)"/>
<circle cx="518.3" cy="644.9" r="4.0" fill="url(#gDropB)"/>
<circle cx="534.8" cy="673.7" r="4.5" fill="url(#gDropB)"/>
<circle cx="470.2" cy="662.5" r="5.3" fill="url(#gDropB)"/>
<circle cx="496.6" cy="666.6" r="5.8" fill="url(#gDropB)"/>
<circle cx="519.1" cy="667.1" r="2.6" fill="url(#gDropB)"/>
<circle cx="560.4" cy="644.5" r="4.4" fill="url(#gDropB)"/>
<circle cx="596.7" cy="659.1" r="2.8" fill="url(#gDropB)"/>
<circle cx="651.3" cy="653.1" r="3.1" fill="url(#gDropB)"/>
<circle cx="504.1" cy="668.0" r="3.4" fill="url(#gDropB)"/>
<circle cx="500.9" cy="644.3" r="2.4" fill="url(#gDropB)"/>
<circle cx="514.5" cy="662.0" r="4.1" fill="url(#gDropB)"/>
<circle cx="503.1" cy="655.3" r="2.2" fill="url(#gDropB)"/>
<circle cx="561.0" cy="666.1" r="5.0" fill="url(#gDropB)"/>
<circle cx="674.9" cy="665.7" r="3.6" fill="url(#gDropB)"/>
<circle cx="497.4" cy="647.3" r="3.0" fill="url(#gDropB)"/>
<circle cx="593.4" cy="654.0" r="3.6" fill="url(#gDropB)"/>
<circle cx="651.7" cy="665.3" r="5.9" fill="url(#gDropB)"/>
<circle cx="587.5" cy="651.9" r="4.4" fill="url(#gDropB)"/>
<circle cx="578.4" cy="667.0" r="3.0" fill="url(#gDropB)"/>
<circle cx="508.0" cy="658.7" r="2.3" fill="url(#gDropB)"/>
<circle cx="591.6" cy="651.8" r="5.0" fill="url(#gDropB)"/>
<circle cx="697.8" cy="658.5" r="5.3" fill="url(#gDropB)"/>
<circle cx="490.2" cy="645.0" r="3.3" fill="url(#gDropB)"/>
<circle cx="554.5" cy="649.6" r="3.5" fill="url(#gDropB)"/>
<circle cx="619.7" cy="647.4" r="3.1" fill="url(#gDropB)"/>
<circle cx="470.5" cy="660.3" r="4.5" fill="url(#gDropB)"/>
<circle cx="653.4" cy="644.8" r="2.7" fill="url(#gDropB)"/>
<circle cx="534.3" cy="660.5" r="5.8" fill="url(#gDropB)"/>
<circle cx="683.9" cy="645.0" r="4.5" fill="url(#gDropB)"/>
<circle cx="651.2" cy="666.6" r="4.8" fill="url(#gDropB)"/>
<circle cx="471.0" cy="646.0" r="5.4" fill="url(#gDropB)"/>
<circle cx="553.6" cy="648.0" r="5.1" fill="url(#gDropB)"/>
<circle cx="543.7" cy="656.7" r="4.5" fill="url(#gDropB)"/>
<circle cx="514.8" cy="652.9" r="3.2" fill="url(#gDropB)"/>
<circle cx="510.5" cy="651.7" r="2.3" fill="url(#gDropB)"/>
<circle cx="539.6" cy="644.6" r="3.6" fill="url(#gDropB)"/>
<circle cx="655.8" cy="662.4" r="2.7" fill="url(#gDropB)"/>
<circle cx="692.9" cy="657.4" r="5.5" fill="url(#gDropB)"/>
<circle cx="475.5" cy="650.8" r="3.0" fill="url(#gDropB)"/>
<circle cx="694.2" cy="645.6" r="5.7" fill="url(#gDropB)"/>
<circle cx="574.7" cy="660.9" r="4.0" fill="url(#gDropB)"/>
<circle cx="486.9" cy="651.2" r="4.7" fill="url(#gDropB)"/>
<circle cx="506.8" cy="652.7" r="4.3" fill="url(#gDropB)"/>
<circle cx="686.9" cy="659.4" r="2.1" fill="url(#gDropB)"/>
<circle cx="682.6" cy="657.9" r="2.4" fill="url(#gDropB)"/>
<circle cx="680.2" cy="670.4" r="2.6" fill="url(#gDropB)"/>
<circle cx="572.0" cy="650.9" r="4.7" fill="url(#gDropB)"/>
<circle cx="677.9" cy="671.9" r="5.9" fill="url(#gDropB)"/>
<circle cx="501.9" cy="659.1" r="3.3" fill="url(#gDropB)"/>
<circle cx="507.0" cy="651.3" r="2.2" fill="url(#gDropB)"/>
<circle cx="568.7" cy="671.3" r="3.5" fill="url(#gDropB)"/>
<circle cx="618.8" cy="650.8" r="2.2" fill="url(#gDropB)"/>
<circle cx="531.1" cy="669.2" r="5.0" fill="url(#gDropB)"/>
<circle cx="507.6" cy="644.6" r="3.1" fill="url(#gDropB)"/>
<circle cx="480.5" cy="645.7" r="3.2" fill="url(#gDropB)"/>
<circle cx="623.6" cy="652.1" r="2.6" fill="url(#gDropB)"/>
<circle cx="595.0" cy="645.8" r="3.5" fill="url(#gDropB)"/>
<circle cx="606.7" cy="660.4" r="4.4" fill="url(#gDropB)"/>
<circle cx="650.8" cy="668.2" r="3.1" fill="url(#gDropB)"/>
<circle cx="592.0" cy="660.0" r="4.7" fill="url(#gDropB)"/>
<circle cx="680.2" cy="671.6" r="3.2" fill="url(#gDropB)"/>
<circle cx="610.1" cy="665.6" r="3.2" fill="url(#gDropB)"/>
<circle cx="644.0" cy="673.4" r="5.0" fill="url(#gDropB)"/>
<circle cx="679.4" cy="649.0" r="5.4" fill="url(#gDropB)"/>
<circle cx="620.4" cy="650.0" r="2.1" fill="url(#gDropB)"/>
<circle cx="488.3" cy="650.8" r="4.8" fill="url(#gDropB)"/>
<circle cx="629.7" cy="668.6" r="4.7" fill="url(#gDropB)"/>
<circle cx="577.8" cy="652.3" r="3.0" fill="url(#gDropB)"/>
<circle cx="606.5" cy="646.2" r="3.9" fill="url(#gDropB)"/>
<circle cx="616.9" cy="655.0" r="5.6" fill="url(#gDropB)"/>
<circle cx="483.9" cy="644.2" r="3.4" fill="url(#gDropB)"/>
<path d="M480,636 Q600,628 715,631 L715,643 Q600,642 480,646 Z" fill="url(#gWater)"/>
<path d="M605,541 L617,556 L609,556 L609,606 L601,606 L601,556 L593,556 Z" fill="url(#gArrow)" stroke="#e9f4fc" stroke-width="1"/>
<path d="M685,541 L697,556 L689,556 L689,606 L681,606 L681,556 L673,556 Z" fill="url(#gArrow)" stroke="#e9f4fc" stroke-width="1"/>
<path d="M776,541 L788,556 L780,556 L780,606 L772,606 L772,556 L764,556 Z" fill="url(#gArrow)" stroke="#e9f4fc" stroke-width="1"/>
<!-- ===== front left structure ===== -->
<defs>
<linearGradient id="gGus2" x1="0" y1="0" x2="1" y2="0"><stop offset="0" stop-color="#a3a7ab"/><stop offset="0.35" stop-color="#c2c5c8"/><stop offset="0.7" stop-color="#b7babe"/><stop offset="1" stop-color="#cfd2d4"/></linearGradient>
<linearGradient id="gRail2" x1="0" y1="0" x2="1" y2="0"><stop offset="0" stop-color="#a9adb1"/><stop offset="0.4" stop-color="#c4c7ca"/><stop offset="0.75" stop-color="#d9dbdd"/><stop offset="1" stop-color="#c2c5c8"/></linearGradient>
<linearGradient id="gBrk" x1="0" y1="0" x2="1" y2="0"><stop offset="0" stop-color="#9da1a5"/><stop offset="0.5" stop-color="#c8cbce"/><stop offset="1" stop-color="#b3b6ba"/></linearGradient>
<linearGradient id="gBox" x1="0" y1="0" x2="0" y2="1"><stop offset="0" stop-color="#c9cccf"/><stop offset="1" stop-color="#9a9ea3"/></linearGradient>
</defs>
<!-- inlet box -->
<polygon points="233,419 250,413 305,413 276,421" fill="#c6c9cc"/>
<polygon points="276,421 305,413 305,452 276,462" fill="#33373c"/>
<rect x="233" y="420" width="43" height="42" fill="url(#gBox)" stroke="#dfe1e3" stroke-width="1.5"/>
<!-- left upright -->
<polygon points="179,390 207,366 242,366 247,374 232,391 232,443 179,443" fill="#c6c9cc"/>
<polygon points="207,366 242,366 247,374 222,392 179,392" fill="#d9dbdd"/>
<polygon points="211,392 232,392 232,443 211,443" fill="#4d5257"/>
<polygon points="211,392 222,392 247,374 247,380 232,392" fill="#8e9297"/>
<line x1="179" y1="391" x2="224" y2="391" stroke="#8b9094" stroke-width="1"/>
<!-- flange -->
<rect x="168" y="437" width="36" height="132" fill="url(#gFlange)"/>
<path d="M204,440 A6,63 0 0 1 204,566" fill="none" stroke="#15181b" stroke-width="3"/>
<ellipse cx="168" cy="503" rx="10" ry="65" fill="url(#gFlange)" stroke="#75797e" stroke-width="1"/>
<path d="M177,439 A6,64 0 0 0 177,567" fill="none" stroke="#15181b" stroke-width="2.6"/>
<ellipse cx="157" cy="503" rx="9.5" ry="62" fill="url(#gFlange)" stroke="#6b6f74" stroke-width="1.2"/>
<ellipse cx="155" cy="503" rx="5" ry="58" fill="none" stroke="#f0f1f2" stroke-width="1.2" opacity="0.8"/>
<!-- bracket -->
<polygon points="183,562 207,562 207,584 263,636 265,667 218,667 204,618" fill="url(#gBrk)"/>
<polygon points="207,584 263,636 265,667 222,667 210,600" fill="#c3c6c9"/>
<line x1="207" y1="584" x2="263" y2="636" stroke="#eef0f1" stroke-width="1.5"/>
<!-- left gusset -->
<polygon points="202,518 476,637 265,636 202,584" fill="url(#gGus2)" filter="url(#brush)"/>
<line x1="202" y1="518" x2="476" y2="637" stroke="#eef0f1" stroke-width="2.5"/>
<line x1="263" y1="636" x2="476" y2="637" stroke="#5e6267" stroke-width="1.5"/>
<!-- right slanted plate -->
<polygon points="700,640 1018,598 1018,612 920,633 919,651 700,647" fill="#c3c6ca"/>
<line x1="700" y1="640" x2="1018" y2="598" stroke="#f1f2f3" stroke-width="2"/>
<polygon points="700,646 919,648 919,652 700,649" fill="#80858a"/>
<!-- tray floor and left wall -->
<polygon points="265,667 920,670 900,678 171,675" fill="#2b2f34"/>
<polygon points="169,675 216,655 222,655 222,667 196,675" fill="#a9adb1"/>
<!-- diagonal strut right -->
<polygon points="827,684 900,648 920,650 920,668 838,716 827,716" fill="#9fa3a8"/>
<polygon points="827,684 900,648 906,652 833,689" fill="#d6d8da"/>
<!-- front rail -->
<polygon points="169,675 831,684 831,716 169,714" fill="url(#gRail2)" filter="url(#brush)"/>
<line x1="169" y1="675" x2="831" y2="684" stroke="#eceeef" stroke-width="2"/>
<line x1="169" y1="714" x2="831" y2="716" stroke="#4f5358" stroke-width="1.5"/>
<rect x="169" y="676" width="28" height="38" fill="#b4b7bb" stroke="#8a8e93" stroke-width="0.8"/>
<circle cx="206.4" cy="694.3" r="5" fill="#eef0f1" stroke="#43484d" stroke-width="1.5"/>
<circle cx="816.7" cy="703" r="5" fill="#eef0f1" stroke="#43484d" stroke-width="1.5"/>
<!-- feet -->
<polygon points="172,711 247,711 238,724 160,724" fill="#c6c9cc" stroke="#6f7479" stroke-width="0.8"/>
<polygon points="160,724 238,724 247,711 247,716 239,729 160,729" fill="#2f3338"/>
<rect x="171" y="711" width="40" height="7" fill="#b4b7bb" stroke="#7c8085" stroke-width="0.6"/>
<polygon points="802,718 866,718 856,733 792,733" fill="#c3c6ca" stroke="#6f7479" stroke-width="0.8"/>
<polygon points="792,733 856,733 866,718 866,723 857,738 792,738" fill="#2f3338"/>
<rect x="806" y="714" width="42" height="10" fill="#d0d3d5" stroke="#777c81" stroke-width="0.8"/>
<!-- ===== right part ===== -->
<defs>
<linearGradient id="gEnd" x1="0" y1="0" x2="0.3" y2="1"><stop offset="0" stop-color="#8a8f94"/><stop offset="0.5" stop-color="#6e7378"/><stop offset="1" stop-color="#555a5f"/></linearGradient>
<linearGradient id="gSlab" x1="0" y1="0" x2="1" y2="0"><stop offset="0" stop-color="#aeb2b6"/><stop offset="0.4" stop-color="#e4e6e7"/><stop offset="1" stop-color="#b4b8bc"/></linearGradient>
<linearGradient id="gLeg" x1="0" y1="0" x2="1" y2="0"><stop offset="0" stop-color="#b5b9bd"/><stop offset="0.5" stop-color="#cfd2d5"/><stop offset="1" stop-color="#a4a8ad"/></linearGradient>
<linearGradient id="gTray" x1="0" y1="0" x2="0" y2="1"><stop offset="0" stop-color="#c3c6ca"/><stop offset="1" stop-color="#9a9fa4"/></linearGradient>
<linearGradient id="gFloor" x1="0" y1="0" x2="0" y2="1"><stop offset="0" stop-color="#d6d8db"/><stop offset="1" stop-color="#a9adb1"/></linearGradient>
</defs>
<polygon points="1016,590 1096,590 1100,580 1028,608 1016,614" fill="#5b6066"/>
<polygon points="1028,606 1100,580 1108,586 1108,610 1028,634" fill="#5b6066"/>
<polygon points="1028,606 1100,580 1108,586 1028,613" fill="#9ea2a7"/>
<circle cx="1027" cy="618" r="5" fill="#4d5257" stroke="#3a3e43" stroke-width="1"/>
<path d="M1000,423 L1030,388 L1072,387 Q1093,390 1094,432 L1094,596 L1000,598 Z" fill="url(#gEnd)" stroke="#4a4f54" stroke-width="1.2"/>
<polygon points="1000,423 1000,412 1026,385 1048,386 1017,423" fill="#c9ccd0" stroke="#6a6f74" stroke-width="0.8"/>
<polygon points="1017,423 1046,388 1050,388 1034,423" fill="#9fa3a8"/>
<rect x="1000" y="423" width="17.5" height="175" fill="url(#gSlab)" stroke="#62676c" stroke-width="1"/>
<rect x="1017.5" y="423" width="16" height="175" fill="url(#gSlab)" stroke="#62676c" stroke-width="1"/>
<circle cx="1077" cy="407" r="5.5" fill="#dfe2e4" stroke="#4a4f54" stroke-width="1.5"/><circle cx="1075.5" cy="405.5" r="2" fill="#fff"/>
<circle cx="1040" cy="438.6" r="5.5" fill="#dfe2e4" stroke="#4a4f54" stroke-width="1.5"/><circle cx="1038.5" cy="437.1" r="2" fill="#fff"/>
<circle cx="1042" cy="577.5" r="5.5" fill="#dfe2e4" stroke="#4a4f54" stroke-width="1.5"/><circle cx="1040.5" cy="576.0" r="2" fill="#fff"/>
<rect x="1045" y="437" width="130" height="149" rx="7" fill="url(#gCyl)" stroke="#53585d" stroke-width="1"/>
<rect x="1046" y="438" width="16" height="147" rx="6" fill="#000" opacity="0.12"/>
<line x1="1062.5" y1="440" x2="1062.5" y2="583" stroke="#eef0f1" stroke-width="1.2" opacity="0.8"/>
<ellipse cx="1174" cy="512" rx="24" ry="74" fill="url(#gCyl)" stroke="#4c5156" stroke-width="1.2"/>
<ellipse cx="1180" cy="506" rx="16" ry="60" fill="#15191d"/>
<polygon points="1271,692 1494,692 1444,744 1215,745" fill="url(#gTray)" stroke="#6f7479" stroke-width="1"/>
<polygon points="1215,745 1444,744 1444,748.5 1216,749" fill="#4b5055"/>
<line x1="1494" y1="692" x2="1444" y2="744" stroke="#eef0f1" stroke-width="2.5"/>
<path d="M1161.6,471.8 L1168.8,471.5 L1172.2,473.4 L1179.9,472.9 L1183.8,472.3 L1186.9,473.5 L1194.5,474.7 L1200.6,477.9 L1203.4,479.6 L1211.8,485.0 L1216.4,487.0 L1218.0,488.3 L1225.0,488.4 L1231.9,490.4 L1233.6,493.3 L1238.4,494.8 L1244.8,494.2 L1249.3,494.9 L1253.2,495.6 L1260.5,498.9 L1264.7,501.3 L1270.0,506.7 L1273.6,508.6 L1277.3,511.0 L1278.4,516.4 L1284.4,521.7 L1289.3,528.4 L1291.6,529.9 L1296.3,533.8 L1303.1,537.5 L1303.0,540.3 L1309.9,548.1 L1313.0,550.0 L1316.2,555.5 L1317.8,559.5 L1322.2,564.0 L1323.7,566.6 L1327.4,574.3 L1330.4,577.4 L1334.5,580.3 L1337.8,588.3 L1345.2,591.5 L1347.0,598.0 L1350.2,604.4 L1350.4,609.8 L1354.9,613.4 L1355.4,618.5 L1354.0,622.9 L1356.8,628.1 L1354.2,636.3 L1352.7,639.4 L1348.4,642.1 L1351.0,644.1 L1356.7,644.6 L1360.2,646.3 L1368.9,651.3 L1373.5,651.4 L1376.7,655.7 L1383.1,657.0 L1385.0,657.8 L1392.4,663.2 L1396.6,665.4 L1398.7,668.3 L1404.5,670.2 L1407.1,673.1 L1412.9,674.3 L1417.4,680.7 L1419.4,681.6 L1426.8,685.1 L1431.4,685.0 L1435.9,690.2 L1443.2,689.0 L1445.0,691.0 L1450.0,694.8 L1454.8,699.5 L1461.3,699.4 L1465.2,703.3 L1462.0,708.8 L1455.6,712.7 L1451.5,718.9 L1447.2,720.1 L1442.9,725.4 L1438.2,726.8 L1429.9,727.2 L1425.2,730.3 L1420.6,731.9 L1416.0,732.2 L1411.2,729.7 L1406.5,731.2 L1403.7,731.5 L1397.0,732.9 L1393.9,731.3 L1387.4,733.4 L1383.0,735.6 L1376.2,734.8 L1372.1,734.6 L1365.2,736.0 L1364.0,734.4 L1356.2,737.1 L1350.2,733.2 L1345.0,736.3 L1342.8,734.8 L1337.1,733.0 L1332.1,734.8 L1326.5,734.5 L1320.9,733.8 L1314.4,734.7 L1310.1,735.9 L1307.4,735.9 L1300.8,733.9 L1295.5,734.1 L1291.6,735.3 L1284.3,732.4 L1281.0,732.6 L1277.6,732.0 L1271.5,731.1 L1268.0,728.0 L1264.3,723.8 L1258.7,721.3 L1255.5,716.5 L1259.4,711.9 L1262.1,701.9 L1261.2,697.2 L1266.8,694.3 L1272.7,691.7 L1276.9,693.1 L1284.0,688.8 L1286.2,687.9 L1293.5,681.8 L1296.7,680.6 L1303.0,676.0 L1308.9,673.3 L1309.0,671.0 L1311.5,665.8 L1314.7,660.9 L1318.1,655.5 L1317.9,649.9 L1312.7,644.5 L1310.1,637.6 L1308.5,633.0 L1305.7,630.9 L1302.0,627.3 L1301.8,623.7 L1294.0,619.7 L1290.1,617.0 L1288.8,612.3 L1281.9,610.5 L1278.3,606.3 L1275.8,605.7 L1271.5,599.3 L1269.2,599.1 L1264.1,592.7 L1258.7,591.0 L1256.2,587.1 L1253.3,586.6 L1249.8,583.6 L1242.0,579.2 L1238.2,577.4 L1237.0,573.7 L1230.7,567.6 L1229.3,566.7 L1224.5,563.0 L1221.3,559.3 L1213.9,559.0 L1209.0,559.8 L1206.4,557.1 L1197.8,558.6 L1195.3,556.9 L1188.5,556.0 L1182.4,557.4 L1180.0,557.7 L1172.7,555.1 L1170.9,556.5 L1163.6,556.8 L1164.4,551.0 L1161.1,547.1 L1161.1,538.6 L1161.1,535.6 L1161.7,528.9 L1161.5,525.1 L1160.0,520.0 Z" fill="url(#gCake)" filter="url(#lumpyCake)"/>
<circle cx="1285.6" cy="732.4" r="3.1" fill="#5a3c20"/>
<circle cx="1449.4" cy="728.3" r="1.9" fill="#5a3c20"/>
<circle cx="1421.1" cy="733.7" r="2.6" fill="#5a3c20"/>
<circle cx="1449.9" cy="735.3" r="2.3" fill="#5a3c20"/>
<circle cx="1457.2" cy="734.5" r="3.1" fill="#5a3c20"/>
<circle cx="1252.5" cy="720.4" r="2.7" fill="#5a3c20"/>
<circle cx="1383.6" cy="730.1" r="2.8" fill="#5a3c20"/>
<circle cx="1285.5" cy="734.3" r="2.6" fill="#5a3c20"/>
<circle cx="1444.0" cy="717.0" r="3.5" fill="#5a3c20"/>
<circle cx="1372.1" cy="730.6" r="3.0" fill="#5a3c20"/>
<circle cx="1444.2" cy="720.7" r="1.7" fill="#5a3c20"/>
<circle cx="1339.2" cy="716.3" r="2.6" fill="#5a3c20"/>
<circle cx="1429.3" cy="720.7" r="1.8" fill="#5a3c20"/>
<circle cx="1255.9" cy="722.2" r="2.7" fill="#5a3c20"/>
<circle cx="1255.8" cy="728.0" r="1.9" fill="#5a3c20"/>
<circle cx="1273.5" cy="734.3" r="2.5" fill="#5a3c20"/>
<circle cx="1446.9" cy="724.3" r="1.7" fill="#5a3c20"/>
<circle cx="1302.8" cy="722.2" r="2.8" fill="#5a3c20"/>
<circle cx="1419.6" cy="730.0" r="2.8" fill="#5a3c20"/>
<circle cx="1305.6" cy="722.3" r="2.3" fill="#5a3c20"/>
<circle cx="1357.7" cy="718.4" r="2.6" fill="#5a3c20"/>
<circle cx="1350.9" cy="712.9" r="3.1" fill="#5a3c20"/>
<polygon points="1163.6,556 1219.6,559.6 1306,625.6 1243.9,625.6 1183,586 1162,583" fill="url(#gChute)" stroke="#555a5f" stroke-width="1"/>
<line x1="1219.6" y1="559.6" x2="1306" y2="625.6" stroke="#f2f3f4" stroke-width="2.5"/>
<line x1="1163.6" y1="556" x2="1219.6" y2="559.6" stroke="#eef0f1" stroke-width="2"/>
<polygon points="1018.7,597 1028,597 1028,728 1018.7,728" fill="#5c6166"/>
<polygon points="920.4,633 1018.7,610 1018.7,714 920.4,714" fill="url(#gLeg)" filter="url(#brush)"/>
<circle cx="939.3" cy="642.5" r="6.5" fill="#c9ccd0" stroke="#4f5459" stroke-width="1.5"/>
<circle cx="1001.5" cy="628.4" r="5" fill="#e6e8ea" stroke="#4f5459" stroke-width="1.5"/>
<polygon points="918,712 1055,712 1033,733 900,733" fill="#c3c6ca" stroke="#6f7479" stroke-width="0.8"/>
<polygon points="900,733 1033,733 1055,712 1055,718 1034,739 900,739" fill="#2f3338"/>
<rect x="922" y="713" width="106" height="14" fill="#d5d8da" stroke="#676c71" stroke-width="1"/>
<!-- drain arrow -->
<g transform="rotate(-7 556 672)"><path d="M556,651 L567,665 L559,665 L559,692 L553,692 L553,665 L545,665 Z" fill="url(#gArrow)" stroke="#e9f4fc" stroke-width="1"/></g>
<!-- leader lines -->
<g stroke="#fdfdfd" stroke-width="4" fill="none">
<line x1="258.5" y1="338" x2="258.5" y2="410"/>
<line x1="417.5" y1="340" x2="417.5" y2="418"/>
<line x1="604.6" y1="342" x2="604.6" y2="422"/>
<line x1="749.5" y1="342" x2="749.5" y2="427"/>
<line x1="885" y1="342" x2="885" y2="427"/>
<line x1="1046.6" y1="342" x2="1046.6" y2="420"/>
</g>
<g stroke="#2f3337" stroke-width="1.6" fill="none">
<line x1="258.5" y1="338" x2="258.5" y2="410"/>
<line x1="417.5" y1="340" x2="417.5" y2="418"/>
<line x1="604.6" y1="342" x2="604.6" y2="422"/>
<line x1="749.5" y1="342" x2="749.5" y2="427"/>
<line x1="885" y1="342" x2="885" y2="427"/>
<line x1="1046.6" y1="342" x2="1046.6" y2="420"/>
</g>
<g fill="#eceeef" stroke="#8a8e93" stroke-width="0.9">
<path d="M251.0,407 L266.0,407 L258.5,418 Z"/>
<path d="M410.0,415 L425.0,415 L417.5,426 Z"/>
<path d="M597.1,420 L612.1,420 L604.6,431 Z"/>
<path d="M742.0,424 L757.0,424 L749.5,435 Z"/>
<path d="M877.5,424 L892.5,424 L885,435 Z"/>
<path d="M1039.1,417 L1054.1,417 L1046.6,428 Z"/>
</g>
<text class="lb" stroke="#eef0f1" stroke-width="3" paint-order="stroke" stroke-linejoin="round" x="441.0" y="716.7" textLength="219.8" lengthAdjust="spacingAndGlyphs">Water Draining Out</text>
<text class="lb" x="422.8" y="768.3" textLength="246.2" lengthAdjust="spacingAndGlyphs">Filtrate Collection Tray</text>
</svg>
</body></html>
